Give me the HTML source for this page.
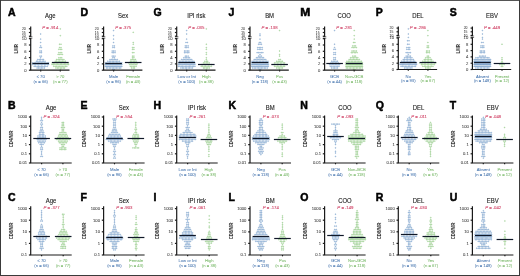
<!DOCTYPE html>
<html><head><meta charset="utf-8"><style>
html,body{margin:0;padding:0;background:#fff;}
body{width:520px;height:276px;overflow:hidden;position:relative;}
svg{position:absolute;left:0;top:0;will-change:transform;}
text{font-family:"Liberation Sans",sans-serif;}
.L{font-size:10.5px;font-weight:bold;fill:#000;stroke:#000;stroke-width:0.5;}
.T{font-size:6.6px;fill:#222;stroke:#222;stroke-width:0.12;text-anchor:middle;}
.P{font-size:4.3px;fill:#d2496b;stroke:#d2496b;stroke-width:0.1;text-anchor:middle;}
.Y{font-size:5.8px;font-weight:bold;fill:#333;stroke:#333;stroke-width:0.08;text-anchor:middle;}
.K{font-size:4.3px;fill:#444;stroke:#444;stroke-width:0.06;text-anchor:end;}
.K2{font-size:3.5px;fill:#444;stroke:#444;stroke-width:0.05;text-anchor:end;}
.X{font-size:4.2px;text-anchor:middle;stroke-width:0.05;}
.A{stroke:#1a1a1a;stroke-width:1.2;}
.A2{stroke:#222;stroke-width:0.6;}
.M{stroke:#101828;stroke-width:1.2;}
circle.b{r:0.47px;fill:#b4d0ec;stroke:#4477b0;stroke-width:0.32;}
circle.g{r:0.47px;fill:#c4e8bb;stroke:#62b052;stroke-width:0.32;}
</style></head><body>
<svg width="520" height="276" viewBox="0 0 520 276">
<rect x="0" y="0" width="520" height="276" fill="#fff"/>
<text transform="translate(8.0,15.900000000000002) scale(1.0,1)" class="L">A</text>
<text transform="translate(50.3,17.6) scale(0.9,1)" class="T">Age</text>
<text x="50.3" y="29.4" class="P"><tspan font-style="italic">P</tspan> = .914</text>
<text transform="translate(18.0,48.7) rotate(-90) scale(0.75,1)" class="Y">LMR</text>
<circle class="b" cx="40.70" cy="69.70"/>
<circle class="b" cx="37.08" cy="68.00"/>
<circle class="b" cx="38.53" cy="68.00"/>
<circle class="b" cx="39.98" cy="68.00"/>
<circle class="b" cx="41.43" cy="68.00"/>
<circle class="b" cx="42.88" cy="68.00"/>
<circle class="b" cx="44.33" cy="68.00"/>
<circle class="b" cx="34.18" cy="66.30"/>
<circle class="b" cx="35.62" cy="66.30"/>
<circle class="b" cx="37.08" cy="66.30"/>
<circle class="b" cx="38.53" cy="66.30"/>
<circle class="b" cx="39.98" cy="66.30"/>
<circle class="b" cx="41.43" cy="66.30"/>
<circle class="b" cx="42.88" cy="66.30"/>
<circle class="b" cx="44.33" cy="66.30"/>
<circle class="b" cx="45.78" cy="66.30"/>
<circle class="b" cx="47.23" cy="66.30"/>
<circle class="b" cx="32.73" cy="64.60"/>
<circle class="b" cx="34.18" cy="64.60"/>
<circle class="b" cx="35.62" cy="64.60"/>
<circle class="b" cx="37.08" cy="64.60"/>
<circle class="b" cx="38.53" cy="64.60"/>
<circle class="b" cx="39.98" cy="64.60"/>
<circle class="b" cx="41.43" cy="64.60"/>
<circle class="b" cx="42.88" cy="64.60"/>
<circle class="b" cx="44.33" cy="64.60"/>
<circle class="b" cx="45.78" cy="64.60"/>
<circle class="b" cx="47.23" cy="64.60"/>
<circle class="b" cx="48.68" cy="64.60"/>
<circle class="b" cx="32.73" cy="62.90"/>
<circle class="b" cx="34.18" cy="62.90"/>
<circle class="b" cx="35.62" cy="62.90"/>
<circle class="b" cx="37.08" cy="62.90"/>
<circle class="b" cx="38.53" cy="62.90"/>
<circle class="b" cx="39.98" cy="62.90"/>
<circle class="b" cx="41.43" cy="62.90"/>
<circle class="b" cx="42.88" cy="62.90"/>
<circle class="b" cx="44.33" cy="62.90"/>
<circle class="b" cx="45.78" cy="62.90"/>
<circle class="b" cx="47.23" cy="62.90"/>
<circle class="b" cx="48.68" cy="62.90"/>
<circle class="b" cx="40.70" cy="57.80"/>
<circle class="b" cx="37.80" cy="59.50"/>
<circle class="b" cx="39.25" cy="59.50"/>
<circle class="b" cx="40.70" cy="59.50"/>
<circle class="b" cx="42.15" cy="59.50"/>
<circle class="b" cx="43.60" cy="59.50"/>
<circle class="b" cx="36.35" cy="61.20"/>
<circle class="b" cx="37.80" cy="61.20"/>
<circle class="b" cx="39.25" cy="61.20"/>
<circle class="b" cx="40.70" cy="61.20"/>
<circle class="b" cx="42.15" cy="61.20"/>
<circle class="b" cx="43.60" cy="61.20"/>
<circle class="b" cx="45.05" cy="61.20"/>
<circle class="b" cx="39.98" cy="56.10"/>
<circle class="b" cx="41.43" cy="56.10"/>
<circle class="b" cx="39.98" cy="52.70"/>
<circle class="b" cx="41.43" cy="52.70"/>
<circle class="b" cx="39.98" cy="51.00"/>
<circle class="b" cx="41.43" cy="51.00"/>
<circle class="b" cx="39.98" cy="47.60"/>
<circle class="b" cx="41.43" cy="47.60"/>
<circle class="b" cx="40.70" cy="45.90"/>
<circle class="b" cx="40.70" cy="42.50"/>
<circle class="b" cx="40.70" cy="39.10"/>
<circle class="b" cx="40.70" cy="34.00"/>
<line x1="32.4" x2="49.0" y1="63.50" y2="63.50" class="M"/>
<line x1="40.7" x2="40.7" y1="70.2" y2="71.5" class="A"/>
<text x="40.7" y="78.3" class="X" fill="#4a78b0" stroke="#4a78b0">≤ 70</text>
<text x="40.7" y="83.1" class="X" fill="#4a78b0" stroke="#4a78b0">(n = 66)</text>
<circle class="g" cx="60.30" cy="69.70"/>
<circle class="g" cx="55.95" cy="68.00"/>
<circle class="g" cx="57.40" cy="68.00"/>
<circle class="g" cx="58.85" cy="68.00"/>
<circle class="g" cx="60.30" cy="68.00"/>
<circle class="g" cx="61.75" cy="68.00"/>
<circle class="g" cx="63.20" cy="68.00"/>
<circle class="g" cx="64.65" cy="68.00"/>
<circle class="g" cx="53.77" cy="66.30"/>
<circle class="g" cx="55.22" cy="66.30"/>
<circle class="g" cx="56.67" cy="66.30"/>
<circle class="g" cx="58.12" cy="66.30"/>
<circle class="g" cx="59.57" cy="66.30"/>
<circle class="g" cx="61.02" cy="66.30"/>
<circle class="g" cx="62.47" cy="66.30"/>
<circle class="g" cx="63.92" cy="66.30"/>
<circle class="g" cx="65.38" cy="66.30"/>
<circle class="g" cx="66.83" cy="66.30"/>
<circle class="g" cx="52.05" cy="64.60"/>
<circle class="g" cx="53.42" cy="64.60"/>
<circle class="g" cx="54.80" cy="64.60"/>
<circle class="g" cx="56.17" cy="64.60"/>
<circle class="g" cx="57.55" cy="64.60"/>
<circle class="g" cx="58.92" cy="64.60"/>
<circle class="g" cx="60.30" cy="64.60"/>
<circle class="g" cx="61.67" cy="64.60"/>
<circle class="g" cx="63.05" cy="64.60"/>
<circle class="g" cx="64.42" cy="64.60"/>
<circle class="g" cx="65.80" cy="64.60"/>
<circle class="g" cx="67.17" cy="64.60"/>
<circle class="g" cx="68.55" cy="64.60"/>
<circle class="g" cx="52.05" cy="62.90"/>
<circle class="g" cx="53.42" cy="62.90"/>
<circle class="g" cx="54.80" cy="62.90"/>
<circle class="g" cx="56.17" cy="62.90"/>
<circle class="g" cx="57.55" cy="62.90"/>
<circle class="g" cx="58.92" cy="62.90"/>
<circle class="g" cx="60.30" cy="62.90"/>
<circle class="g" cx="61.67" cy="62.90"/>
<circle class="g" cx="63.05" cy="62.90"/>
<circle class="g" cx="64.42" cy="62.90"/>
<circle class="g" cx="65.80" cy="62.90"/>
<circle class="g" cx="67.17" cy="62.90"/>
<circle class="g" cx="68.55" cy="62.90"/>
<circle class="g" cx="58.85" cy="57.80"/>
<circle class="g" cx="60.30" cy="57.80"/>
<circle class="g" cx="61.75" cy="57.80"/>
<circle class="g" cx="56.67" cy="59.50"/>
<circle class="g" cx="58.12" cy="59.50"/>
<circle class="g" cx="59.57" cy="59.50"/>
<circle class="g" cx="61.02" cy="59.50"/>
<circle class="g" cx="62.47" cy="59.50"/>
<circle class="g" cx="63.92" cy="59.50"/>
<circle class="g" cx="55.22" cy="61.20"/>
<circle class="g" cx="56.67" cy="61.20"/>
<circle class="g" cx="58.12" cy="61.20"/>
<circle class="g" cx="59.57" cy="61.20"/>
<circle class="g" cx="61.02" cy="61.20"/>
<circle class="g" cx="62.47" cy="61.20"/>
<circle class="g" cx="63.92" cy="61.20"/>
<circle class="g" cx="65.38" cy="61.20"/>
<circle class="g" cx="58.12" cy="54.40"/>
<circle class="g" cx="59.57" cy="54.40"/>
<circle class="g" cx="61.02" cy="54.40"/>
<circle class="g" cx="62.47" cy="54.40"/>
<circle class="g" cx="58.85" cy="52.70"/>
<circle class="g" cx="60.30" cy="52.70"/>
<circle class="g" cx="61.75" cy="52.70"/>
<circle class="g" cx="58.85" cy="49.30"/>
<circle class="g" cx="60.30" cy="49.30"/>
<circle class="g" cx="61.75" cy="49.30"/>
<circle class="g" cx="59.57" cy="47.60"/>
<circle class="g" cx="61.02" cy="47.60"/>
<circle class="g" cx="59.57" cy="44.20"/>
<circle class="g" cx="61.02" cy="44.20"/>
<circle class="g" cx="60.30" cy="35.70"/>
<circle class="g" cx="60.30" cy="28.90"/>
<line x1="52.0" x2="68.6" y1="62.50" y2="62.50" class="M"/>
<line x1="60.3" x2="60.3" y1="70.2" y2="71.5" class="A"/>
<text x="60.3" y="78.3" class="X" fill="#7cba6c" stroke="#7cba6c">> 70</text>
<text x="60.3" y="83.1" class="X" fill="#7cba6c" stroke="#7cba6c">(n = 77)</text>
<line x1="30.7" x2="30.7" y1="26.5" y2="70.2" class="A"/>
<line x1="30.4" x2="69.5" y1="70.2" y2="70.2" class="A"/>
<rect x="29.099999999999998" y="36.900000000000006" width="3.4" height="1.1" fill="#fff"/>
<line x1="29.0" x2="32.4" y1="36.7" y2="36.7" class="A2"/>
<line x1="29.0" x2="32.4" y1="38.2" y2="38.2" class="A2"/>
<line x1="28.9" x2="30.7" y1="70.20" y2="70.20" class="A"/>
<text transform="translate(26.50,71.65) scale(0.97,1)" class="K">0</text>
<line x1="28.9" x2="30.7" y1="63.90" y2="63.90" class="A"/>
<text transform="translate(26.50,65.35) scale(0.97,1)" class="K">2</text>
<line x1="28.9" x2="30.7" y1="57.60" y2="57.60" class="A"/>
<text transform="translate(26.50,59.05) scale(0.97,1)" class="K">4</text>
<line x1="28.9" x2="30.7" y1="51.30" y2="51.30" class="A"/>
<text transform="translate(26.50,52.75) scale(0.97,1)" class="K">6</text>
<line x1="28.9" x2="30.7" y1="45.00" y2="45.00" class="A"/>
<text transform="translate(26.50,46.45) scale(0.97,1)" class="K">8</text>
<line x1="28.9" x2="30.7" y1="38.70" y2="38.70" class="A"/>
<text transform="translate(26.50,40.15) scale(0.97,1)" class="K">10</text>
<line x1="28.9" x2="30.7" y1="36.20" y2="36.20" class="A"/>
<text transform="translate(25.70,37.40) scale(0.97,1)" class="K2">10</text>
<line x1="28.9" x2="30.7" y1="32.50" y2="32.50" class="A"/>
<text transform="translate(25.70,33.70) scale(0.97,1)" class="K2">15</text>
<line x1="28.9" x2="30.7" y1="28.80" y2="28.80" class="A"/>
<text transform="translate(25.70,30.00) scale(0.97,1)" class="K2">20</text>
<text transform="translate(80.6,15.900000000000002) scale(1.0,1)" class="L">D</text>
<text transform="translate(123.2,17.6) scale(0.9,1)" class="T">Sex</text>
<text x="123.2" y="29.4" class="P"><tspan font-style="italic">P</tspan> = .375</text>
<text transform="translate(90.9,48.7) rotate(-90) scale(0.75,1)" class="Y">LMR</text>
<circle class="b" cx="112.88" cy="69.70"/>
<circle class="b" cx="114.32" cy="69.70"/>
<circle class="b" cx="106.35" cy="68.00"/>
<circle class="b" cx="107.80" cy="68.00"/>
<circle class="b" cx="109.25" cy="68.00"/>
<circle class="b" cx="110.70" cy="68.00"/>
<circle class="b" cx="112.15" cy="68.00"/>
<circle class="b" cx="113.60" cy="68.00"/>
<circle class="b" cx="115.05" cy="68.00"/>
<circle class="b" cx="116.50" cy="68.00"/>
<circle class="b" cx="117.95" cy="68.00"/>
<circle class="b" cx="119.40" cy="68.00"/>
<circle class="b" cx="120.85" cy="68.00"/>
<circle class="b" cx="105.35" cy="66.30"/>
<circle class="b" cx="106.38" cy="66.30"/>
<circle class="b" cx="107.41" cy="66.30"/>
<circle class="b" cx="108.44" cy="66.30"/>
<circle class="b" cx="109.47" cy="66.30"/>
<circle class="b" cx="110.51" cy="66.30"/>
<circle class="b" cx="111.54" cy="66.30"/>
<circle class="b" cx="112.57" cy="66.30"/>
<circle class="b" cx="113.60" cy="66.30"/>
<circle class="b" cx="114.63" cy="66.30"/>
<circle class="b" cx="115.66" cy="66.30"/>
<circle class="b" cx="116.69" cy="66.30"/>
<circle class="b" cx="117.72" cy="66.30"/>
<circle class="b" cx="118.76" cy="66.30"/>
<circle class="b" cx="119.79" cy="66.30"/>
<circle class="b" cx="120.82" cy="66.30"/>
<circle class="b" cx="121.85" cy="66.30"/>
<circle class="b" cx="105.35" cy="64.60"/>
<circle class="b" cx="106.27" cy="64.60"/>
<circle class="b" cx="107.18" cy="64.60"/>
<circle class="b" cx="108.10" cy="64.60"/>
<circle class="b" cx="109.02" cy="64.60"/>
<circle class="b" cx="109.93" cy="64.60"/>
<circle class="b" cx="110.85" cy="64.60"/>
<circle class="b" cx="111.77" cy="64.60"/>
<circle class="b" cx="112.68" cy="64.60"/>
<circle class="b" cx="113.60" cy="64.60"/>
<circle class="b" cx="114.52" cy="64.60"/>
<circle class="b" cx="115.43" cy="64.60"/>
<circle class="b" cx="116.35" cy="64.60"/>
<circle class="b" cx="117.27" cy="64.60"/>
<circle class="b" cx="118.18" cy="64.60"/>
<circle class="b" cx="119.10" cy="64.60"/>
<circle class="b" cx="120.02" cy="64.60"/>
<circle class="b" cx="120.93" cy="64.60"/>
<circle class="b" cx="121.85" cy="64.60"/>
<circle class="b" cx="112.88" cy="57.80"/>
<circle class="b" cx="114.32" cy="57.80"/>
<circle class="b" cx="109.97" cy="59.50"/>
<circle class="b" cx="111.42" cy="59.50"/>
<circle class="b" cx="112.88" cy="59.50"/>
<circle class="b" cx="114.32" cy="59.50"/>
<circle class="b" cx="115.77" cy="59.50"/>
<circle class="b" cx="117.22" cy="59.50"/>
<circle class="b" cx="107.80" cy="61.20"/>
<circle class="b" cx="109.25" cy="61.20"/>
<circle class="b" cx="110.70" cy="61.20"/>
<circle class="b" cx="112.15" cy="61.20"/>
<circle class="b" cx="113.60" cy="61.20"/>
<circle class="b" cx="115.05" cy="61.20"/>
<circle class="b" cx="116.50" cy="61.20"/>
<circle class="b" cx="117.95" cy="61.20"/>
<circle class="b" cx="119.40" cy="61.20"/>
<circle class="b" cx="105.35" cy="62.90"/>
<circle class="b" cx="106.72" cy="62.90"/>
<circle class="b" cx="108.10" cy="62.90"/>
<circle class="b" cx="109.47" cy="62.90"/>
<circle class="b" cx="110.85" cy="62.90"/>
<circle class="b" cx="112.22" cy="62.90"/>
<circle class="b" cx="113.60" cy="62.90"/>
<circle class="b" cx="114.97" cy="62.90"/>
<circle class="b" cx="116.35" cy="62.90"/>
<circle class="b" cx="117.72" cy="62.90"/>
<circle class="b" cx="119.10" cy="62.90"/>
<circle class="b" cx="120.47" cy="62.90"/>
<circle class="b" cx="121.85" cy="62.90"/>
<circle class="b" cx="112.15" cy="56.10"/>
<circle class="b" cx="113.60" cy="56.10"/>
<circle class="b" cx="115.05" cy="56.10"/>
<circle class="b" cx="112.15" cy="52.70"/>
<circle class="b" cx="113.60" cy="52.70"/>
<circle class="b" cx="115.05" cy="52.70"/>
<circle class="b" cx="112.15" cy="51.00"/>
<circle class="b" cx="113.60" cy="51.00"/>
<circle class="b" cx="115.05" cy="51.00"/>
<circle class="b" cx="112.88" cy="47.60"/>
<circle class="b" cx="114.32" cy="47.60"/>
<circle class="b" cx="112.88" cy="45.90"/>
<circle class="b" cx="114.32" cy="45.90"/>
<circle class="b" cx="113.60" cy="42.50"/>
<circle class="b" cx="113.60" cy="39.10"/>
<circle class="b" cx="113.60" cy="35.70"/>
<circle class="b" cx="113.60" cy="30.60"/>
<line x1="105.3" x2="121.9" y1="63.50" y2="63.50" class="M"/>
<line x1="113.6" x2="113.6" y1="70.2" y2="71.5" class="A"/>
<text x="113.6" y="78.3" class="X" fill="#4a78b0" stroke="#4a78b0">Male</text>
<text x="113.6" y="83.1" class="X" fill="#4a78b0" stroke="#4a78b0">(n = 96)</text>
<circle class="g" cx="131.75" cy="68.00"/>
<circle class="g" cx="133.20" cy="68.00"/>
<circle class="g" cx="134.65" cy="68.00"/>
<circle class="g" cx="130.30" cy="66.30"/>
<circle class="g" cx="131.75" cy="66.30"/>
<circle class="g" cx="133.20" cy="66.30"/>
<circle class="g" cx="134.65" cy="66.30"/>
<circle class="g" cx="136.10" cy="66.30"/>
<circle class="g" cx="129.57" cy="64.60"/>
<circle class="g" cx="131.02" cy="64.60"/>
<circle class="g" cx="132.47" cy="64.60"/>
<circle class="g" cx="133.92" cy="64.60"/>
<circle class="g" cx="135.38" cy="64.60"/>
<circle class="g" cx="136.82" cy="64.60"/>
<circle class="g" cx="128.85" cy="62.90"/>
<circle class="g" cx="130.30" cy="62.90"/>
<circle class="g" cx="131.75" cy="62.90"/>
<circle class="g" cx="133.20" cy="62.90"/>
<circle class="g" cx="134.65" cy="62.90"/>
<circle class="g" cx="136.10" cy="62.90"/>
<circle class="g" cx="137.55" cy="62.90"/>
<circle class="g" cx="132.47" cy="56.10"/>
<circle class="g" cx="133.92" cy="56.10"/>
<circle class="g" cx="132.47" cy="57.80"/>
<circle class="g" cx="133.92" cy="57.80"/>
<circle class="g" cx="131.02" cy="59.50"/>
<circle class="g" cx="132.47" cy="59.50"/>
<circle class="g" cx="133.92" cy="59.50"/>
<circle class="g" cx="135.38" cy="59.50"/>
<circle class="g" cx="130.30" cy="61.20"/>
<circle class="g" cx="131.75" cy="61.20"/>
<circle class="g" cx="133.20" cy="61.20"/>
<circle class="g" cx="134.65" cy="61.20"/>
<circle class="g" cx="136.10" cy="61.20"/>
<circle class="g" cx="132.47" cy="52.70"/>
<circle class="g" cx="133.92" cy="52.70"/>
<circle class="g" cx="132.47" cy="49.30"/>
<circle class="g" cx="133.92" cy="49.30"/>
<circle class="g" cx="132.47" cy="47.60"/>
<circle class="g" cx="133.92" cy="47.60"/>
<circle class="g" cx="133.20" cy="44.20"/>
<circle class="g" cx="133.20" cy="42.50"/>
<circle class="g" cx="133.20" cy="32.30"/>
<line x1="124.9" x2="141.5" y1="62.50" y2="62.50" class="M"/>
<line x1="133.2" x2="133.2" y1="70.2" y2="71.5" class="A"/>
<text x="133.2" y="78.3" class="X" fill="#7cba6c" stroke="#7cba6c">Female</text>
<text x="133.2" y="83.1" class="X" fill="#7cba6c" stroke="#7cba6c">(n = 43)</text>
<line x1="103.6" x2="103.6" y1="26.5" y2="70.2" class="A"/>
<line x1="103.3" x2="142.4" y1="70.2" y2="70.2" class="A"/>
<rect x="102.0" y="36.900000000000006" width="3.4" height="1.1" fill="#fff"/>
<line x1="101.89999999999999" x2="105.3" y1="36.7" y2="36.7" class="A2"/>
<line x1="101.89999999999999" x2="105.3" y1="38.2" y2="38.2" class="A2"/>
<line x1="101.8" x2="103.6" y1="70.20" y2="70.20" class="A"/>
<text transform="translate(99.40,71.65) scale(0.97,1)" class="K">0</text>
<line x1="101.8" x2="103.6" y1="63.90" y2="63.90" class="A"/>
<text transform="translate(99.40,65.35) scale(0.97,1)" class="K">2</text>
<line x1="101.8" x2="103.6" y1="57.60" y2="57.60" class="A"/>
<text transform="translate(99.40,59.05) scale(0.97,1)" class="K">4</text>
<line x1="101.8" x2="103.6" y1="51.30" y2="51.30" class="A"/>
<text transform="translate(99.40,52.75) scale(0.97,1)" class="K">6</text>
<line x1="101.8" x2="103.6" y1="45.00" y2="45.00" class="A"/>
<text transform="translate(99.40,46.45) scale(0.97,1)" class="K">8</text>
<line x1="101.8" x2="103.6" y1="38.70" y2="38.70" class="A"/>
<text transform="translate(99.40,40.15) scale(0.97,1)" class="K">10</text>
<line x1="101.8" x2="103.6" y1="36.20" y2="36.20" class="A"/>
<text transform="translate(98.60,37.40) scale(0.97,1)" class="K2">10</text>
<line x1="101.8" x2="103.6" y1="32.50" y2="32.50" class="A"/>
<text transform="translate(98.60,33.70) scale(0.97,1)" class="K2">15</text>
<line x1="101.8" x2="103.6" y1="28.80" y2="28.80" class="A"/>
<text transform="translate(98.60,30.00) scale(0.97,1)" class="K2">20</text>
<text transform="translate(153.6,15.900000000000002) scale(1.0,1)" class="L">G</text>
<text transform="translate(196.3,17.6) scale(0.9,1)" class="T">IPI risk</text>
<text x="196.3" y="29.4" class="P"><tspan font-style="italic">P</tspan> = .035</text>
<text transform="translate(164.0,48.7) rotate(-90) scale(0.75,1)" class="Y">LMR</text>
<circle class="b" cx="186.70" cy="69.70"/>
<circle class="b" cx="180.90" cy="68.00"/>
<circle class="b" cx="182.35" cy="68.00"/>
<circle class="b" cx="183.80" cy="68.00"/>
<circle class="b" cx="185.25" cy="68.00"/>
<circle class="b" cx="186.70" cy="68.00"/>
<circle class="b" cx="188.15" cy="68.00"/>
<circle class="b" cx="189.60" cy="68.00"/>
<circle class="b" cx="191.05" cy="68.00"/>
<circle class="b" cx="192.50" cy="68.00"/>
<circle class="b" cx="178.45" cy="66.30"/>
<circle class="b" cx="179.82" cy="66.30"/>
<circle class="b" cx="181.20" cy="66.30"/>
<circle class="b" cx="182.57" cy="66.30"/>
<circle class="b" cx="183.95" cy="66.30"/>
<circle class="b" cx="185.32" cy="66.30"/>
<circle class="b" cx="186.70" cy="66.30"/>
<circle class="b" cx="188.07" cy="66.30"/>
<circle class="b" cx="189.45" cy="66.30"/>
<circle class="b" cx="190.82" cy="66.30"/>
<circle class="b" cx="192.20" cy="66.30"/>
<circle class="b" cx="193.57" cy="66.30"/>
<circle class="b" cx="194.95" cy="66.30"/>
<circle class="b" cx="178.45" cy="64.60"/>
<circle class="b" cx="179.55" cy="64.60"/>
<circle class="b" cx="180.65" cy="64.60"/>
<circle class="b" cx="181.75" cy="64.60"/>
<circle class="b" cx="182.85" cy="64.60"/>
<circle class="b" cx="183.95" cy="64.60"/>
<circle class="b" cx="185.05" cy="64.60"/>
<circle class="b" cx="186.15" cy="64.60"/>
<circle class="b" cx="187.25" cy="64.60"/>
<circle class="b" cx="188.35" cy="64.60"/>
<circle class="b" cx="189.45" cy="64.60"/>
<circle class="b" cx="190.55" cy="64.60"/>
<circle class="b" cx="191.65" cy="64.60"/>
<circle class="b" cx="192.75" cy="64.60"/>
<circle class="b" cx="193.85" cy="64.60"/>
<circle class="b" cx="194.95" cy="64.60"/>
<circle class="b" cx="178.45" cy="62.90"/>
<circle class="b" cx="179.63" cy="62.90"/>
<circle class="b" cx="180.81" cy="62.90"/>
<circle class="b" cx="181.99" cy="62.90"/>
<circle class="b" cx="183.16" cy="62.90"/>
<circle class="b" cx="184.34" cy="62.90"/>
<circle class="b" cx="185.52" cy="62.90"/>
<circle class="b" cx="186.70" cy="62.90"/>
<circle class="b" cx="187.88" cy="62.90"/>
<circle class="b" cx="189.06" cy="62.90"/>
<circle class="b" cx="190.24" cy="62.90"/>
<circle class="b" cx="191.41" cy="62.90"/>
<circle class="b" cx="192.59" cy="62.90"/>
<circle class="b" cx="193.77" cy="62.90"/>
<circle class="b" cx="194.95" cy="62.90"/>
<circle class="b" cx="185.25" cy="56.10"/>
<circle class="b" cx="186.70" cy="56.10"/>
<circle class="b" cx="188.15" cy="56.10"/>
<circle class="b" cx="183.80" cy="57.80"/>
<circle class="b" cx="185.25" cy="57.80"/>
<circle class="b" cx="186.70" cy="57.80"/>
<circle class="b" cx="188.15" cy="57.80"/>
<circle class="b" cx="189.60" cy="57.80"/>
<circle class="b" cx="181.62" cy="59.50"/>
<circle class="b" cx="183.07" cy="59.50"/>
<circle class="b" cx="184.52" cy="59.50"/>
<circle class="b" cx="185.97" cy="59.50"/>
<circle class="b" cx="187.42" cy="59.50"/>
<circle class="b" cx="188.88" cy="59.50"/>
<circle class="b" cx="190.32" cy="59.50"/>
<circle class="b" cx="191.77" cy="59.50"/>
<circle class="b" cx="179.45" cy="61.20"/>
<circle class="b" cx="180.90" cy="61.20"/>
<circle class="b" cx="182.35" cy="61.20"/>
<circle class="b" cx="183.80" cy="61.20"/>
<circle class="b" cx="185.25" cy="61.20"/>
<circle class="b" cx="186.70" cy="61.20"/>
<circle class="b" cx="188.15" cy="61.20"/>
<circle class="b" cx="189.60" cy="61.20"/>
<circle class="b" cx="191.05" cy="61.20"/>
<circle class="b" cx="192.50" cy="61.20"/>
<circle class="b" cx="193.95" cy="61.20"/>
<circle class="b" cx="184.52" cy="52.70"/>
<circle class="b" cx="185.97" cy="52.70"/>
<circle class="b" cx="187.42" cy="52.70"/>
<circle class="b" cx="188.88" cy="52.70"/>
<circle class="b" cx="184.52" cy="51.00"/>
<circle class="b" cx="185.97" cy="51.00"/>
<circle class="b" cx="187.42" cy="51.00"/>
<circle class="b" cx="188.88" cy="51.00"/>
<circle class="b" cx="185.25" cy="47.60"/>
<circle class="b" cx="186.70" cy="47.60"/>
<circle class="b" cx="188.15" cy="47.60"/>
<circle class="b" cx="185.25" cy="45.90"/>
<circle class="b" cx="186.70" cy="45.90"/>
<circle class="b" cx="188.15" cy="45.90"/>
<circle class="b" cx="185.97" cy="42.50"/>
<circle class="b" cx="187.42" cy="42.50"/>
<circle class="b" cx="186.70" cy="39.10"/>
<circle class="b" cx="186.70" cy="34.00"/>
<circle class="b" cx="186.70" cy="30.60"/>
<line x1="178.4" x2="195.0" y1="62.50" y2="62.50" class="M"/>
<line x1="186.7" x2="186.7" y1="70.2" y2="71.5" class="A"/>
<text x="186.7" y="78.3" class="X" fill="#4a78b0" stroke="#4a78b0">Low or Int</text>
<text x="186.7" y="83.1" class="X" fill="#4a78b0" stroke="#4a78b0">(n = 100)</text>
<circle class="g" cx="206.30" cy="69.70"/>
<circle class="g" cx="203.40" cy="68.00"/>
<circle class="g" cx="204.85" cy="68.00"/>
<circle class="g" cx="206.30" cy="68.00"/>
<circle class="g" cx="207.75" cy="68.00"/>
<circle class="g" cx="209.20" cy="68.00"/>
<circle class="g" cx="201.22" cy="66.30"/>
<circle class="g" cx="202.67" cy="66.30"/>
<circle class="g" cx="204.12" cy="66.30"/>
<circle class="g" cx="205.57" cy="66.30"/>
<circle class="g" cx="207.02" cy="66.30"/>
<circle class="g" cx="208.47" cy="66.30"/>
<circle class="g" cx="209.92" cy="66.30"/>
<circle class="g" cx="211.37" cy="66.30"/>
<circle class="g" cx="201.22" cy="64.60"/>
<circle class="g" cx="202.67" cy="64.60"/>
<circle class="g" cx="204.12" cy="64.60"/>
<circle class="g" cx="205.57" cy="64.60"/>
<circle class="g" cx="207.02" cy="64.60"/>
<circle class="g" cx="208.47" cy="64.60"/>
<circle class="g" cx="209.92" cy="64.60"/>
<circle class="g" cx="211.37" cy="64.60"/>
<circle class="g" cx="206.30" cy="59.50"/>
<circle class="g" cx="204.85" cy="61.20"/>
<circle class="g" cx="206.30" cy="61.20"/>
<circle class="g" cx="207.75" cy="61.20"/>
<circle class="g" cx="203.40" cy="62.90"/>
<circle class="g" cx="204.85" cy="62.90"/>
<circle class="g" cx="206.30" cy="62.90"/>
<circle class="g" cx="207.75" cy="62.90"/>
<circle class="g" cx="209.20" cy="62.90"/>
<circle class="g" cx="206.30" cy="57.80"/>
<circle class="g" cx="206.30" cy="54.40"/>
<circle class="g" cx="206.30" cy="52.70"/>
<circle class="g" cx="206.30" cy="49.30"/>
<circle class="g" cx="206.30" cy="47.60"/>
<circle class="g" cx="206.30" cy="44.20"/>
<circle class="g" cx="206.30" cy="28.90"/>
<line x1="198.0" x2="214.6" y1="64.50" y2="64.50" class="M"/>
<line x1="206.3" x2="206.3" y1="70.2" y2="71.5" class="A"/>
<text x="206.3" y="78.3" class="X" fill="#7cba6c" stroke="#7cba6c">High</text>
<text x="206.3" y="83.1" class="X" fill="#7cba6c" stroke="#7cba6c">(n = 38)</text>
<line x1="176.7" x2="176.7" y1="26.5" y2="70.2" class="A"/>
<line x1="176.39999999999998" x2="215.5" y1="70.2" y2="70.2" class="A"/>
<rect x="175.1" y="36.900000000000006" width="3.4" height="1.1" fill="#fff"/>
<line x1="175.0" x2="178.39999999999998" y1="36.7" y2="36.7" class="A2"/>
<line x1="175.0" x2="178.39999999999998" y1="38.2" y2="38.2" class="A2"/>
<line x1="174.89999999999998" x2="176.7" y1="70.20" y2="70.20" class="A"/>
<text transform="translate(172.50,71.65) scale(0.97,1)" class="K">0</text>
<line x1="174.89999999999998" x2="176.7" y1="63.90" y2="63.90" class="A"/>
<text transform="translate(172.50,65.35) scale(0.97,1)" class="K">2</text>
<line x1="174.89999999999998" x2="176.7" y1="57.60" y2="57.60" class="A"/>
<text transform="translate(172.50,59.05) scale(0.97,1)" class="K">4</text>
<line x1="174.89999999999998" x2="176.7" y1="51.30" y2="51.30" class="A"/>
<text transform="translate(172.50,52.75) scale(0.97,1)" class="K">6</text>
<line x1="174.89999999999998" x2="176.7" y1="45.00" y2="45.00" class="A"/>
<text transform="translate(172.50,46.45) scale(0.97,1)" class="K">8</text>
<line x1="174.89999999999998" x2="176.7" y1="38.70" y2="38.70" class="A"/>
<text transform="translate(172.50,40.15) scale(0.97,1)" class="K">10</text>
<line x1="174.89999999999998" x2="176.7" y1="36.20" y2="36.20" class="A"/>
<text transform="translate(171.70,37.40) scale(0.97,1)" class="K2">10</text>
<line x1="174.89999999999998" x2="176.7" y1="32.50" y2="32.50" class="A"/>
<text transform="translate(171.70,33.70) scale(0.97,1)" class="K2">15</text>
<line x1="174.89999999999998" x2="176.7" y1="28.80" y2="28.80" class="A"/>
<text transform="translate(171.70,30.00) scale(0.97,1)" class="K2">20</text>
<text transform="translate(228.4,15.900000000000002) scale(1.0,1)" class="L">J</text>
<text transform="translate(269.6,17.6) scale(0.9,1)" class="T">BM</text>
<text x="269.6" y="29.4" class="P"><tspan font-style="italic">P</tspan> = .138</text>
<text transform="translate(237.3,48.7) rotate(-90) scale(0.75,1)" class="Y">LMR</text>
<circle class="b" cx="259.27" cy="69.70"/>
<circle class="b" cx="260.73" cy="69.70"/>
<circle class="b" cx="252.75" cy="68.00"/>
<circle class="b" cx="254.20" cy="68.00"/>
<circle class="b" cx="255.65" cy="68.00"/>
<circle class="b" cx="257.10" cy="68.00"/>
<circle class="b" cx="258.55" cy="68.00"/>
<circle class="b" cx="260.00" cy="68.00"/>
<circle class="b" cx="261.45" cy="68.00"/>
<circle class="b" cx="262.90" cy="68.00"/>
<circle class="b" cx="264.35" cy="68.00"/>
<circle class="b" cx="265.80" cy="68.00"/>
<circle class="b" cx="267.25" cy="68.00"/>
<circle class="b" cx="251.75" cy="66.30"/>
<circle class="b" cx="252.85" cy="66.30"/>
<circle class="b" cx="253.95" cy="66.30"/>
<circle class="b" cx="255.05" cy="66.30"/>
<circle class="b" cx="256.15" cy="66.30"/>
<circle class="b" cx="257.25" cy="66.30"/>
<circle class="b" cx="258.35" cy="66.30"/>
<circle class="b" cx="259.45" cy="66.30"/>
<circle class="b" cx="260.55" cy="66.30"/>
<circle class="b" cx="261.65" cy="66.30"/>
<circle class="b" cx="262.75" cy="66.30"/>
<circle class="b" cx="263.85" cy="66.30"/>
<circle class="b" cx="264.95" cy="66.30"/>
<circle class="b" cx="266.05" cy="66.30"/>
<circle class="b" cx="267.15" cy="66.30"/>
<circle class="b" cx="268.25" cy="66.30"/>
<circle class="b" cx="251.75" cy="64.60"/>
<circle class="b" cx="252.62" cy="64.60"/>
<circle class="b" cx="253.49" cy="64.60"/>
<circle class="b" cx="254.36" cy="64.60"/>
<circle class="b" cx="255.22" cy="64.60"/>
<circle class="b" cx="256.09" cy="64.60"/>
<circle class="b" cx="256.96" cy="64.60"/>
<circle class="b" cx="257.83" cy="64.60"/>
<circle class="b" cx="258.70" cy="64.60"/>
<circle class="b" cx="259.57" cy="64.60"/>
<circle class="b" cx="260.43" cy="64.60"/>
<circle class="b" cx="261.30" cy="64.60"/>
<circle class="b" cx="262.17" cy="64.60"/>
<circle class="b" cx="263.04" cy="64.60"/>
<circle class="b" cx="263.91" cy="64.60"/>
<circle class="b" cx="264.78" cy="64.60"/>
<circle class="b" cx="265.64" cy="64.60"/>
<circle class="b" cx="266.51" cy="64.60"/>
<circle class="b" cx="267.38" cy="64.60"/>
<circle class="b" cx="268.25" cy="64.60"/>
<circle class="b" cx="251.75" cy="62.90"/>
<circle class="b" cx="252.78" cy="62.90"/>
<circle class="b" cx="253.81" cy="62.90"/>
<circle class="b" cx="254.84" cy="62.90"/>
<circle class="b" cx="255.88" cy="62.90"/>
<circle class="b" cx="256.91" cy="62.90"/>
<circle class="b" cx="257.94" cy="62.90"/>
<circle class="b" cx="258.97" cy="62.90"/>
<circle class="b" cx="260.00" cy="62.90"/>
<circle class="b" cx="261.03" cy="62.90"/>
<circle class="b" cx="262.06" cy="62.90"/>
<circle class="b" cx="263.09" cy="62.90"/>
<circle class="b" cx="264.12" cy="62.90"/>
<circle class="b" cx="265.16" cy="62.90"/>
<circle class="b" cx="266.19" cy="62.90"/>
<circle class="b" cx="267.22" cy="62.90"/>
<circle class="b" cx="268.25" cy="62.90"/>
<circle class="b" cx="260.00" cy="54.40"/>
<circle class="b" cx="258.55" cy="56.10"/>
<circle class="b" cx="260.00" cy="56.10"/>
<circle class="b" cx="261.45" cy="56.10"/>
<circle class="b" cx="256.38" cy="57.80"/>
<circle class="b" cx="257.82" cy="57.80"/>
<circle class="b" cx="259.27" cy="57.80"/>
<circle class="b" cx="260.73" cy="57.80"/>
<circle class="b" cx="262.18" cy="57.80"/>
<circle class="b" cx="263.62" cy="57.80"/>
<circle class="b" cx="254.20" cy="59.50"/>
<circle class="b" cx="255.65" cy="59.50"/>
<circle class="b" cx="257.10" cy="59.50"/>
<circle class="b" cx="258.55" cy="59.50"/>
<circle class="b" cx="260.00" cy="59.50"/>
<circle class="b" cx="261.45" cy="59.50"/>
<circle class="b" cx="262.90" cy="59.50"/>
<circle class="b" cx="264.35" cy="59.50"/>
<circle class="b" cx="265.80" cy="59.50"/>
<circle class="b" cx="252.03" cy="61.20"/>
<circle class="b" cx="253.47" cy="61.20"/>
<circle class="b" cx="254.93" cy="61.20"/>
<circle class="b" cx="256.38" cy="61.20"/>
<circle class="b" cx="257.82" cy="61.20"/>
<circle class="b" cx="259.27" cy="61.20"/>
<circle class="b" cx="260.73" cy="61.20"/>
<circle class="b" cx="262.18" cy="61.20"/>
<circle class="b" cx="263.62" cy="61.20"/>
<circle class="b" cx="265.07" cy="61.20"/>
<circle class="b" cx="266.52" cy="61.20"/>
<circle class="b" cx="267.98" cy="61.20"/>
<circle class="b" cx="257.10" cy="52.70"/>
<circle class="b" cx="258.55" cy="52.70"/>
<circle class="b" cx="260.00" cy="52.70"/>
<circle class="b" cx="261.45" cy="52.70"/>
<circle class="b" cx="262.90" cy="52.70"/>
<circle class="b" cx="257.82" cy="49.30"/>
<circle class="b" cx="259.27" cy="49.30"/>
<circle class="b" cx="260.73" cy="49.30"/>
<circle class="b" cx="262.18" cy="49.30"/>
<circle class="b" cx="257.82" cy="47.60"/>
<circle class="b" cx="259.27" cy="47.60"/>
<circle class="b" cx="260.73" cy="47.60"/>
<circle class="b" cx="262.18" cy="47.60"/>
<circle class="b" cx="258.55" cy="44.20"/>
<circle class="b" cx="260.00" cy="44.20"/>
<circle class="b" cx="261.45" cy="44.20"/>
<circle class="b" cx="259.27" cy="42.50"/>
<circle class="b" cx="260.73" cy="42.50"/>
<circle class="b" cx="260.00" cy="39.10"/>
<circle class="b" cx="260.00" cy="35.70"/>
<circle class="b" cx="260.00" cy="34.00"/>
<line x1="251.7" x2="268.3" y1="62.50" y2="62.50" class="M"/>
<line x1="260.0" x2="260.0" y1="70.2" y2="71.5" class="A"/>
<text x="260.0" y="78.3" class="X" fill="#4a78b0" stroke="#4a78b0">Neg</text>
<text x="260.0" y="83.1" class="X" fill="#4a78b0" stroke="#4a78b0">(n = 118)</text>
<circle class="g" cx="279.60" cy="69.70"/>
<circle class="g" cx="276.70" cy="68.00"/>
<circle class="g" cx="278.15" cy="68.00"/>
<circle class="g" cx="279.60" cy="68.00"/>
<circle class="g" cx="281.05" cy="68.00"/>
<circle class="g" cx="282.50" cy="68.00"/>
<circle class="g" cx="274.53" cy="66.30"/>
<circle class="g" cx="275.98" cy="66.30"/>
<circle class="g" cx="277.43" cy="66.30"/>
<circle class="g" cx="278.88" cy="66.30"/>
<circle class="g" cx="280.33" cy="66.30"/>
<circle class="g" cx="281.78" cy="66.30"/>
<circle class="g" cx="283.23" cy="66.30"/>
<circle class="g" cx="284.68" cy="66.30"/>
<circle class="g" cx="273.08" cy="64.60"/>
<circle class="g" cx="274.53" cy="64.60"/>
<circle class="g" cx="275.98" cy="64.60"/>
<circle class="g" cx="277.43" cy="64.60"/>
<circle class="g" cx="278.88" cy="64.60"/>
<circle class="g" cx="280.33" cy="64.60"/>
<circle class="g" cx="281.78" cy="64.60"/>
<circle class="g" cx="283.23" cy="64.60"/>
<circle class="g" cx="284.68" cy="64.60"/>
<circle class="g" cx="286.12" cy="64.60"/>
<circle class="g" cx="278.88" cy="59.50"/>
<circle class="g" cx="280.33" cy="59.50"/>
<circle class="g" cx="276.70" cy="61.20"/>
<circle class="g" cx="278.15" cy="61.20"/>
<circle class="g" cx="279.60" cy="61.20"/>
<circle class="g" cx="281.05" cy="61.20"/>
<circle class="g" cx="282.50" cy="61.20"/>
<circle class="g" cx="274.53" cy="62.90"/>
<circle class="g" cx="275.98" cy="62.90"/>
<circle class="g" cx="277.43" cy="62.90"/>
<circle class="g" cx="278.88" cy="62.90"/>
<circle class="g" cx="280.33" cy="62.90"/>
<circle class="g" cx="281.78" cy="62.90"/>
<circle class="g" cx="283.23" cy="62.90"/>
<circle class="g" cx="284.68" cy="62.90"/>
<circle class="g" cx="279.60" cy="56.10"/>
<circle class="g" cx="279.60" cy="54.40"/>
<circle class="g" cx="279.60" cy="51.00"/>
<circle class="g" cx="279.60" cy="30.60"/>
<line x1="271.3" x2="287.9" y1="64.50" y2="64.50" class="M"/>
<line x1="279.6" x2="279.6" y1="70.2" y2="71.5" class="A"/>
<text x="279.6" y="78.3" class="X" fill="#7cba6c" stroke="#7cba6c">Pos</text>
<text x="279.6" y="83.1" class="X" fill="#7cba6c" stroke="#7cba6c">(n = 43)</text>
<line x1="250.0" x2="250.0" y1="26.5" y2="70.2" class="A"/>
<line x1="249.7" x2="288.8" y1="70.2" y2="70.2" class="A"/>
<rect x="248.4" y="36.900000000000006" width="3.4" height="1.1" fill="#fff"/>
<line x1="248.3" x2="251.7" y1="36.7" y2="36.7" class="A2"/>
<line x1="248.3" x2="251.7" y1="38.2" y2="38.2" class="A2"/>
<line x1="248.2" x2="250.0" y1="70.20" y2="70.20" class="A"/>
<text transform="translate(245.80,71.65) scale(0.97,1)" class="K">0</text>
<line x1="248.2" x2="250.0" y1="63.90" y2="63.90" class="A"/>
<text transform="translate(245.80,65.35) scale(0.97,1)" class="K">2</text>
<line x1="248.2" x2="250.0" y1="57.60" y2="57.60" class="A"/>
<text transform="translate(245.80,59.05) scale(0.97,1)" class="K">4</text>
<line x1="248.2" x2="250.0" y1="51.30" y2="51.30" class="A"/>
<text transform="translate(245.80,52.75) scale(0.97,1)" class="K">6</text>
<line x1="248.2" x2="250.0" y1="45.00" y2="45.00" class="A"/>
<text transform="translate(245.80,46.45) scale(0.97,1)" class="K">8</text>
<line x1="248.2" x2="250.0" y1="38.70" y2="38.70" class="A"/>
<text transform="translate(245.80,40.15) scale(0.97,1)" class="K">10</text>
<line x1="248.2" x2="250.0" y1="36.20" y2="36.20" class="A"/>
<text transform="translate(245.00,37.40) scale(0.97,1)" class="K2">10</text>
<line x1="248.2" x2="250.0" y1="32.50" y2="32.50" class="A"/>
<text transform="translate(245.00,33.70) scale(0.97,1)" class="K2">15</text>
<line x1="248.2" x2="250.0" y1="28.80" y2="28.80" class="A"/>
<text transform="translate(245.00,30.00) scale(0.97,1)" class="K2">20</text>
<text transform="translate(300.3,15.900000000000002) scale(1.15,1)" class="L">M</text>
<text transform="translate(344.2,17.6) scale(0.9,1)" class="T">COO</text>
<text x="344.2" y="29.4" class="P"><tspan font-style="italic">P</tspan> = .281</text>
<text transform="translate(311.9,48.7) rotate(-90) scale(0.75,1)" class="Y">LMR</text>
<circle class="b" cx="331.70" cy="68.00"/>
<circle class="b" cx="333.15" cy="68.00"/>
<circle class="b" cx="334.60" cy="68.00"/>
<circle class="b" cx="336.05" cy="68.00"/>
<circle class="b" cx="337.50" cy="68.00"/>
<circle class="b" cx="330.25" cy="66.30"/>
<circle class="b" cx="331.70" cy="66.30"/>
<circle class="b" cx="333.15" cy="66.30"/>
<circle class="b" cx="334.60" cy="66.30"/>
<circle class="b" cx="336.05" cy="66.30"/>
<circle class="b" cx="337.50" cy="66.30"/>
<circle class="b" cx="338.95" cy="66.30"/>
<circle class="b" cx="329.53" cy="64.60"/>
<circle class="b" cx="330.98" cy="64.60"/>
<circle class="b" cx="332.43" cy="64.60"/>
<circle class="b" cx="333.88" cy="64.60"/>
<circle class="b" cx="335.33" cy="64.60"/>
<circle class="b" cx="336.78" cy="64.60"/>
<circle class="b" cx="338.23" cy="64.60"/>
<circle class="b" cx="339.68" cy="64.60"/>
<circle class="b" cx="330.98" cy="62.90"/>
<circle class="b" cx="332.43" cy="62.90"/>
<circle class="b" cx="333.88" cy="62.90"/>
<circle class="b" cx="335.33" cy="62.90"/>
<circle class="b" cx="336.78" cy="62.90"/>
<circle class="b" cx="338.23" cy="62.90"/>
<circle class="b" cx="333.88" cy="57.80"/>
<circle class="b" cx="335.33" cy="57.80"/>
<circle class="b" cx="333.88" cy="59.50"/>
<circle class="b" cx="335.33" cy="59.50"/>
<circle class="b" cx="331.70" cy="61.20"/>
<circle class="b" cx="333.15" cy="61.20"/>
<circle class="b" cx="334.60" cy="61.20"/>
<circle class="b" cx="336.05" cy="61.20"/>
<circle class="b" cx="337.50" cy="61.20"/>
<circle class="b" cx="333.88" cy="54.40"/>
<circle class="b" cx="335.33" cy="54.40"/>
<circle class="b" cx="333.88" cy="52.70"/>
<circle class="b" cx="335.33" cy="52.70"/>
<circle class="b" cx="333.88" cy="49.30"/>
<circle class="b" cx="335.33" cy="49.30"/>
<circle class="b" cx="334.60" cy="47.60"/>
<circle class="b" cx="334.60" cy="44.20"/>
<circle class="b" cx="334.60" cy="30.60"/>
<line x1="326.3" x2="342.9" y1="63.50" y2="63.50" class="M"/>
<line x1="334.6" x2="334.6" y1="70.2" y2="71.5" class="A"/>
<text x="334.6" y="78.3" class="X" fill="#4a78b0" stroke="#4a78b0">GCB</text>
<text x="334.6" y="83.1" class="X" fill="#4a78b0" stroke="#4a78b0">(n = 44)</text>
<circle class="g" cx="353.48" cy="69.70"/>
<circle class="g" cx="354.93" cy="69.70"/>
<circle class="g" cx="346.23" cy="68.00"/>
<circle class="g" cx="347.68" cy="68.00"/>
<circle class="g" cx="349.13" cy="68.00"/>
<circle class="g" cx="350.58" cy="68.00"/>
<circle class="g" cx="352.03" cy="68.00"/>
<circle class="g" cx="353.48" cy="68.00"/>
<circle class="g" cx="354.93" cy="68.00"/>
<circle class="g" cx="356.38" cy="68.00"/>
<circle class="g" cx="357.83" cy="68.00"/>
<circle class="g" cx="359.28" cy="68.00"/>
<circle class="g" cx="360.73" cy="68.00"/>
<circle class="g" cx="362.18" cy="68.00"/>
<circle class="g" cx="345.95" cy="66.30"/>
<circle class="g" cx="346.98" cy="66.30"/>
<circle class="g" cx="348.01" cy="66.30"/>
<circle class="g" cx="349.04" cy="66.30"/>
<circle class="g" cx="350.08" cy="66.30"/>
<circle class="g" cx="351.11" cy="66.30"/>
<circle class="g" cx="352.14" cy="66.30"/>
<circle class="g" cx="353.17" cy="66.30"/>
<circle class="g" cx="354.20" cy="66.30"/>
<circle class="g" cx="355.23" cy="66.30"/>
<circle class="g" cx="356.26" cy="66.30"/>
<circle class="g" cx="357.29" cy="66.30"/>
<circle class="g" cx="358.33" cy="66.30"/>
<circle class="g" cx="359.36" cy="66.30"/>
<circle class="g" cx="360.39" cy="66.30"/>
<circle class="g" cx="361.42" cy="66.30"/>
<circle class="g" cx="362.45" cy="66.30"/>
<circle class="g" cx="345.95" cy="64.60"/>
<circle class="g" cx="346.74" cy="64.60"/>
<circle class="g" cx="347.52" cy="64.60"/>
<circle class="g" cx="348.31" cy="64.60"/>
<circle class="g" cx="349.09" cy="64.60"/>
<circle class="g" cx="349.88" cy="64.60"/>
<circle class="g" cx="350.66" cy="64.60"/>
<circle class="g" cx="351.45" cy="64.60"/>
<circle class="g" cx="352.24" cy="64.60"/>
<circle class="g" cx="353.02" cy="64.60"/>
<circle class="g" cx="353.81" cy="64.60"/>
<circle class="g" cx="354.59" cy="64.60"/>
<circle class="g" cx="355.38" cy="64.60"/>
<circle class="g" cx="356.16" cy="64.60"/>
<circle class="g" cx="356.95" cy="64.60"/>
<circle class="g" cx="357.74" cy="64.60"/>
<circle class="g" cx="358.52" cy="64.60"/>
<circle class="g" cx="359.31" cy="64.60"/>
<circle class="g" cx="360.09" cy="64.60"/>
<circle class="g" cx="360.88" cy="64.60"/>
<circle class="g" cx="361.66" cy="64.60"/>
<circle class="g" cx="362.45" cy="64.60"/>
<circle class="g" cx="345.95" cy="62.90"/>
<circle class="g" cx="347.05" cy="62.90"/>
<circle class="g" cx="348.15" cy="62.90"/>
<circle class="g" cx="349.25" cy="62.90"/>
<circle class="g" cx="350.35" cy="62.90"/>
<circle class="g" cx="351.45" cy="62.90"/>
<circle class="g" cx="352.55" cy="62.90"/>
<circle class="g" cx="353.65" cy="62.90"/>
<circle class="g" cx="354.75" cy="62.90"/>
<circle class="g" cx="355.85" cy="62.90"/>
<circle class="g" cx="356.95" cy="62.90"/>
<circle class="g" cx="358.05" cy="62.90"/>
<circle class="g" cx="359.15" cy="62.90"/>
<circle class="g" cx="360.25" cy="62.90"/>
<circle class="g" cx="361.35" cy="62.90"/>
<circle class="g" cx="362.45" cy="62.90"/>
<circle class="g" cx="352.75" cy="56.10"/>
<circle class="g" cx="354.20" cy="56.10"/>
<circle class="g" cx="355.65" cy="56.10"/>
<circle class="g" cx="350.58" cy="57.80"/>
<circle class="g" cx="352.03" cy="57.80"/>
<circle class="g" cx="353.48" cy="57.80"/>
<circle class="g" cx="354.93" cy="57.80"/>
<circle class="g" cx="356.38" cy="57.80"/>
<circle class="g" cx="357.83" cy="57.80"/>
<circle class="g" cx="349.13" cy="59.50"/>
<circle class="g" cx="350.58" cy="59.50"/>
<circle class="g" cx="352.03" cy="59.50"/>
<circle class="g" cx="353.48" cy="59.50"/>
<circle class="g" cx="354.93" cy="59.50"/>
<circle class="g" cx="356.38" cy="59.50"/>
<circle class="g" cx="357.83" cy="59.50"/>
<circle class="g" cx="359.28" cy="59.50"/>
<circle class="g" cx="346.95" cy="61.20"/>
<circle class="g" cx="348.40" cy="61.20"/>
<circle class="g" cx="349.85" cy="61.20"/>
<circle class="g" cx="351.30" cy="61.20"/>
<circle class="g" cx="352.75" cy="61.20"/>
<circle class="g" cx="354.20" cy="61.20"/>
<circle class="g" cx="355.65" cy="61.20"/>
<circle class="g" cx="357.10" cy="61.20"/>
<circle class="g" cx="358.55" cy="61.20"/>
<circle class="g" cx="360.00" cy="61.20"/>
<circle class="g" cx="361.45" cy="61.20"/>
<circle class="g" cx="351.30" cy="52.70"/>
<circle class="g" cx="352.75" cy="52.70"/>
<circle class="g" cx="354.20" cy="52.70"/>
<circle class="g" cx="355.65" cy="52.70"/>
<circle class="g" cx="357.10" cy="52.70"/>
<circle class="g" cx="352.03" cy="51.00"/>
<circle class="g" cx="353.48" cy="51.00"/>
<circle class="g" cx="354.93" cy="51.00"/>
<circle class="g" cx="356.38" cy="51.00"/>
<circle class="g" cx="352.03" cy="47.60"/>
<circle class="g" cx="353.48" cy="47.60"/>
<circle class="g" cx="354.93" cy="47.60"/>
<circle class="g" cx="356.38" cy="47.60"/>
<circle class="g" cx="352.75" cy="45.90"/>
<circle class="g" cx="354.20" cy="45.90"/>
<circle class="g" cx="355.65" cy="45.90"/>
<circle class="g" cx="353.48" cy="42.50"/>
<circle class="g" cx="354.93" cy="42.50"/>
<circle class="g" cx="354.20" cy="39.10"/>
<circle class="g" cx="354.20" cy="35.70"/>
<circle class="g" cx="354.20" cy="30.60"/>
<line x1="345.9" x2="362.5" y1="63.50" y2="63.50" class="M"/>
<line x1="354.2" x2="354.2" y1="70.2" y2="71.5" class="A"/>
<text x="354.2" y="78.3" class="X" fill="#7cba6c" stroke="#7cba6c">Non-GCB</text>
<text x="354.2" y="83.1" class="X" fill="#7cba6c" stroke="#7cba6c">(n = 118)</text>
<line x1="324.6" x2="324.6" y1="26.5" y2="70.2" class="A"/>
<line x1="324.3" x2="363.4" y1="70.2" y2="70.2" class="A"/>
<rect x="323.0" y="36.900000000000006" width="3.4" height="1.1" fill="#fff"/>
<line x1="322.90000000000003" x2="326.3" y1="36.7" y2="36.7" class="A2"/>
<line x1="322.90000000000003" x2="326.3" y1="38.2" y2="38.2" class="A2"/>
<line x1="322.8" x2="324.6" y1="70.20" y2="70.20" class="A"/>
<text transform="translate(320.40,71.65) scale(0.97,1)" class="K">0</text>
<line x1="322.8" x2="324.6" y1="63.90" y2="63.90" class="A"/>
<text transform="translate(320.40,65.35) scale(0.97,1)" class="K">2</text>
<line x1="322.8" x2="324.6" y1="57.60" y2="57.60" class="A"/>
<text transform="translate(320.40,59.05) scale(0.97,1)" class="K">4</text>
<line x1="322.8" x2="324.6" y1="51.30" y2="51.30" class="A"/>
<text transform="translate(320.40,52.75) scale(0.97,1)" class="K">6</text>
<line x1="322.8" x2="324.6" y1="45.00" y2="45.00" class="A"/>
<text transform="translate(320.40,46.45) scale(0.97,1)" class="K">8</text>
<line x1="322.8" x2="324.6" y1="38.70" y2="38.70" class="A"/>
<text transform="translate(320.40,40.15) scale(0.97,1)" class="K">10</text>
<line x1="322.8" x2="324.6" y1="36.20" y2="36.20" class="A"/>
<text transform="translate(319.60,37.40) scale(0.97,1)" class="K2">10</text>
<line x1="322.8" x2="324.6" y1="32.50" y2="32.50" class="A"/>
<text transform="translate(319.60,33.70) scale(0.97,1)" class="K2">15</text>
<line x1="322.8" x2="324.6" y1="28.80" y2="28.80" class="A"/>
<text transform="translate(319.60,30.00) scale(0.97,1)" class="K2">20</text>
<text transform="translate(375.8,15.900000000000002) scale(1.0,1)" class="L">P</text>
<text transform="translate(417.9,17.6) scale(0.9,1)" class="T">DEL</text>
<text x="417.9" y="29.4" class="P"><tspan font-style="italic">P</tspan> = .286</text>
<text transform="translate(385.6,48.7) rotate(-90) scale(0.75,1)" class="Y">LMR</text>
<circle class="b" cx="404.68" cy="68.00"/>
<circle class="b" cx="406.12" cy="68.00"/>
<circle class="b" cx="407.57" cy="68.00"/>
<circle class="b" cx="409.03" cy="68.00"/>
<circle class="b" cx="410.48" cy="68.00"/>
<circle class="b" cx="411.93" cy="68.00"/>
<circle class="b" cx="401.05" cy="66.30"/>
<circle class="b" cx="402.50" cy="66.30"/>
<circle class="b" cx="403.95" cy="66.30"/>
<circle class="b" cx="405.40" cy="66.30"/>
<circle class="b" cx="406.85" cy="66.30"/>
<circle class="b" cx="408.30" cy="66.30"/>
<circle class="b" cx="409.75" cy="66.30"/>
<circle class="b" cx="411.20" cy="66.30"/>
<circle class="b" cx="412.65" cy="66.30"/>
<circle class="b" cx="414.10" cy="66.30"/>
<circle class="b" cx="415.55" cy="66.30"/>
<circle class="b" cx="400.05" cy="64.60"/>
<circle class="b" cx="401.23" cy="64.60"/>
<circle class="b" cx="402.41" cy="64.60"/>
<circle class="b" cx="403.59" cy="64.60"/>
<circle class="b" cx="404.76" cy="64.60"/>
<circle class="b" cx="405.94" cy="64.60"/>
<circle class="b" cx="407.12" cy="64.60"/>
<circle class="b" cx="408.30" cy="64.60"/>
<circle class="b" cx="409.48" cy="64.60"/>
<circle class="b" cx="410.66" cy="64.60"/>
<circle class="b" cx="411.84" cy="64.60"/>
<circle class="b" cx="413.01" cy="64.60"/>
<circle class="b" cx="414.19" cy="64.60"/>
<circle class="b" cx="415.37" cy="64.60"/>
<circle class="b" cx="416.55" cy="64.60"/>
<circle class="b" cx="400.05" cy="62.90"/>
<circle class="b" cx="401.23" cy="62.90"/>
<circle class="b" cx="402.41" cy="62.90"/>
<circle class="b" cx="403.59" cy="62.90"/>
<circle class="b" cx="404.76" cy="62.90"/>
<circle class="b" cx="405.94" cy="62.90"/>
<circle class="b" cx="407.12" cy="62.90"/>
<circle class="b" cx="408.30" cy="62.90"/>
<circle class="b" cx="409.48" cy="62.90"/>
<circle class="b" cx="410.66" cy="62.90"/>
<circle class="b" cx="411.84" cy="62.90"/>
<circle class="b" cx="413.01" cy="62.90"/>
<circle class="b" cx="414.19" cy="62.90"/>
<circle class="b" cx="415.37" cy="62.90"/>
<circle class="b" cx="416.55" cy="62.90"/>
<circle class="b" cx="408.30" cy="54.40"/>
<circle class="b" cx="406.12" cy="56.10"/>
<circle class="b" cx="407.57" cy="56.10"/>
<circle class="b" cx="409.03" cy="56.10"/>
<circle class="b" cx="410.48" cy="56.10"/>
<circle class="b" cx="404.68" cy="57.80"/>
<circle class="b" cx="406.12" cy="57.80"/>
<circle class="b" cx="407.57" cy="57.80"/>
<circle class="b" cx="409.03" cy="57.80"/>
<circle class="b" cx="410.48" cy="57.80"/>
<circle class="b" cx="411.93" cy="57.80"/>
<circle class="b" cx="403.23" cy="59.50"/>
<circle class="b" cx="404.68" cy="59.50"/>
<circle class="b" cx="406.12" cy="59.50"/>
<circle class="b" cx="407.57" cy="59.50"/>
<circle class="b" cx="409.03" cy="59.50"/>
<circle class="b" cx="410.48" cy="59.50"/>
<circle class="b" cx="411.93" cy="59.50"/>
<circle class="b" cx="413.38" cy="59.50"/>
<circle class="b" cx="401.78" cy="61.20"/>
<circle class="b" cx="403.23" cy="61.20"/>
<circle class="b" cx="404.68" cy="61.20"/>
<circle class="b" cx="406.12" cy="61.20"/>
<circle class="b" cx="407.57" cy="61.20"/>
<circle class="b" cx="409.03" cy="61.20"/>
<circle class="b" cx="410.48" cy="61.20"/>
<circle class="b" cx="411.93" cy="61.20"/>
<circle class="b" cx="413.38" cy="61.20"/>
<circle class="b" cx="414.82" cy="61.20"/>
<circle class="b" cx="406.12" cy="52.70"/>
<circle class="b" cx="407.57" cy="52.70"/>
<circle class="b" cx="409.03" cy="52.70"/>
<circle class="b" cx="410.48" cy="52.70"/>
<circle class="b" cx="406.85" cy="49.30"/>
<circle class="b" cx="408.30" cy="49.30"/>
<circle class="b" cx="409.75" cy="49.30"/>
<circle class="b" cx="406.85" cy="47.60"/>
<circle class="b" cx="408.30" cy="47.60"/>
<circle class="b" cx="409.75" cy="47.60"/>
<circle class="b" cx="407.57" cy="44.20"/>
<circle class="b" cx="409.03" cy="44.20"/>
<circle class="b" cx="407.57" cy="40.80"/>
<circle class="b" cx="409.03" cy="40.80"/>
<circle class="b" cx="408.30" cy="37.40"/>
<circle class="b" cx="408.30" cy="34.00"/>
<circle class="b" cx="408.30" cy="28.90"/>
<line x1="400.0" x2="416.6" y1="62.50" y2="62.50" class="M"/>
<line x1="408.3" x2="408.3" y1="69.5" y2="70.8" class="A"/>
<text x="408.3" y="77.6" class="X" fill="#4a78b0" stroke="#4a78b0">No</text>
<text x="408.3" y="82.4" class="X" fill="#4a78b0" stroke="#4a78b0">(n = 93)</text>
<circle class="g" cx="425.73" cy="68.00"/>
<circle class="g" cx="427.18" cy="68.00"/>
<circle class="g" cx="428.63" cy="68.00"/>
<circle class="g" cx="430.08" cy="68.00"/>
<circle class="g" cx="422.83" cy="66.30"/>
<circle class="g" cx="424.28" cy="66.30"/>
<circle class="g" cx="425.73" cy="66.30"/>
<circle class="g" cx="427.18" cy="66.30"/>
<circle class="g" cx="428.63" cy="66.30"/>
<circle class="g" cx="430.08" cy="66.30"/>
<circle class="g" cx="431.53" cy="66.30"/>
<circle class="g" cx="432.98" cy="66.30"/>
<circle class="g" cx="421.38" cy="64.60"/>
<circle class="g" cx="422.83" cy="64.60"/>
<circle class="g" cx="424.28" cy="64.60"/>
<circle class="g" cx="425.73" cy="64.60"/>
<circle class="g" cx="427.18" cy="64.60"/>
<circle class="g" cx="428.63" cy="64.60"/>
<circle class="g" cx="430.08" cy="64.60"/>
<circle class="g" cx="431.53" cy="64.60"/>
<circle class="g" cx="432.98" cy="64.60"/>
<circle class="g" cx="434.43" cy="64.60"/>
<circle class="g" cx="419.93" cy="62.90"/>
<circle class="g" cx="421.38" cy="62.90"/>
<circle class="g" cx="422.83" cy="62.90"/>
<circle class="g" cx="424.28" cy="62.90"/>
<circle class="g" cx="425.73" cy="62.90"/>
<circle class="g" cx="427.18" cy="62.90"/>
<circle class="g" cx="428.63" cy="62.90"/>
<circle class="g" cx="430.08" cy="62.90"/>
<circle class="g" cx="431.53" cy="62.90"/>
<circle class="g" cx="432.98" cy="62.90"/>
<circle class="g" cx="434.43" cy="62.90"/>
<circle class="g" cx="435.88" cy="62.90"/>
<circle class="g" cx="427.18" cy="56.10"/>
<circle class="g" cx="428.63" cy="56.10"/>
<circle class="g" cx="425.73" cy="57.80"/>
<circle class="g" cx="427.18" cy="57.80"/>
<circle class="g" cx="428.63" cy="57.80"/>
<circle class="g" cx="430.08" cy="57.80"/>
<circle class="g" cx="424.28" cy="59.50"/>
<circle class="g" cx="425.73" cy="59.50"/>
<circle class="g" cx="427.18" cy="59.50"/>
<circle class="g" cx="428.63" cy="59.50"/>
<circle class="g" cx="430.08" cy="59.50"/>
<circle class="g" cx="431.53" cy="59.50"/>
<circle class="g" cx="422.83" cy="61.20"/>
<circle class="g" cx="424.28" cy="61.20"/>
<circle class="g" cx="425.73" cy="61.20"/>
<circle class="g" cx="427.18" cy="61.20"/>
<circle class="g" cx="428.63" cy="61.20"/>
<circle class="g" cx="430.08" cy="61.20"/>
<circle class="g" cx="431.53" cy="61.20"/>
<circle class="g" cx="432.98" cy="61.20"/>
<circle class="g" cx="426.45" cy="52.70"/>
<circle class="g" cx="427.90" cy="52.70"/>
<circle class="g" cx="429.35" cy="52.70"/>
<circle class="g" cx="426.45" cy="51.00"/>
<circle class="g" cx="427.90" cy="51.00"/>
<circle class="g" cx="429.35" cy="51.00"/>
<circle class="g" cx="427.18" cy="47.60"/>
<circle class="g" cx="428.63" cy="47.60"/>
<circle class="g" cx="427.18" cy="45.90"/>
<circle class="g" cx="428.63" cy="45.90"/>
<circle class="g" cx="427.90" cy="42.50"/>
<circle class="g" cx="427.90" cy="35.70"/>
<circle class="g" cx="427.90" cy="30.60"/>
<line x1="419.6" x2="436.2" y1="62.50" y2="62.50" class="M"/>
<line x1="427.9" x2="427.9" y1="69.5" y2="70.8" class="A"/>
<text x="427.9" y="77.6" class="X" fill="#7cba6c" stroke="#7cba6c">Yes</text>
<text x="427.9" y="82.4" class="X" fill="#7cba6c" stroke="#7cba6c">(n = 67)</text>
<line x1="398.3" x2="398.3" y1="26.5" y2="69.5" class="A"/>
<line x1="398.0" x2="437.1" y1="69.5" y2="69.5" class="A"/>
<rect x="396.7" y="36.2" width="3.4" height="1.1" fill="#fff"/>
<line x1="396.6" x2="400.0" y1="36.0" y2="36.0" class="A2"/>
<line x1="396.6" x2="400.0" y1="37.5" y2="37.5" class="A2"/>
<line x1="396.5" x2="398.3" y1="69.50" y2="69.50" class="A"/>
<text transform="translate(394.10,70.95) scale(0.97,1)" class="K">0</text>
<line x1="396.5" x2="398.3" y1="63.20" y2="63.20" class="A"/>
<text transform="translate(394.10,64.65) scale(0.97,1)" class="K">2</text>
<line x1="396.5" x2="398.3" y1="56.90" y2="56.90" class="A"/>
<text transform="translate(394.10,58.35) scale(0.97,1)" class="K">4</text>
<line x1="396.5" x2="398.3" y1="50.60" y2="50.60" class="A"/>
<text transform="translate(394.10,52.05) scale(0.97,1)" class="K">6</text>
<line x1="396.5" x2="398.3" y1="44.30" y2="44.30" class="A"/>
<text transform="translate(394.10,45.75) scale(0.97,1)" class="K">8</text>
<line x1="396.5" x2="398.3" y1="38.00" y2="38.00" class="A"/>
<text transform="translate(394.10,39.45) scale(0.97,1)" class="K">10</text>
<line x1="396.5" x2="398.3" y1="35.50" y2="35.50" class="A"/>
<text transform="translate(393.30,36.70) scale(0.97,1)" class="K2">10</text>
<line x1="396.5" x2="398.3" y1="31.80" y2="31.80" class="A"/>
<text transform="translate(393.30,33.00) scale(0.97,1)" class="K2">15</text>
<line x1="396.5" x2="398.3" y1="28.10" y2="28.10" class="A"/>
<text transform="translate(393.30,29.30) scale(0.97,1)" class="K2">20</text>
<text transform="translate(449.7,15.900000000000002) scale(1.0,1)" class="L">S</text>
<text transform="translate(492.0,17.6) scale(0.9,1)" class="T">EBV</text>
<text x="492.0" y="29.4" class="P"><tspan font-style="italic">P</tspan> = .449</text>
<text transform="translate(459.7,48.7) rotate(-90) scale(0.75,1)" class="Y">LMR</text>
<circle class="b" cx="475.88" cy="68.00"/>
<circle class="b" cx="477.32" cy="68.00"/>
<circle class="b" cx="478.77" cy="68.00"/>
<circle class="b" cx="480.22" cy="68.00"/>
<circle class="b" cx="481.67" cy="68.00"/>
<circle class="b" cx="483.12" cy="68.00"/>
<circle class="b" cx="484.57" cy="68.00"/>
<circle class="b" cx="486.02" cy="68.00"/>
<circle class="b" cx="487.47" cy="68.00"/>
<circle class="b" cx="488.92" cy="68.00"/>
<circle class="b" cx="474.15" cy="66.30"/>
<circle class="b" cx="475.12" cy="66.30"/>
<circle class="b" cx="476.09" cy="66.30"/>
<circle class="b" cx="477.06" cy="66.30"/>
<circle class="b" cx="478.03" cy="66.30"/>
<circle class="b" cx="479.00" cy="66.30"/>
<circle class="b" cx="479.97" cy="66.30"/>
<circle class="b" cx="480.94" cy="66.30"/>
<circle class="b" cx="481.91" cy="66.30"/>
<circle class="b" cx="482.89" cy="66.30"/>
<circle class="b" cx="483.86" cy="66.30"/>
<circle class="b" cx="484.83" cy="66.30"/>
<circle class="b" cx="485.80" cy="66.30"/>
<circle class="b" cx="486.77" cy="66.30"/>
<circle class="b" cx="487.74" cy="66.30"/>
<circle class="b" cx="488.71" cy="66.30"/>
<circle class="b" cx="489.68" cy="66.30"/>
<circle class="b" cx="490.65" cy="66.30"/>
<circle class="b" cx="474.15" cy="64.60"/>
<circle class="b" cx="474.90" cy="64.60"/>
<circle class="b" cx="475.65" cy="64.60"/>
<circle class="b" cx="476.40" cy="64.60"/>
<circle class="b" cx="477.15" cy="64.60"/>
<circle class="b" cx="477.90" cy="64.60"/>
<circle class="b" cx="478.65" cy="64.60"/>
<circle class="b" cx="479.40" cy="64.60"/>
<circle class="b" cx="480.15" cy="64.60"/>
<circle class="b" cx="480.90" cy="64.60"/>
<circle class="b" cx="481.65" cy="64.60"/>
<circle class="b" cx="482.40" cy="64.60"/>
<circle class="b" cx="483.15" cy="64.60"/>
<circle class="b" cx="483.90" cy="64.60"/>
<circle class="b" cx="484.65" cy="64.60"/>
<circle class="b" cx="485.40" cy="64.60"/>
<circle class="b" cx="486.15" cy="64.60"/>
<circle class="b" cx="486.90" cy="64.60"/>
<circle class="b" cx="487.65" cy="64.60"/>
<circle class="b" cx="488.40" cy="64.60"/>
<circle class="b" cx="489.15" cy="64.60"/>
<circle class="b" cx="489.90" cy="64.60"/>
<circle class="b" cx="490.65" cy="64.60"/>
<circle class="b" cx="474.15" cy="62.90"/>
<circle class="b" cx="474.81" cy="62.90"/>
<circle class="b" cx="475.47" cy="62.90"/>
<circle class="b" cx="476.13" cy="62.90"/>
<circle class="b" cx="476.79" cy="62.90"/>
<circle class="b" cx="477.45" cy="62.90"/>
<circle class="b" cx="478.11" cy="62.90"/>
<circle class="b" cx="478.77" cy="62.90"/>
<circle class="b" cx="479.43" cy="62.90"/>
<circle class="b" cx="480.09" cy="62.90"/>
<circle class="b" cx="480.75" cy="62.90"/>
<circle class="b" cx="481.41" cy="62.90"/>
<circle class="b" cx="482.07" cy="62.90"/>
<circle class="b" cx="482.73" cy="62.90"/>
<circle class="b" cx="483.39" cy="62.90"/>
<circle class="b" cx="484.05" cy="62.90"/>
<circle class="b" cx="484.71" cy="62.90"/>
<circle class="b" cx="485.37" cy="62.90"/>
<circle class="b" cx="486.03" cy="62.90"/>
<circle class="b" cx="486.69" cy="62.90"/>
<circle class="b" cx="487.35" cy="62.90"/>
<circle class="b" cx="488.01" cy="62.90"/>
<circle class="b" cx="488.67" cy="62.90"/>
<circle class="b" cx="489.33" cy="62.90"/>
<circle class="b" cx="489.99" cy="62.90"/>
<circle class="b" cx="490.65" cy="62.90"/>
<circle class="b" cx="479.50" cy="56.10"/>
<circle class="b" cx="480.95" cy="56.10"/>
<circle class="b" cx="482.40" cy="56.10"/>
<circle class="b" cx="483.85" cy="56.10"/>
<circle class="b" cx="485.30" cy="56.10"/>
<circle class="b" cx="475.88" cy="57.80"/>
<circle class="b" cx="477.32" cy="57.80"/>
<circle class="b" cx="478.77" cy="57.80"/>
<circle class="b" cx="480.22" cy="57.80"/>
<circle class="b" cx="481.67" cy="57.80"/>
<circle class="b" cx="483.12" cy="57.80"/>
<circle class="b" cx="484.57" cy="57.80"/>
<circle class="b" cx="486.02" cy="57.80"/>
<circle class="b" cx="487.47" cy="57.80"/>
<circle class="b" cx="488.92" cy="57.80"/>
<circle class="b" cx="474.15" cy="59.50"/>
<circle class="b" cx="475.33" cy="59.50"/>
<circle class="b" cx="476.51" cy="59.50"/>
<circle class="b" cx="477.69" cy="59.50"/>
<circle class="b" cx="478.86" cy="59.50"/>
<circle class="b" cx="480.04" cy="59.50"/>
<circle class="b" cx="481.22" cy="59.50"/>
<circle class="b" cx="482.40" cy="59.50"/>
<circle class="b" cx="483.58" cy="59.50"/>
<circle class="b" cx="484.76" cy="59.50"/>
<circle class="b" cx="485.94" cy="59.50"/>
<circle class="b" cx="487.11" cy="59.50"/>
<circle class="b" cx="488.29" cy="59.50"/>
<circle class="b" cx="489.47" cy="59.50"/>
<circle class="b" cx="490.65" cy="59.50"/>
<circle class="b" cx="474.15" cy="61.20"/>
<circle class="b" cx="474.97" cy="61.20"/>
<circle class="b" cx="475.80" cy="61.20"/>
<circle class="b" cx="476.62" cy="61.20"/>
<circle class="b" cx="477.45" cy="61.20"/>
<circle class="b" cx="478.27" cy="61.20"/>
<circle class="b" cx="479.10" cy="61.20"/>
<circle class="b" cx="479.92" cy="61.20"/>
<circle class="b" cx="480.75" cy="61.20"/>
<circle class="b" cx="481.57" cy="61.20"/>
<circle class="b" cx="482.40" cy="61.20"/>
<circle class="b" cx="483.22" cy="61.20"/>
<circle class="b" cx="484.05" cy="61.20"/>
<circle class="b" cx="484.88" cy="61.20"/>
<circle class="b" cx="485.70" cy="61.20"/>
<circle class="b" cx="486.52" cy="61.20"/>
<circle class="b" cx="487.35" cy="61.20"/>
<circle class="b" cx="488.17" cy="61.20"/>
<circle class="b" cx="489.00" cy="61.20"/>
<circle class="b" cx="489.82" cy="61.20"/>
<circle class="b" cx="490.65" cy="61.20"/>
<circle class="b" cx="480.22" cy="52.70"/>
<circle class="b" cx="481.67" cy="52.70"/>
<circle class="b" cx="483.12" cy="52.70"/>
<circle class="b" cx="484.57" cy="52.70"/>
<circle class="b" cx="480.22" cy="51.00"/>
<circle class="b" cx="481.67" cy="51.00"/>
<circle class="b" cx="483.12" cy="51.00"/>
<circle class="b" cx="484.57" cy="51.00"/>
<circle class="b" cx="480.95" cy="47.60"/>
<circle class="b" cx="482.40" cy="47.60"/>
<circle class="b" cx="483.85" cy="47.60"/>
<circle class="b" cx="480.95" cy="45.90"/>
<circle class="b" cx="482.40" cy="45.90"/>
<circle class="b" cx="483.85" cy="45.90"/>
<circle class="b" cx="481.67" cy="42.50"/>
<circle class="b" cx="483.12" cy="42.50"/>
<circle class="b" cx="482.40" cy="39.10"/>
<circle class="b" cx="482.40" cy="37.40"/>
<circle class="b" cx="482.40" cy="34.00"/>
<circle class="b" cx="482.40" cy="30.60"/>
<line x1="474.1" x2="490.7" y1="62.50" y2="62.50" class="M"/>
<line x1="482.4" x2="482.4" y1="69.5" y2="70.8" class="A"/>
<text x="482.4" y="77.6" class="X" fill="#4a78b0" stroke="#4a78b0">Absent</text>
<text x="482.4" y="82.4" class="X" fill="#4a78b0" stroke="#4a78b0">(n = 148)</text>
<circle class="g" cx="501.27" cy="66.30"/>
<circle class="g" cx="502.73" cy="66.30"/>
<circle class="g" cx="499.82" cy="64.60"/>
<circle class="g" cx="501.27" cy="64.60"/>
<circle class="g" cx="502.73" cy="64.60"/>
<circle class="g" cx="504.18" cy="64.60"/>
<circle class="g" cx="502.00" cy="59.50"/>
<circle class="g" cx="502.00" cy="61.20"/>
<circle class="g" cx="501.27" cy="62.90"/>
<circle class="g" cx="502.73" cy="62.90"/>
<circle class="g" cx="502.00" cy="57.80"/>
<circle class="g" cx="502.00" cy="44.20"/>
<line x1="493.7" x2="510.3" y1="63.50" y2="63.50" class="M"/>
<line x1="502.0" x2="502.0" y1="69.5" y2="70.8" class="A"/>
<text x="502.0" y="77.6" class="X" fill="#7cba6c" stroke="#7cba6c">Present</text>
<text x="502.0" y="82.4" class="X" fill="#7cba6c" stroke="#7cba6c">(n = 12)</text>
<line x1="472.4" x2="472.4" y1="26.5" y2="69.5" class="A"/>
<line x1="472.09999999999997" x2="511.2" y1="69.5" y2="69.5" class="A"/>
<rect x="470.79999999999995" y="36.2" width="3.4" height="1.1" fill="#fff"/>
<line x1="470.7" x2="474.09999999999997" y1="36.0" y2="36.0" class="A2"/>
<line x1="470.7" x2="474.09999999999997" y1="37.5" y2="37.5" class="A2"/>
<line x1="470.59999999999997" x2="472.4" y1="69.50" y2="69.50" class="A"/>
<text transform="translate(468.20,70.95) scale(0.97,1)" class="K">0</text>
<line x1="470.59999999999997" x2="472.4" y1="63.20" y2="63.20" class="A"/>
<text transform="translate(468.20,64.65) scale(0.97,1)" class="K">2</text>
<line x1="470.59999999999997" x2="472.4" y1="56.90" y2="56.90" class="A"/>
<text transform="translate(468.20,58.35) scale(0.97,1)" class="K">4</text>
<line x1="470.59999999999997" x2="472.4" y1="50.60" y2="50.60" class="A"/>
<text transform="translate(468.20,52.05) scale(0.97,1)" class="K">6</text>
<line x1="470.59999999999997" x2="472.4" y1="44.30" y2="44.30" class="A"/>
<text transform="translate(468.20,45.75) scale(0.97,1)" class="K">8</text>
<line x1="470.59999999999997" x2="472.4" y1="38.00" y2="38.00" class="A"/>
<text transform="translate(468.20,39.45) scale(0.97,1)" class="K">10</text>
<line x1="470.59999999999997" x2="472.4" y1="35.50" y2="35.50" class="A"/>
<text transform="translate(467.40,36.70) scale(0.97,1)" class="K2">10</text>
<line x1="470.59999999999997" x2="472.4" y1="31.80" y2="31.80" class="A"/>
<text transform="translate(467.40,33.00) scale(0.97,1)" class="K2">15</text>
<line x1="470.59999999999997" x2="472.4" y1="28.10" y2="28.10" class="A"/>
<text transform="translate(467.40,29.30) scale(0.97,1)" class="K2">20</text>
<text transform="translate(8.0,108.6) scale(1.0,1)" class="L">B</text>
<text transform="translate(51.0,110.2) scale(0.9,1)" class="T">Age</text>
<text x="51.5" y="118.0" class="P"><tspan font-style="italic">P</tspan> = .324</text>
<text transform="translate(13.4,139.0) rotate(-90) scale(0.75,1)" class="Y">CD4/MR</text>
<circle class="b" cx="40.88" cy="149.60"/>
<circle class="b" cx="42.33" cy="149.60"/>
<circle class="b" cx="40.88" cy="147.90"/>
<circle class="b" cx="42.33" cy="147.90"/>
<circle class="b" cx="41.60" cy="146.20"/>
<circle class="b" cx="40.15" cy="144.50"/>
<circle class="b" cx="41.60" cy="144.50"/>
<circle class="b" cx="43.05" cy="144.50"/>
<circle class="b" cx="38.70" cy="142.80"/>
<circle class="b" cx="40.15" cy="142.80"/>
<circle class="b" cx="41.60" cy="142.80"/>
<circle class="b" cx="43.05" cy="142.80"/>
<circle class="b" cx="44.50" cy="142.80"/>
<circle class="b" cx="37.98" cy="141.10"/>
<circle class="b" cx="39.43" cy="141.10"/>
<circle class="b" cx="40.88" cy="141.10"/>
<circle class="b" cx="42.33" cy="141.10"/>
<circle class="b" cx="43.77" cy="141.10"/>
<circle class="b" cx="45.23" cy="141.10"/>
<circle class="b" cx="37.25" cy="139.40"/>
<circle class="b" cx="38.70" cy="139.40"/>
<circle class="b" cx="40.15" cy="139.40"/>
<circle class="b" cx="41.60" cy="139.40"/>
<circle class="b" cx="43.05" cy="139.40"/>
<circle class="b" cx="44.50" cy="139.40"/>
<circle class="b" cx="45.95" cy="139.40"/>
<circle class="b" cx="37.98" cy="137.70"/>
<circle class="b" cx="39.43" cy="137.70"/>
<circle class="b" cx="40.88" cy="137.70"/>
<circle class="b" cx="42.33" cy="137.70"/>
<circle class="b" cx="43.77" cy="137.70"/>
<circle class="b" cx="45.23" cy="137.70"/>
<circle class="b" cx="37.98" cy="136.00"/>
<circle class="b" cx="39.43" cy="136.00"/>
<circle class="b" cx="40.88" cy="136.00"/>
<circle class="b" cx="42.33" cy="136.00"/>
<circle class="b" cx="43.77" cy="136.00"/>
<circle class="b" cx="45.23" cy="136.00"/>
<circle class="b" cx="39.43" cy="134.30"/>
<circle class="b" cx="40.88" cy="134.30"/>
<circle class="b" cx="42.33" cy="134.30"/>
<circle class="b" cx="43.77" cy="134.30"/>
<circle class="b" cx="39.43" cy="132.60"/>
<circle class="b" cx="40.88" cy="132.60"/>
<circle class="b" cx="42.33" cy="132.60"/>
<circle class="b" cx="43.77" cy="132.60"/>
<circle class="b" cx="40.15" cy="130.90"/>
<circle class="b" cx="41.60" cy="130.90"/>
<circle class="b" cx="43.05" cy="130.90"/>
<circle class="b" cx="40.88" cy="129.20"/>
<circle class="b" cx="42.33" cy="129.20"/>
<circle class="b" cx="40.88" cy="127.50"/>
<circle class="b" cx="42.33" cy="127.50"/>
<circle class="b" cx="40.88" cy="124.10"/>
<circle class="b" cx="42.33" cy="124.10"/>
<circle class="b" cx="41.60" cy="125.80"/>
<circle class="b" cx="41.60" cy="122.40"/>
<circle class="b" cx="40.88" cy="120.70"/>
<circle class="b" cx="42.33" cy="120.70"/>
<circle class="b" cx="41.60" cy="119.00"/>
<circle class="b" cx="41.60" cy="117.30"/>
<circle class="b" cx="41.60" cy="151.30"/>
<circle class="b" cx="41.60" cy="153.00"/>
<circle class="b" cx="41.60" cy="154.70"/>
<circle class="b" cx="40.88" cy="156.40"/>
<circle class="b" cx="42.33" cy="156.40"/>
<line x1="33.3" x2="49.9" y1="138.50" y2="138.50" class="M"/>
<line x1="41.6" x2="41.6" y1="163.0" y2="164.3" class="A"/>
<text x="41.6" y="171.0" class="X" fill="#4a78b0" stroke="#4a78b0">≤ 70</text>
<text x="41.6" y="176.0" class="X" fill="#4a78b0" stroke="#4a78b0">(n = 66)</text>
<circle class="g" cx="60.00" cy="147.90"/>
<circle class="g" cx="61.45" cy="147.90"/>
<circle class="g" cx="62.90" cy="147.90"/>
<circle class="g" cx="64.35" cy="147.90"/>
<circle class="g" cx="65.80" cy="147.90"/>
<circle class="g" cx="62.18" cy="146.20"/>
<circle class="g" cx="63.63" cy="146.20"/>
<circle class="g" cx="61.45" cy="144.50"/>
<circle class="g" cx="62.90" cy="144.50"/>
<circle class="g" cx="64.35" cy="144.50"/>
<circle class="g" cx="59.28" cy="142.80"/>
<circle class="g" cx="60.73" cy="142.80"/>
<circle class="g" cx="62.18" cy="142.80"/>
<circle class="g" cx="63.63" cy="142.80"/>
<circle class="g" cx="65.08" cy="142.80"/>
<circle class="g" cx="66.53" cy="142.80"/>
<circle class="g" cx="58.55" cy="141.10"/>
<circle class="g" cx="60.00" cy="141.10"/>
<circle class="g" cx="61.45" cy="141.10"/>
<circle class="g" cx="62.90" cy="141.10"/>
<circle class="g" cx="64.35" cy="141.10"/>
<circle class="g" cx="65.80" cy="141.10"/>
<circle class="g" cx="67.25" cy="141.10"/>
<circle class="g" cx="56.38" cy="139.40"/>
<circle class="g" cx="57.83" cy="139.40"/>
<circle class="g" cx="59.28" cy="139.40"/>
<circle class="g" cx="60.73" cy="139.40"/>
<circle class="g" cx="62.18" cy="139.40"/>
<circle class="g" cx="63.63" cy="139.40"/>
<circle class="g" cx="65.08" cy="139.40"/>
<circle class="g" cx="66.53" cy="139.40"/>
<circle class="g" cx="67.98" cy="139.40"/>
<circle class="g" cx="69.43" cy="139.40"/>
<circle class="g" cx="57.83" cy="137.70"/>
<circle class="g" cx="59.28" cy="137.70"/>
<circle class="g" cx="60.73" cy="137.70"/>
<circle class="g" cx="62.18" cy="137.70"/>
<circle class="g" cx="63.63" cy="137.70"/>
<circle class="g" cx="65.08" cy="137.70"/>
<circle class="g" cx="66.53" cy="137.70"/>
<circle class="g" cx="67.98" cy="137.70"/>
<circle class="g" cx="58.55" cy="136.00"/>
<circle class="g" cx="60.00" cy="136.00"/>
<circle class="g" cx="61.45" cy="136.00"/>
<circle class="g" cx="62.90" cy="136.00"/>
<circle class="g" cx="64.35" cy="136.00"/>
<circle class="g" cx="65.80" cy="136.00"/>
<circle class="g" cx="67.25" cy="136.00"/>
<circle class="g" cx="59.28" cy="134.30"/>
<circle class="g" cx="60.73" cy="134.30"/>
<circle class="g" cx="62.18" cy="134.30"/>
<circle class="g" cx="63.63" cy="134.30"/>
<circle class="g" cx="65.08" cy="134.30"/>
<circle class="g" cx="66.53" cy="134.30"/>
<circle class="g" cx="60.00" cy="132.60"/>
<circle class="g" cx="61.45" cy="132.60"/>
<circle class="g" cx="62.90" cy="132.60"/>
<circle class="g" cx="64.35" cy="132.60"/>
<circle class="g" cx="65.80" cy="132.60"/>
<circle class="g" cx="62.18" cy="130.90"/>
<circle class="g" cx="63.63" cy="130.90"/>
<circle class="g" cx="62.18" cy="129.20"/>
<circle class="g" cx="63.63" cy="129.20"/>
<circle class="g" cx="61.45" cy="127.50"/>
<circle class="g" cx="62.90" cy="127.50"/>
<circle class="g" cx="64.35" cy="127.50"/>
<circle class="g" cx="62.18" cy="125.80"/>
<circle class="g" cx="63.63" cy="125.80"/>
<circle class="g" cx="62.18" cy="124.10"/>
<circle class="g" cx="63.63" cy="124.10"/>
<circle class="g" cx="62.18" cy="122.40"/>
<circle class="g" cx="63.63" cy="122.40"/>
<circle class="g" cx="60.00" cy="149.60"/>
<circle class="g" cx="61.45" cy="149.60"/>
<circle class="g" cx="62.90" cy="149.60"/>
<circle class="g" cx="64.35" cy="149.60"/>
<circle class="g" cx="65.80" cy="149.60"/>
<line x1="54.6" x2="71.2" y1="138.50" y2="138.50" class="M"/>
<line x1="62.9" x2="62.9" y1="163.0" y2="164.3" class="A"/>
<text x="62.9" y="171.0" class="X" fill="#7cba6c" stroke="#7cba6c">> 70</text>
<text x="62.9" y="176.0" class="X" fill="#7cba6c" stroke="#7cba6c">(n = 77)</text>
<line x1="30.7" x2="30.7" y1="115.5" y2="163.0" class="A"/>
<line x1="30.4" x2="71.7" y1="163.0" y2="163.0" class="A"/>
<line x1="28.9" x2="30.7" y1="163.00" y2="163.00" class="A"/>
<text transform="translate(27.10,164.45) scale(0.97,1)" class="K">0.01</text>
<line x1="28.9" x2="30.7" y1="153.80" y2="153.80" class="A"/>
<text transform="translate(27.10,155.25) scale(0.97,1)" class="K">0.1</text>
<line x1="28.9" x2="30.7" y1="144.60" y2="144.60" class="A"/>
<text transform="translate(27.10,146.05) scale(0.97,1)" class="K">1</text>
<line x1="28.9" x2="30.7" y1="135.40" y2="135.40" class="A"/>
<text transform="translate(27.10,136.85) scale(0.97,1)" class="K">10</text>
<line x1="28.9" x2="30.7" y1="126.20" y2="126.20" class="A"/>
<text transform="translate(27.10,127.65) scale(0.97,1)" class="K">100</text>
<line x1="28.9" x2="30.7" y1="117.00" y2="117.00" class="A"/>
<text transform="translate(27.10,118.45) scale(0.97,1)" class="K">1000</text>
<text transform="translate(80.6,108.6) scale(1.0,1)" class="L">E</text>
<text transform="translate(123.9,110.2) scale(0.9,1)" class="T">Sex</text>
<text x="124.4" y="118.0" class="P"><tspan font-style="italic">P</tspan> = .554</text>
<text transform="translate(86.3,139.0) rotate(-90) scale(0.75,1)" class="Y">CD4/MR</text>
<circle class="b" cx="113.78" cy="146.20"/>
<circle class="b" cx="115.22" cy="146.20"/>
<circle class="b" cx="113.05" cy="144.50"/>
<circle class="b" cx="114.50" cy="144.50"/>
<circle class="b" cx="115.95" cy="144.50"/>
<circle class="b" cx="110.88" cy="142.80"/>
<circle class="b" cx="112.33" cy="142.80"/>
<circle class="b" cx="113.78" cy="142.80"/>
<circle class="b" cx="115.22" cy="142.80"/>
<circle class="b" cx="116.67" cy="142.80"/>
<circle class="b" cx="118.12" cy="142.80"/>
<circle class="b" cx="108.70" cy="141.10"/>
<circle class="b" cx="110.15" cy="141.10"/>
<circle class="b" cx="111.60" cy="141.10"/>
<circle class="b" cx="113.05" cy="141.10"/>
<circle class="b" cx="114.50" cy="141.10"/>
<circle class="b" cx="115.95" cy="141.10"/>
<circle class="b" cx="117.40" cy="141.10"/>
<circle class="b" cx="118.85" cy="141.10"/>
<circle class="b" cx="120.30" cy="141.10"/>
<circle class="b" cx="106.25" cy="139.40"/>
<circle class="b" cx="107.62" cy="139.40"/>
<circle class="b" cx="109.00" cy="139.40"/>
<circle class="b" cx="110.38" cy="139.40"/>
<circle class="b" cx="111.75" cy="139.40"/>
<circle class="b" cx="113.12" cy="139.40"/>
<circle class="b" cx="114.50" cy="139.40"/>
<circle class="b" cx="115.88" cy="139.40"/>
<circle class="b" cx="117.25" cy="139.40"/>
<circle class="b" cx="118.62" cy="139.40"/>
<circle class="b" cx="120.00" cy="139.40"/>
<circle class="b" cx="121.38" cy="139.40"/>
<circle class="b" cx="122.75" cy="139.40"/>
<circle class="b" cx="107.25" cy="137.70"/>
<circle class="b" cx="108.70" cy="137.70"/>
<circle class="b" cx="110.15" cy="137.70"/>
<circle class="b" cx="111.60" cy="137.70"/>
<circle class="b" cx="113.05" cy="137.70"/>
<circle class="b" cx="114.50" cy="137.70"/>
<circle class="b" cx="115.95" cy="137.70"/>
<circle class="b" cx="117.40" cy="137.70"/>
<circle class="b" cx="118.85" cy="137.70"/>
<circle class="b" cx="120.30" cy="137.70"/>
<circle class="b" cx="121.75" cy="137.70"/>
<circle class="b" cx="108.70" cy="136.00"/>
<circle class="b" cx="110.15" cy="136.00"/>
<circle class="b" cx="111.60" cy="136.00"/>
<circle class="b" cx="113.05" cy="136.00"/>
<circle class="b" cx="114.50" cy="136.00"/>
<circle class="b" cx="115.95" cy="136.00"/>
<circle class="b" cx="117.40" cy="136.00"/>
<circle class="b" cx="118.85" cy="136.00"/>
<circle class="b" cx="120.30" cy="136.00"/>
<circle class="b" cx="109.42" cy="134.30"/>
<circle class="b" cx="110.88" cy="134.30"/>
<circle class="b" cx="112.33" cy="134.30"/>
<circle class="b" cx="113.78" cy="134.30"/>
<circle class="b" cx="115.22" cy="134.30"/>
<circle class="b" cx="116.67" cy="134.30"/>
<circle class="b" cx="118.12" cy="134.30"/>
<circle class="b" cx="119.58" cy="134.30"/>
<circle class="b" cx="111.60" cy="132.60"/>
<circle class="b" cx="113.05" cy="132.60"/>
<circle class="b" cx="114.50" cy="132.60"/>
<circle class="b" cx="115.95" cy="132.60"/>
<circle class="b" cx="117.40" cy="132.60"/>
<circle class="b" cx="112.33" cy="130.90"/>
<circle class="b" cx="113.78" cy="130.90"/>
<circle class="b" cx="115.22" cy="130.90"/>
<circle class="b" cx="116.67" cy="130.90"/>
<circle class="b" cx="113.05" cy="129.20"/>
<circle class="b" cx="114.50" cy="129.20"/>
<circle class="b" cx="115.95" cy="129.20"/>
<circle class="b" cx="113.78" cy="127.50"/>
<circle class="b" cx="115.22" cy="127.50"/>
<circle class="b" cx="113.78" cy="125.80"/>
<circle class="b" cx="115.22" cy="125.80"/>
<circle class="b" cx="113.78" cy="124.10"/>
<circle class="b" cx="115.22" cy="124.10"/>
<circle class="b" cx="113.78" cy="122.40"/>
<circle class="b" cx="115.22" cy="122.40"/>
<circle class="b" cx="113.78" cy="120.70"/>
<circle class="b" cx="115.22" cy="120.70"/>
<circle class="b" cx="113.05" cy="119.00"/>
<circle class="b" cx="114.50" cy="119.00"/>
<circle class="b" cx="115.95" cy="119.00"/>
<circle class="b" cx="114.50" cy="147.90"/>
<circle class="b" cx="114.50" cy="149.60"/>
<circle class="b" cx="113.78" cy="151.30"/>
<circle class="b" cx="115.22" cy="151.30"/>
<circle class="b" cx="114.50" cy="153.00"/>
<circle class="b" cx="113.78" cy="154.70"/>
<circle class="b" cx="115.22" cy="154.70"/>
<circle class="b" cx="114.50" cy="156.40"/>
<circle class="b" cx="113.78" cy="158.10"/>
<circle class="b" cx="115.22" cy="158.10"/>
<line x1="106.2" x2="122.8" y1="138.50" y2="138.50" class="M"/>
<line x1="114.5" x2="114.5" y1="163.0" y2="164.3" class="A"/>
<text x="114.5" y="171.0" class="X" fill="#4a78b0" stroke="#4a78b0">Male</text>
<text x="114.5" y="176.0" class="X" fill="#4a78b0" stroke="#4a78b0">(n = 96)</text>
<circle class="g" cx="132.90" cy="147.90"/>
<circle class="g" cx="134.35" cy="147.90"/>
<circle class="g" cx="135.80" cy="147.90"/>
<circle class="g" cx="137.25" cy="147.90"/>
<circle class="g" cx="138.70" cy="147.90"/>
<circle class="g" cx="135.08" cy="144.50"/>
<circle class="g" cx="136.53" cy="144.50"/>
<circle class="g" cx="134.35" cy="142.80"/>
<circle class="g" cx="135.80" cy="142.80"/>
<circle class="g" cx="137.25" cy="142.80"/>
<circle class="g" cx="133.62" cy="141.10"/>
<circle class="g" cx="135.08" cy="141.10"/>
<circle class="g" cx="136.53" cy="141.10"/>
<circle class="g" cx="137.98" cy="141.10"/>
<circle class="g" cx="132.90" cy="139.40"/>
<circle class="g" cx="134.35" cy="139.40"/>
<circle class="g" cx="135.80" cy="139.40"/>
<circle class="g" cx="137.25" cy="139.40"/>
<circle class="g" cx="138.70" cy="139.40"/>
<circle class="g" cx="132.90" cy="137.70"/>
<circle class="g" cx="134.35" cy="137.70"/>
<circle class="g" cx="135.80" cy="137.70"/>
<circle class="g" cx="137.25" cy="137.70"/>
<circle class="g" cx="138.70" cy="137.70"/>
<circle class="g" cx="132.90" cy="136.00"/>
<circle class="g" cx="134.35" cy="136.00"/>
<circle class="g" cx="135.80" cy="136.00"/>
<circle class="g" cx="137.25" cy="136.00"/>
<circle class="g" cx="138.70" cy="136.00"/>
<circle class="g" cx="133.62" cy="134.30"/>
<circle class="g" cx="135.08" cy="134.30"/>
<circle class="g" cx="136.53" cy="134.30"/>
<circle class="g" cx="137.98" cy="134.30"/>
<circle class="g" cx="135.08" cy="132.60"/>
<circle class="g" cx="136.53" cy="132.60"/>
<circle class="g" cx="135.80" cy="130.90"/>
<circle class="g" cx="135.08" cy="129.20"/>
<circle class="g" cx="136.53" cy="129.20"/>
<circle class="g" cx="135.80" cy="127.50"/>
<circle class="g" cx="135.80" cy="125.80"/>
<circle class="g" cx="135.80" cy="124.10"/>
<circle class="g" cx="135.80" cy="122.40"/>
<circle class="g" cx="135.80" cy="146.20"/>
<line x1="127.5" x2="144.1" y1="138.50" y2="138.50" class="M"/>
<line x1="135.8" x2="135.8" y1="163.0" y2="164.3" class="A"/>
<text x="135.8" y="171.0" class="X" fill="#7cba6c" stroke="#7cba6c">Female</text>
<text x="135.8" y="176.0" class="X" fill="#7cba6c" stroke="#7cba6c">(n = 43)</text>
<line x1="103.6" x2="103.6" y1="115.5" y2="163.0" class="A"/>
<line x1="103.3" x2="144.6" y1="163.0" y2="163.0" class="A"/>
<line x1="101.8" x2="103.6" y1="163.00" y2="163.00" class="A"/>
<text transform="translate(100.00,164.45) scale(0.97,1)" class="K">0.01</text>
<line x1="101.8" x2="103.6" y1="153.80" y2="153.80" class="A"/>
<text transform="translate(100.00,155.25) scale(0.97,1)" class="K">0.1</text>
<line x1="101.8" x2="103.6" y1="144.60" y2="144.60" class="A"/>
<text transform="translate(100.00,146.05) scale(0.97,1)" class="K">1</text>
<line x1="101.8" x2="103.6" y1="135.40" y2="135.40" class="A"/>
<text transform="translate(100.00,136.85) scale(0.97,1)" class="K">10</text>
<line x1="101.8" x2="103.6" y1="126.20" y2="126.20" class="A"/>
<text transform="translate(100.00,127.65) scale(0.97,1)" class="K">100</text>
<line x1="101.8" x2="103.6" y1="117.00" y2="117.00" class="A"/>
<text transform="translate(100.00,118.45) scale(0.97,1)" class="K">1000</text>
<text transform="translate(153.6,108.6) scale(1.0,1)" class="L">H</text>
<text transform="translate(197.0,110.2) scale(0.9,1)" class="T">IPI risk</text>
<text x="197.5" y="118.0" class="P"><tspan font-style="italic">P</tspan> = .261</text>
<text transform="translate(159.4,139.0) rotate(-90) scale(0.75,1)" class="Y">CD4/MR</text>
<circle class="b" cx="186.88" cy="146.20"/>
<circle class="b" cx="188.32" cy="146.20"/>
<circle class="b" cx="186.88" cy="144.50"/>
<circle class="b" cx="188.32" cy="144.50"/>
<circle class="b" cx="185.42" cy="142.80"/>
<circle class="b" cx="186.88" cy="142.80"/>
<circle class="b" cx="188.32" cy="142.80"/>
<circle class="b" cx="189.78" cy="142.80"/>
<circle class="b" cx="182.53" cy="141.10"/>
<circle class="b" cx="183.97" cy="141.10"/>
<circle class="b" cx="185.42" cy="141.10"/>
<circle class="b" cx="186.88" cy="141.10"/>
<circle class="b" cx="188.32" cy="141.10"/>
<circle class="b" cx="189.78" cy="141.10"/>
<circle class="b" cx="191.22" cy="141.10"/>
<circle class="b" cx="192.67" cy="141.10"/>
<circle class="b" cx="179.62" cy="139.40"/>
<circle class="b" cx="181.07" cy="139.40"/>
<circle class="b" cx="182.53" cy="139.40"/>
<circle class="b" cx="183.97" cy="139.40"/>
<circle class="b" cx="185.42" cy="139.40"/>
<circle class="b" cx="186.88" cy="139.40"/>
<circle class="b" cx="188.32" cy="139.40"/>
<circle class="b" cx="189.78" cy="139.40"/>
<circle class="b" cx="191.22" cy="139.40"/>
<circle class="b" cx="192.67" cy="139.40"/>
<circle class="b" cx="194.12" cy="139.40"/>
<circle class="b" cx="195.57" cy="139.40"/>
<circle class="b" cx="179.35" cy="137.70"/>
<circle class="b" cx="180.62" cy="137.70"/>
<circle class="b" cx="181.89" cy="137.70"/>
<circle class="b" cx="183.16" cy="137.70"/>
<circle class="b" cx="184.43" cy="137.70"/>
<circle class="b" cx="185.70" cy="137.70"/>
<circle class="b" cx="186.97" cy="137.70"/>
<circle class="b" cx="188.23" cy="137.70"/>
<circle class="b" cx="189.50" cy="137.70"/>
<circle class="b" cx="190.77" cy="137.70"/>
<circle class="b" cx="192.04" cy="137.70"/>
<circle class="b" cx="193.31" cy="137.70"/>
<circle class="b" cx="194.58" cy="137.70"/>
<circle class="b" cx="195.85" cy="137.70"/>
<circle class="b" cx="179.35" cy="136.00"/>
<circle class="b" cx="180.72" cy="136.00"/>
<circle class="b" cx="182.10" cy="136.00"/>
<circle class="b" cx="183.47" cy="136.00"/>
<circle class="b" cx="184.85" cy="136.00"/>
<circle class="b" cx="186.22" cy="136.00"/>
<circle class="b" cx="187.60" cy="136.00"/>
<circle class="b" cx="188.97" cy="136.00"/>
<circle class="b" cx="190.35" cy="136.00"/>
<circle class="b" cx="191.72" cy="136.00"/>
<circle class="b" cx="193.10" cy="136.00"/>
<circle class="b" cx="194.47" cy="136.00"/>
<circle class="b" cx="195.85" cy="136.00"/>
<circle class="b" cx="180.35" cy="134.30"/>
<circle class="b" cx="181.80" cy="134.30"/>
<circle class="b" cx="183.25" cy="134.30"/>
<circle class="b" cx="184.70" cy="134.30"/>
<circle class="b" cx="186.15" cy="134.30"/>
<circle class="b" cx="187.60" cy="134.30"/>
<circle class="b" cx="189.05" cy="134.30"/>
<circle class="b" cx="190.50" cy="134.30"/>
<circle class="b" cx="191.95" cy="134.30"/>
<circle class="b" cx="193.40" cy="134.30"/>
<circle class="b" cx="194.85" cy="134.30"/>
<circle class="b" cx="183.25" cy="132.60"/>
<circle class="b" cx="184.70" cy="132.60"/>
<circle class="b" cx="186.15" cy="132.60"/>
<circle class="b" cx="187.60" cy="132.60"/>
<circle class="b" cx="189.05" cy="132.60"/>
<circle class="b" cx="190.50" cy="132.60"/>
<circle class="b" cx="191.95" cy="132.60"/>
<circle class="b" cx="185.42" cy="130.90"/>
<circle class="b" cx="186.88" cy="130.90"/>
<circle class="b" cx="188.32" cy="130.90"/>
<circle class="b" cx="189.78" cy="130.90"/>
<circle class="b" cx="186.88" cy="129.20"/>
<circle class="b" cx="188.32" cy="129.20"/>
<circle class="b" cx="186.15" cy="127.50"/>
<circle class="b" cx="187.60" cy="127.50"/>
<circle class="b" cx="189.05" cy="127.50"/>
<circle class="b" cx="187.60" cy="125.80"/>
<circle class="b" cx="186.88" cy="124.10"/>
<circle class="b" cx="188.32" cy="124.10"/>
<circle class="b" cx="186.88" cy="122.40"/>
<circle class="b" cx="188.32" cy="122.40"/>
<circle class="b" cx="186.88" cy="120.70"/>
<circle class="b" cx="188.32" cy="120.70"/>
<circle class="b" cx="186.88" cy="119.00"/>
<circle class="b" cx="188.32" cy="119.00"/>
<circle class="b" cx="187.60" cy="147.90"/>
<circle class="b" cx="187.60" cy="149.60"/>
<circle class="b" cx="186.88" cy="151.30"/>
<circle class="b" cx="188.32" cy="151.30"/>
<circle class="b" cx="187.60" cy="153.00"/>
<circle class="b" cx="186.88" cy="154.70"/>
<circle class="b" cx="188.32" cy="154.70"/>
<circle class="b" cx="187.60" cy="156.40"/>
<circle class="b" cx="187.60" cy="158.10"/>
<line x1="179.3" x2="195.9" y1="137.50" y2="137.50" class="M"/>
<line x1="187.6" x2="187.6" y1="163.0" y2="164.3" class="A"/>
<text x="187.6" y="171.0" class="X" fill="#4a78b0" stroke="#4a78b0">Low or Int</text>
<text x="187.6" y="176.0" class="X" fill="#4a78b0" stroke="#4a78b0">(n = 100)</text>
<circle class="g" cx="208.90" cy="147.90"/>
<circle class="g" cx="208.90" cy="146.20"/>
<circle class="g" cx="207.45" cy="144.50"/>
<circle class="g" cx="208.90" cy="144.50"/>
<circle class="g" cx="210.35" cy="144.50"/>
<circle class="g" cx="206.72" cy="142.80"/>
<circle class="g" cx="208.17" cy="142.80"/>
<circle class="g" cx="209.62" cy="142.80"/>
<circle class="g" cx="211.07" cy="142.80"/>
<circle class="g" cx="206.00" cy="141.10"/>
<circle class="g" cx="207.45" cy="141.10"/>
<circle class="g" cx="208.90" cy="141.10"/>
<circle class="g" cx="210.35" cy="141.10"/>
<circle class="g" cx="211.80" cy="141.10"/>
<circle class="g" cx="206.00" cy="139.40"/>
<circle class="g" cx="207.45" cy="139.40"/>
<circle class="g" cx="208.90" cy="139.40"/>
<circle class="g" cx="210.35" cy="139.40"/>
<circle class="g" cx="211.80" cy="139.40"/>
<circle class="g" cx="206.72" cy="137.70"/>
<circle class="g" cx="208.17" cy="137.70"/>
<circle class="g" cx="209.62" cy="137.70"/>
<circle class="g" cx="211.07" cy="137.70"/>
<circle class="g" cx="207.45" cy="136.00"/>
<circle class="g" cx="208.90" cy="136.00"/>
<circle class="g" cx="210.35" cy="136.00"/>
<circle class="g" cx="208.17" cy="134.30"/>
<circle class="g" cx="209.62" cy="134.30"/>
<circle class="g" cx="208.90" cy="132.60"/>
<circle class="g" cx="208.90" cy="130.90"/>
<circle class="g" cx="208.90" cy="129.20"/>
<circle class="g" cx="208.90" cy="127.50"/>
<circle class="g" cx="208.90" cy="125.80"/>
<circle class="g" cx="208.90" cy="124.10"/>
<circle class="g" cx="208.90" cy="149.60"/>
<circle class="g" cx="208.90" cy="151.30"/>
<circle class="g" cx="208.90" cy="154.70"/>
<circle class="g" cx="208.90" cy="156.40"/>
<line x1="200.6" x2="217.2" y1="139.50" y2="139.50" class="M"/>
<line x1="208.9" x2="208.9" y1="163.0" y2="164.3" class="A"/>
<text x="208.9" y="171.0" class="X" fill="#7cba6c" stroke="#7cba6c">High</text>
<text x="208.9" y="176.0" class="X" fill="#7cba6c" stroke="#7cba6c">(n = 38)</text>
<line x1="176.7" x2="176.7" y1="115.5" y2="163.0" class="A"/>
<line x1="176.39999999999998" x2="217.7" y1="163.0" y2="163.0" class="A"/>
<line x1="174.89999999999998" x2="176.7" y1="163.00" y2="163.00" class="A"/>
<text transform="translate(173.10,164.45) scale(0.97,1)" class="K">0.01</text>
<line x1="174.89999999999998" x2="176.7" y1="153.80" y2="153.80" class="A"/>
<text transform="translate(173.10,155.25) scale(0.97,1)" class="K">0.1</text>
<line x1="174.89999999999998" x2="176.7" y1="144.60" y2="144.60" class="A"/>
<text transform="translate(173.10,146.05) scale(0.97,1)" class="K">1</text>
<line x1="174.89999999999998" x2="176.7" y1="135.40" y2="135.40" class="A"/>
<text transform="translate(173.10,136.85) scale(0.97,1)" class="K">10</text>
<line x1="174.89999999999998" x2="176.7" y1="126.20" y2="126.20" class="A"/>
<text transform="translate(173.10,127.65) scale(0.97,1)" class="K">100</text>
<line x1="174.89999999999998" x2="176.7" y1="117.00" y2="117.00" class="A"/>
<text transform="translate(173.10,118.45) scale(0.97,1)" class="K">1000</text>
<text transform="translate(228.4,108.6) scale(1.0,1)" class="L">K</text>
<text transform="translate(270.3,110.2) scale(0.9,1)" class="T">BM</text>
<text x="270.8" y="118.0" class="P"><tspan font-style="italic">P</tspan> = .073</text>
<text transform="translate(232.7,139.0) rotate(-90) scale(0.75,1)" class="Y">CD4/MR</text>
<circle class="b" cx="259.45" cy="149.60"/>
<circle class="b" cx="260.90" cy="149.60"/>
<circle class="b" cx="262.35" cy="149.60"/>
<circle class="b" cx="258.72" cy="147.90"/>
<circle class="b" cx="260.17" cy="147.90"/>
<circle class="b" cx="261.62" cy="147.90"/>
<circle class="b" cx="263.07" cy="147.90"/>
<circle class="b" cx="260.17" cy="146.20"/>
<circle class="b" cx="261.62" cy="146.20"/>
<circle class="b" cx="258.00" cy="144.50"/>
<circle class="b" cx="259.45" cy="144.50"/>
<circle class="b" cx="260.90" cy="144.50"/>
<circle class="b" cx="262.35" cy="144.50"/>
<circle class="b" cx="263.80" cy="144.50"/>
<circle class="b" cx="255.82" cy="142.80"/>
<circle class="b" cx="257.27" cy="142.80"/>
<circle class="b" cx="258.72" cy="142.80"/>
<circle class="b" cx="260.17" cy="142.80"/>
<circle class="b" cx="261.62" cy="142.80"/>
<circle class="b" cx="263.07" cy="142.80"/>
<circle class="b" cx="264.52" cy="142.80"/>
<circle class="b" cx="265.97" cy="142.80"/>
<circle class="b" cx="253.65" cy="141.10"/>
<circle class="b" cx="255.10" cy="141.10"/>
<circle class="b" cx="256.55" cy="141.10"/>
<circle class="b" cx="258.00" cy="141.10"/>
<circle class="b" cx="259.45" cy="141.10"/>
<circle class="b" cx="260.90" cy="141.10"/>
<circle class="b" cx="262.35" cy="141.10"/>
<circle class="b" cx="263.80" cy="141.10"/>
<circle class="b" cx="265.25" cy="141.10"/>
<circle class="b" cx="266.70" cy="141.10"/>
<circle class="b" cx="268.15" cy="141.10"/>
<circle class="b" cx="252.65" cy="139.40"/>
<circle class="b" cx="254.02" cy="139.40"/>
<circle class="b" cx="255.40" cy="139.40"/>
<circle class="b" cx="256.77" cy="139.40"/>
<circle class="b" cx="258.15" cy="139.40"/>
<circle class="b" cx="259.52" cy="139.40"/>
<circle class="b" cx="260.90" cy="139.40"/>
<circle class="b" cx="262.27" cy="139.40"/>
<circle class="b" cx="263.65" cy="139.40"/>
<circle class="b" cx="265.02" cy="139.40"/>
<circle class="b" cx="266.40" cy="139.40"/>
<circle class="b" cx="267.77" cy="139.40"/>
<circle class="b" cx="269.15" cy="139.40"/>
<circle class="b" cx="252.65" cy="137.70"/>
<circle class="b" cx="254.02" cy="137.70"/>
<circle class="b" cx="255.40" cy="137.70"/>
<circle class="b" cx="256.77" cy="137.70"/>
<circle class="b" cx="258.15" cy="137.70"/>
<circle class="b" cx="259.52" cy="137.70"/>
<circle class="b" cx="260.90" cy="137.70"/>
<circle class="b" cx="262.27" cy="137.70"/>
<circle class="b" cx="263.65" cy="137.70"/>
<circle class="b" cx="265.02" cy="137.70"/>
<circle class="b" cx="266.40" cy="137.70"/>
<circle class="b" cx="267.77" cy="137.70"/>
<circle class="b" cx="269.15" cy="137.70"/>
<circle class="b" cx="253.65" cy="136.00"/>
<circle class="b" cx="255.10" cy="136.00"/>
<circle class="b" cx="256.55" cy="136.00"/>
<circle class="b" cx="258.00" cy="136.00"/>
<circle class="b" cx="259.45" cy="136.00"/>
<circle class="b" cx="260.90" cy="136.00"/>
<circle class="b" cx="262.35" cy="136.00"/>
<circle class="b" cx="263.80" cy="136.00"/>
<circle class="b" cx="265.25" cy="136.00"/>
<circle class="b" cx="266.70" cy="136.00"/>
<circle class="b" cx="268.15" cy="136.00"/>
<circle class="b" cx="255.10" cy="134.30"/>
<circle class="b" cx="256.55" cy="134.30"/>
<circle class="b" cx="258.00" cy="134.30"/>
<circle class="b" cx="259.45" cy="134.30"/>
<circle class="b" cx="260.90" cy="134.30"/>
<circle class="b" cx="262.35" cy="134.30"/>
<circle class="b" cx="263.80" cy="134.30"/>
<circle class="b" cx="265.25" cy="134.30"/>
<circle class="b" cx="266.70" cy="134.30"/>
<circle class="b" cx="256.55" cy="132.60"/>
<circle class="b" cx="258.00" cy="132.60"/>
<circle class="b" cx="259.45" cy="132.60"/>
<circle class="b" cx="260.90" cy="132.60"/>
<circle class="b" cx="262.35" cy="132.60"/>
<circle class="b" cx="263.80" cy="132.60"/>
<circle class="b" cx="265.25" cy="132.60"/>
<circle class="b" cx="258.00" cy="130.90"/>
<circle class="b" cx="259.45" cy="130.90"/>
<circle class="b" cx="260.90" cy="130.90"/>
<circle class="b" cx="262.35" cy="130.90"/>
<circle class="b" cx="263.80" cy="130.90"/>
<circle class="b" cx="259.45" cy="129.20"/>
<circle class="b" cx="260.90" cy="129.20"/>
<circle class="b" cx="262.35" cy="129.20"/>
<circle class="b" cx="259.45" cy="127.50"/>
<circle class="b" cx="260.90" cy="127.50"/>
<circle class="b" cx="262.35" cy="127.50"/>
<circle class="b" cx="259.45" cy="124.10"/>
<circle class="b" cx="260.90" cy="124.10"/>
<circle class="b" cx="262.35" cy="124.10"/>
<circle class="b" cx="260.17" cy="125.80"/>
<circle class="b" cx="261.62" cy="125.80"/>
<circle class="b" cx="259.45" cy="122.40"/>
<circle class="b" cx="260.90" cy="122.40"/>
<circle class="b" cx="262.35" cy="122.40"/>
<circle class="b" cx="259.45" cy="120.70"/>
<circle class="b" cx="260.90" cy="120.70"/>
<circle class="b" cx="262.35" cy="120.70"/>
<circle class="b" cx="260.17" cy="119.00"/>
<circle class="b" cx="261.62" cy="119.00"/>
<circle class="b" cx="258.72" cy="151.30"/>
<circle class="b" cx="260.17" cy="151.30"/>
<circle class="b" cx="261.62" cy="151.30"/>
<circle class="b" cx="263.07" cy="151.30"/>
<circle class="b" cx="259.45" cy="153.00"/>
<circle class="b" cx="260.90" cy="153.00"/>
<circle class="b" cx="262.35" cy="153.00"/>
<circle class="b" cx="260.90" cy="154.70"/>
<line x1="252.6" x2="269.2" y1="138.50" y2="138.50" class="M"/>
<line x1="260.9" x2="260.9" y1="163.0" y2="164.3" class="A"/>
<text x="260.9" y="171.0" class="X" fill="#4a78b0" stroke="#4a78b0">Neg</text>
<text x="260.9" y="176.0" class="X" fill="#4a78b0" stroke="#4a78b0">(n = 118)</text>
<circle class="g" cx="282.20" cy="146.20"/>
<circle class="g" cx="282.20" cy="144.50"/>
<circle class="g" cx="280.02" cy="142.80"/>
<circle class="g" cx="281.47" cy="142.80"/>
<circle class="g" cx="282.93" cy="142.80"/>
<circle class="g" cx="284.38" cy="142.80"/>
<circle class="g" cx="277.85" cy="141.10"/>
<circle class="g" cx="279.30" cy="141.10"/>
<circle class="g" cx="280.75" cy="141.10"/>
<circle class="g" cx="282.20" cy="141.10"/>
<circle class="g" cx="283.65" cy="141.10"/>
<circle class="g" cx="285.10" cy="141.10"/>
<circle class="g" cx="286.55" cy="141.10"/>
<circle class="g" cx="277.12" cy="139.40"/>
<circle class="g" cx="278.57" cy="139.40"/>
<circle class="g" cx="280.02" cy="139.40"/>
<circle class="g" cx="281.47" cy="139.40"/>
<circle class="g" cx="282.93" cy="139.40"/>
<circle class="g" cx="284.38" cy="139.40"/>
<circle class="g" cx="285.82" cy="139.40"/>
<circle class="g" cx="287.27" cy="139.40"/>
<circle class="g" cx="278.57" cy="137.70"/>
<circle class="g" cx="280.02" cy="137.70"/>
<circle class="g" cx="281.47" cy="137.70"/>
<circle class="g" cx="282.93" cy="137.70"/>
<circle class="g" cx="284.38" cy="137.70"/>
<circle class="g" cx="285.82" cy="137.70"/>
<circle class="g" cx="280.02" cy="136.00"/>
<circle class="g" cx="281.47" cy="136.00"/>
<circle class="g" cx="282.93" cy="136.00"/>
<circle class="g" cx="284.38" cy="136.00"/>
<circle class="g" cx="282.20" cy="134.30"/>
<circle class="g" cx="281.47" cy="132.60"/>
<circle class="g" cx="282.93" cy="132.60"/>
<circle class="g" cx="282.20" cy="129.20"/>
<circle class="g" cx="282.20" cy="127.50"/>
<circle class="g" cx="282.20" cy="125.80"/>
<circle class="g" cx="282.20" cy="124.10"/>
<circle class="g" cx="282.20" cy="147.90"/>
<circle class="g" cx="282.20" cy="149.60"/>
<circle class="g" cx="282.20" cy="153.00"/>
<circle class="g" cx="282.20" cy="154.70"/>
<circle class="g" cx="282.20" cy="156.40"/>
<line x1="273.9" x2="290.5" y1="139.50" y2="139.50" class="M"/>
<line x1="282.2" x2="282.2" y1="163.0" y2="164.3" class="A"/>
<text x="282.2" y="171.0" class="X" fill="#7cba6c" stroke="#7cba6c">Pos</text>
<text x="282.2" y="176.0" class="X" fill="#7cba6c" stroke="#7cba6c">(n = 43)</text>
<line x1="250.0" x2="250.0" y1="115.5" y2="163.0" class="A"/>
<line x1="249.7" x2="291.0" y1="163.0" y2="163.0" class="A"/>
<line x1="248.2" x2="250.0" y1="163.00" y2="163.00" class="A"/>
<text transform="translate(246.40,164.45) scale(0.97,1)" class="K">0.01</text>
<line x1="248.2" x2="250.0" y1="153.80" y2="153.80" class="A"/>
<text transform="translate(246.40,155.25) scale(0.97,1)" class="K">0.1</text>
<line x1="248.2" x2="250.0" y1="144.60" y2="144.60" class="A"/>
<text transform="translate(246.40,146.05) scale(0.97,1)" class="K">1</text>
<line x1="248.2" x2="250.0" y1="135.40" y2="135.40" class="A"/>
<text transform="translate(246.40,136.85) scale(0.97,1)" class="K">10</text>
<line x1="248.2" x2="250.0" y1="126.20" y2="126.20" class="A"/>
<text transform="translate(246.40,127.65) scale(0.97,1)" class="K">100</text>
<line x1="248.2" x2="250.0" y1="117.00" y2="117.00" class="A"/>
<text transform="translate(246.40,118.45) scale(0.97,1)" class="K">1000</text>
<text transform="translate(300.3,108.6) scale(1.0,1)" class="L">N</text>
<text transform="translate(344.9,110.2) scale(0.9,1)" class="T">COO</text>
<text x="345.4" y="118.0" class="P"><tspan font-style="italic">P</tspan> = .093</text>
<text transform="translate(307.3,139.0) rotate(-90) scale(0.75,1)" class="Y">CD4/MR</text>
<circle class="b" cx="335.50" cy="142.80"/>
<circle class="b" cx="334.77" cy="141.10"/>
<circle class="b" cx="336.23" cy="141.10"/>
<circle class="b" cx="332.60" cy="139.40"/>
<circle class="b" cx="334.05" cy="139.40"/>
<circle class="b" cx="335.50" cy="139.40"/>
<circle class="b" cx="336.95" cy="139.40"/>
<circle class="b" cx="338.40" cy="139.40"/>
<circle class="b" cx="330.43" cy="137.70"/>
<circle class="b" cx="331.88" cy="137.70"/>
<circle class="b" cx="333.32" cy="137.70"/>
<circle class="b" cx="334.77" cy="137.70"/>
<circle class="b" cx="336.23" cy="137.70"/>
<circle class="b" cx="337.68" cy="137.70"/>
<circle class="b" cx="339.12" cy="137.70"/>
<circle class="b" cx="340.57" cy="137.70"/>
<circle class="b" cx="333.32" cy="136.00"/>
<circle class="b" cx="334.77" cy="136.00"/>
<circle class="b" cx="336.23" cy="136.00"/>
<circle class="b" cx="337.68" cy="136.00"/>
<circle class="b" cx="333.32" cy="134.30"/>
<circle class="b" cx="334.77" cy="134.30"/>
<circle class="b" cx="336.23" cy="134.30"/>
<circle class="b" cx="337.68" cy="134.30"/>
<circle class="b" cx="334.05" cy="132.60"/>
<circle class="b" cx="335.50" cy="132.60"/>
<circle class="b" cx="336.95" cy="132.60"/>
<circle class="b" cx="334.05" cy="130.90"/>
<circle class="b" cx="335.50" cy="130.90"/>
<circle class="b" cx="336.95" cy="130.90"/>
<circle class="b" cx="335.50" cy="129.20"/>
<circle class="b" cx="335.50" cy="127.50"/>
<circle class="b" cx="335.50" cy="125.80"/>
<circle class="b" cx="331.88" cy="124.10"/>
<circle class="b" cx="333.32" cy="124.10"/>
<circle class="b" cx="334.77" cy="124.10"/>
<circle class="b" cx="336.23" cy="124.10"/>
<circle class="b" cx="337.68" cy="124.10"/>
<circle class="b" cx="339.12" cy="124.10"/>
<circle class="b" cx="335.50" cy="144.50"/>
<circle class="b" cx="335.50" cy="147.90"/>
<circle class="b" cx="335.50" cy="151.30"/>
<circle class="b" cx="335.50" cy="153.00"/>
<circle class="b" cx="335.50" cy="156.40"/>
<line x1="327.2" x2="343.8" y1="136.50" y2="136.50" class="M"/>
<line x1="335.5" x2="335.5" y1="163.0" y2="164.3" class="A"/>
<text x="335.5" y="171.0" class="X" fill="#4a78b0" stroke="#4a78b0">GCB</text>
<text x="335.5" y="176.0" class="X" fill="#4a78b0" stroke="#4a78b0">(n = 44)</text>
<circle class="g" cx="355.35" cy="149.60"/>
<circle class="g" cx="356.80" cy="149.60"/>
<circle class="g" cx="358.25" cy="149.60"/>
<circle class="g" cx="355.35" cy="147.90"/>
<circle class="g" cx="356.80" cy="147.90"/>
<circle class="g" cx="358.25" cy="147.90"/>
<circle class="g" cx="355.35" cy="146.20"/>
<circle class="g" cx="356.80" cy="146.20"/>
<circle class="g" cx="358.25" cy="146.20"/>
<circle class="g" cx="353.18" cy="144.50"/>
<circle class="g" cx="354.62" cy="144.50"/>
<circle class="g" cx="356.07" cy="144.50"/>
<circle class="g" cx="357.53" cy="144.50"/>
<circle class="g" cx="358.98" cy="144.50"/>
<circle class="g" cx="360.43" cy="144.50"/>
<circle class="g" cx="351.73" cy="142.80"/>
<circle class="g" cx="353.18" cy="142.80"/>
<circle class="g" cx="354.62" cy="142.80"/>
<circle class="g" cx="356.07" cy="142.80"/>
<circle class="g" cx="357.53" cy="142.80"/>
<circle class="g" cx="358.98" cy="142.80"/>
<circle class="g" cx="360.43" cy="142.80"/>
<circle class="g" cx="361.88" cy="142.80"/>
<circle class="g" cx="348.82" cy="141.10"/>
<circle class="g" cx="350.28" cy="141.10"/>
<circle class="g" cx="351.73" cy="141.10"/>
<circle class="g" cx="353.18" cy="141.10"/>
<circle class="g" cx="354.62" cy="141.10"/>
<circle class="g" cx="356.07" cy="141.10"/>
<circle class="g" cx="357.53" cy="141.10"/>
<circle class="g" cx="358.98" cy="141.10"/>
<circle class="g" cx="360.43" cy="141.10"/>
<circle class="g" cx="361.88" cy="141.10"/>
<circle class="g" cx="363.32" cy="141.10"/>
<circle class="g" cx="364.78" cy="141.10"/>
<circle class="g" cx="348.55" cy="139.40"/>
<circle class="g" cx="349.82" cy="139.40"/>
<circle class="g" cx="351.09" cy="139.40"/>
<circle class="g" cx="352.36" cy="139.40"/>
<circle class="g" cx="353.63" cy="139.40"/>
<circle class="g" cx="354.90" cy="139.40"/>
<circle class="g" cx="356.17" cy="139.40"/>
<circle class="g" cx="357.43" cy="139.40"/>
<circle class="g" cx="358.70" cy="139.40"/>
<circle class="g" cx="359.97" cy="139.40"/>
<circle class="g" cx="361.24" cy="139.40"/>
<circle class="g" cx="362.51" cy="139.40"/>
<circle class="g" cx="363.78" cy="139.40"/>
<circle class="g" cx="365.05" cy="139.40"/>
<circle class="g" cx="348.55" cy="137.70"/>
<circle class="g" cx="349.82" cy="137.70"/>
<circle class="g" cx="351.09" cy="137.70"/>
<circle class="g" cx="352.36" cy="137.70"/>
<circle class="g" cx="353.63" cy="137.70"/>
<circle class="g" cx="354.90" cy="137.70"/>
<circle class="g" cx="356.17" cy="137.70"/>
<circle class="g" cx="357.43" cy="137.70"/>
<circle class="g" cx="358.70" cy="137.70"/>
<circle class="g" cx="359.97" cy="137.70"/>
<circle class="g" cx="361.24" cy="137.70"/>
<circle class="g" cx="362.51" cy="137.70"/>
<circle class="g" cx="363.78" cy="137.70"/>
<circle class="g" cx="365.05" cy="137.70"/>
<circle class="g" cx="348.55" cy="136.00"/>
<circle class="g" cx="349.93" cy="136.00"/>
<circle class="g" cx="351.30" cy="136.00"/>
<circle class="g" cx="352.68" cy="136.00"/>
<circle class="g" cx="354.05" cy="136.00"/>
<circle class="g" cx="355.43" cy="136.00"/>
<circle class="g" cx="356.80" cy="136.00"/>
<circle class="g" cx="358.18" cy="136.00"/>
<circle class="g" cx="359.55" cy="136.00"/>
<circle class="g" cx="360.93" cy="136.00"/>
<circle class="g" cx="362.30" cy="136.00"/>
<circle class="g" cx="363.68" cy="136.00"/>
<circle class="g" cx="365.05" cy="136.00"/>
<circle class="g" cx="351.00" cy="134.30"/>
<circle class="g" cx="352.45" cy="134.30"/>
<circle class="g" cx="353.90" cy="134.30"/>
<circle class="g" cx="355.35" cy="134.30"/>
<circle class="g" cx="356.80" cy="134.30"/>
<circle class="g" cx="358.25" cy="134.30"/>
<circle class="g" cx="359.70" cy="134.30"/>
<circle class="g" cx="361.15" cy="134.30"/>
<circle class="g" cx="362.60" cy="134.30"/>
<circle class="g" cx="353.90" cy="132.60"/>
<circle class="g" cx="355.35" cy="132.60"/>
<circle class="g" cx="356.80" cy="132.60"/>
<circle class="g" cx="358.25" cy="132.60"/>
<circle class="g" cx="359.70" cy="132.60"/>
<circle class="g" cx="355.35" cy="130.90"/>
<circle class="g" cx="356.80" cy="130.90"/>
<circle class="g" cx="358.25" cy="130.90"/>
<circle class="g" cx="356.07" cy="129.20"/>
<circle class="g" cx="357.53" cy="129.20"/>
<circle class="g" cx="355.35" cy="127.50"/>
<circle class="g" cx="356.80" cy="127.50"/>
<circle class="g" cx="358.25" cy="127.50"/>
<circle class="g" cx="356.07" cy="125.80"/>
<circle class="g" cx="357.53" cy="125.80"/>
<circle class="g" cx="356.07" cy="124.10"/>
<circle class="g" cx="357.53" cy="124.10"/>
<circle class="g" cx="356.07" cy="122.40"/>
<circle class="g" cx="357.53" cy="122.40"/>
<circle class="g" cx="356.07" cy="120.70"/>
<circle class="g" cx="357.53" cy="120.70"/>
<circle class="g" cx="356.07" cy="119.00"/>
<circle class="g" cx="357.53" cy="119.00"/>
<circle class="g" cx="356.07" cy="151.30"/>
<circle class="g" cx="357.53" cy="151.30"/>
<circle class="g" cx="356.07" cy="153.00"/>
<circle class="g" cx="357.53" cy="153.00"/>
<circle class="g" cx="356.07" cy="154.70"/>
<circle class="g" cx="357.53" cy="154.70"/>
<circle class="g" cx="355.35" cy="156.40"/>
<circle class="g" cx="356.80" cy="156.40"/>
<circle class="g" cx="358.25" cy="156.40"/>
<circle class="g" cx="356.80" cy="158.10"/>
<line x1="348.5" x2="365.1" y1="138.50" y2="138.50" class="M"/>
<line x1="356.8" x2="356.8" y1="163.0" y2="164.3" class="A"/>
<text x="356.8" y="171.0" class="X" fill="#7cba6c" stroke="#7cba6c">Non-GCB</text>
<text x="356.8" y="176.0" class="X" fill="#7cba6c" stroke="#7cba6c">(n = 118)</text>
<line x1="324.6" x2="324.6" y1="115.5" y2="163.0" class="A"/>
<line x1="324.3" x2="365.6" y1="163.0" y2="163.0" class="A"/>
<line x1="322.8" x2="324.6" y1="163.00" y2="163.00" class="A"/>
<text transform="translate(321.00,164.45) scale(0.97,1)" class="K">0.01</text>
<line x1="322.8" x2="324.6" y1="153.80" y2="153.80" class="A"/>
<text transform="translate(321.00,155.25) scale(0.97,1)" class="K">0.1</text>
<line x1="322.8" x2="324.6" y1="144.60" y2="144.60" class="A"/>
<text transform="translate(321.00,146.05) scale(0.97,1)" class="K">1</text>
<line x1="322.8" x2="324.6" y1="135.40" y2="135.40" class="A"/>
<text transform="translate(321.00,136.85) scale(0.97,1)" class="K">10</text>
<line x1="322.8" x2="324.6" y1="126.20" y2="126.20" class="A"/>
<text transform="translate(321.00,127.65) scale(0.97,1)" class="K">100</text>
<line x1="322.8" x2="324.6" y1="117.00" y2="117.00" class="A"/>
<text transform="translate(321.00,118.45) scale(0.97,1)" class="K">1000</text>
<text transform="translate(375.8,108.6) scale(1.0,1)" class="L">Q</text>
<text transform="translate(418.6,110.2) scale(0.9,1)" class="T">DEL</text>
<text x="419.1" y="118.0" class="P"><tspan font-style="italic">P</tspan> = .011</text>
<text transform="translate(381.0,139.0) rotate(-90) scale(0.75,1)" class="Y">CD4/MR</text>
<circle class="b" cx="408.47" cy="146.20"/>
<circle class="b" cx="409.93" cy="146.20"/>
<circle class="b" cx="408.47" cy="144.50"/>
<circle class="b" cx="409.93" cy="144.50"/>
<circle class="b" cx="406.30" cy="142.80"/>
<circle class="b" cx="407.75" cy="142.80"/>
<circle class="b" cx="409.20" cy="142.80"/>
<circle class="b" cx="410.65" cy="142.80"/>
<circle class="b" cx="412.10" cy="142.80"/>
<circle class="b" cx="404.85" cy="141.10"/>
<circle class="b" cx="406.30" cy="141.10"/>
<circle class="b" cx="407.75" cy="141.10"/>
<circle class="b" cx="409.20" cy="141.10"/>
<circle class="b" cx="410.65" cy="141.10"/>
<circle class="b" cx="412.10" cy="141.10"/>
<circle class="b" cx="413.55" cy="141.10"/>
<circle class="b" cx="402.68" cy="139.40"/>
<circle class="b" cx="404.12" cy="139.40"/>
<circle class="b" cx="405.57" cy="139.40"/>
<circle class="b" cx="407.02" cy="139.40"/>
<circle class="b" cx="408.47" cy="139.40"/>
<circle class="b" cx="409.93" cy="139.40"/>
<circle class="b" cx="411.38" cy="139.40"/>
<circle class="b" cx="412.82" cy="139.40"/>
<circle class="b" cx="414.27" cy="139.40"/>
<circle class="b" cx="415.72" cy="139.40"/>
<circle class="b" cx="401.22" cy="137.70"/>
<circle class="b" cx="402.68" cy="137.70"/>
<circle class="b" cx="404.12" cy="137.70"/>
<circle class="b" cx="405.57" cy="137.70"/>
<circle class="b" cx="407.02" cy="137.70"/>
<circle class="b" cx="408.47" cy="137.70"/>
<circle class="b" cx="409.93" cy="137.70"/>
<circle class="b" cx="411.38" cy="137.70"/>
<circle class="b" cx="412.82" cy="137.70"/>
<circle class="b" cx="414.27" cy="137.70"/>
<circle class="b" cx="415.72" cy="137.70"/>
<circle class="b" cx="417.18" cy="137.70"/>
<circle class="b" cx="404.12" cy="136.00"/>
<circle class="b" cx="405.57" cy="136.00"/>
<circle class="b" cx="407.02" cy="136.00"/>
<circle class="b" cx="408.47" cy="136.00"/>
<circle class="b" cx="409.93" cy="136.00"/>
<circle class="b" cx="411.38" cy="136.00"/>
<circle class="b" cx="412.82" cy="136.00"/>
<circle class="b" cx="414.27" cy="136.00"/>
<circle class="b" cx="404.85" cy="134.30"/>
<circle class="b" cx="406.30" cy="134.30"/>
<circle class="b" cx="407.75" cy="134.30"/>
<circle class="b" cx="409.20" cy="134.30"/>
<circle class="b" cx="410.65" cy="134.30"/>
<circle class="b" cx="412.10" cy="134.30"/>
<circle class="b" cx="413.55" cy="134.30"/>
<circle class="b" cx="405.57" cy="132.60"/>
<circle class="b" cx="407.02" cy="132.60"/>
<circle class="b" cx="408.47" cy="132.60"/>
<circle class="b" cx="409.93" cy="132.60"/>
<circle class="b" cx="411.38" cy="132.60"/>
<circle class="b" cx="412.82" cy="132.60"/>
<circle class="b" cx="406.30" cy="130.90"/>
<circle class="b" cx="407.75" cy="130.90"/>
<circle class="b" cx="409.20" cy="130.90"/>
<circle class="b" cx="410.65" cy="130.90"/>
<circle class="b" cx="412.10" cy="130.90"/>
<circle class="b" cx="407.75" cy="129.20"/>
<circle class="b" cx="409.20" cy="129.20"/>
<circle class="b" cx="410.65" cy="129.20"/>
<circle class="b" cx="407.75" cy="127.50"/>
<circle class="b" cx="409.20" cy="127.50"/>
<circle class="b" cx="410.65" cy="127.50"/>
<circle class="b" cx="408.47" cy="125.80"/>
<circle class="b" cx="409.93" cy="125.80"/>
<circle class="b" cx="408.47" cy="124.10"/>
<circle class="b" cx="409.93" cy="124.10"/>
<circle class="b" cx="407.02" cy="120.70"/>
<circle class="b" cx="408.47" cy="120.70"/>
<circle class="b" cx="409.93" cy="120.70"/>
<circle class="b" cx="411.38" cy="120.70"/>
<circle class="b" cx="408.47" cy="122.40"/>
<circle class="b" cx="409.93" cy="122.40"/>
<circle class="b" cx="407.75" cy="119.00"/>
<circle class="b" cx="409.20" cy="119.00"/>
<circle class="b" cx="410.65" cy="119.00"/>
<circle class="b" cx="409.20" cy="117.30"/>
<circle class="b" cx="408.47" cy="147.90"/>
<circle class="b" cx="409.93" cy="147.90"/>
<circle class="b" cx="408.47" cy="149.60"/>
<circle class="b" cx="409.93" cy="149.60"/>
<circle class="b" cx="409.20" cy="151.30"/>
<circle class="b" cx="408.47" cy="153.00"/>
<circle class="b" cx="409.93" cy="153.00"/>
<circle class="b" cx="408.47" cy="154.70"/>
<circle class="b" cx="409.93" cy="154.70"/>
<line x1="400.9" x2="417.5" y1="137.50" y2="137.50" class="M"/>
<line x1="409.2" x2="409.2" y1="163.0" y2="164.3" class="A"/>
<text x="409.2" y="171.0" class="X" fill="#4a78b0" stroke="#4a78b0">No</text>
<text x="409.2" y="176.0" class="X" fill="#4a78b0" stroke="#4a78b0">(n = 93)</text>
<circle class="g" cx="429.77" cy="146.20"/>
<circle class="g" cx="431.23" cy="146.20"/>
<circle class="g" cx="429.77" cy="144.50"/>
<circle class="g" cx="431.23" cy="144.50"/>
<circle class="g" cx="428.32" cy="142.80"/>
<circle class="g" cx="429.77" cy="142.80"/>
<circle class="g" cx="431.23" cy="142.80"/>
<circle class="g" cx="432.68" cy="142.80"/>
<circle class="g" cx="426.15" cy="141.10"/>
<circle class="g" cx="427.60" cy="141.10"/>
<circle class="g" cx="429.05" cy="141.10"/>
<circle class="g" cx="430.50" cy="141.10"/>
<circle class="g" cx="431.95" cy="141.10"/>
<circle class="g" cx="433.40" cy="141.10"/>
<circle class="g" cx="434.85" cy="141.10"/>
<circle class="g" cx="424.70" cy="139.40"/>
<circle class="g" cx="426.15" cy="139.40"/>
<circle class="g" cx="427.60" cy="139.40"/>
<circle class="g" cx="429.05" cy="139.40"/>
<circle class="g" cx="430.50" cy="139.40"/>
<circle class="g" cx="431.95" cy="139.40"/>
<circle class="g" cx="433.40" cy="139.40"/>
<circle class="g" cx="434.85" cy="139.40"/>
<circle class="g" cx="436.30" cy="139.40"/>
<circle class="g" cx="424.70" cy="137.70"/>
<circle class="g" cx="426.15" cy="137.70"/>
<circle class="g" cx="427.60" cy="137.70"/>
<circle class="g" cx="429.05" cy="137.70"/>
<circle class="g" cx="430.50" cy="137.70"/>
<circle class="g" cx="431.95" cy="137.70"/>
<circle class="g" cx="433.40" cy="137.70"/>
<circle class="g" cx="434.85" cy="137.70"/>
<circle class="g" cx="436.30" cy="137.70"/>
<circle class="g" cx="426.15" cy="136.00"/>
<circle class="g" cx="427.60" cy="136.00"/>
<circle class="g" cx="429.05" cy="136.00"/>
<circle class="g" cx="430.50" cy="136.00"/>
<circle class="g" cx="431.95" cy="136.00"/>
<circle class="g" cx="433.40" cy="136.00"/>
<circle class="g" cx="434.85" cy="136.00"/>
<circle class="g" cx="426.88" cy="134.30"/>
<circle class="g" cx="428.32" cy="134.30"/>
<circle class="g" cx="429.77" cy="134.30"/>
<circle class="g" cx="431.23" cy="134.30"/>
<circle class="g" cx="432.68" cy="134.30"/>
<circle class="g" cx="434.12" cy="134.30"/>
<circle class="g" cx="428.32" cy="132.60"/>
<circle class="g" cx="429.77" cy="132.60"/>
<circle class="g" cx="431.23" cy="132.60"/>
<circle class="g" cx="432.68" cy="132.60"/>
<circle class="g" cx="429.77" cy="130.90"/>
<circle class="g" cx="431.23" cy="130.90"/>
<circle class="g" cx="429.77" cy="129.20"/>
<circle class="g" cx="431.23" cy="129.20"/>
<circle class="g" cx="429.77" cy="127.50"/>
<circle class="g" cx="431.23" cy="127.50"/>
<circle class="g" cx="429.77" cy="125.80"/>
<circle class="g" cx="431.23" cy="125.80"/>
<circle class="g" cx="429.77" cy="124.10"/>
<circle class="g" cx="431.23" cy="124.10"/>
<circle class="g" cx="430.50" cy="122.40"/>
<circle class="g" cx="430.50" cy="147.90"/>
<circle class="g" cx="430.50" cy="149.60"/>
<circle class="g" cx="430.50" cy="151.30"/>
<circle class="g" cx="430.50" cy="153.00"/>
<circle class="g" cx="430.50" cy="154.70"/>
<circle class="g" cx="430.50" cy="156.40"/>
<line x1="422.2" x2="438.8" y1="138.50" y2="138.50" class="M"/>
<line x1="430.5" x2="430.5" y1="163.0" y2="164.3" class="A"/>
<text x="430.5" y="171.0" class="X" fill="#7cba6c" stroke="#7cba6c">Yes</text>
<text x="430.5" y="176.0" class="X" fill="#7cba6c" stroke="#7cba6c">(n = 67)</text>
<line x1="398.3" x2="398.3" y1="115.5" y2="163.0" class="A"/>
<line x1="398.0" x2="439.3" y1="163.0" y2="163.0" class="A"/>
<line x1="396.5" x2="398.3" y1="163.00" y2="163.00" class="A"/>
<text transform="translate(394.70,164.45) scale(0.97,1)" class="K">0.01</text>
<line x1="396.5" x2="398.3" y1="153.80" y2="153.80" class="A"/>
<text transform="translate(394.70,155.25) scale(0.97,1)" class="K">0.1</text>
<line x1="396.5" x2="398.3" y1="144.60" y2="144.60" class="A"/>
<text transform="translate(394.70,146.05) scale(0.97,1)" class="K">1</text>
<line x1="396.5" x2="398.3" y1="135.40" y2="135.40" class="A"/>
<text transform="translate(394.70,136.85) scale(0.97,1)" class="K">10</text>
<line x1="396.5" x2="398.3" y1="126.20" y2="126.20" class="A"/>
<text transform="translate(394.70,127.65) scale(0.97,1)" class="K">100</text>
<line x1="396.5" x2="398.3" y1="117.00" y2="117.00" class="A"/>
<text transform="translate(394.70,118.45) scale(0.97,1)" class="K">1000</text>
<text transform="translate(449.7,108.6) scale(1.0,1)" class="L">T</text>
<text transform="translate(492.7,110.2) scale(0.9,1)" class="T">EBV</text>
<text x="493.2" y="118.0" class="P"><tspan font-style="italic">P</tspan> = .048</text>
<text transform="translate(455.1,139.0) rotate(-90) scale(0.75,1)" class="Y">CD4/MR</text>
<circle class="b" cx="481.85" cy="147.90"/>
<circle class="b" cx="483.30" cy="147.90"/>
<circle class="b" cx="484.75" cy="147.90"/>
<circle class="b" cx="481.85" cy="146.20"/>
<circle class="b" cx="483.30" cy="146.20"/>
<circle class="b" cx="484.75" cy="146.20"/>
<circle class="b" cx="482.57" cy="144.50"/>
<circle class="b" cx="484.02" cy="144.50"/>
<circle class="b" cx="479.67" cy="142.80"/>
<circle class="b" cx="481.12" cy="142.80"/>
<circle class="b" cx="482.57" cy="142.80"/>
<circle class="b" cx="484.02" cy="142.80"/>
<circle class="b" cx="485.47" cy="142.80"/>
<circle class="b" cx="486.92" cy="142.80"/>
<circle class="b" cx="476.05" cy="141.10"/>
<circle class="b" cx="477.50" cy="141.10"/>
<circle class="b" cx="478.95" cy="141.10"/>
<circle class="b" cx="480.40" cy="141.10"/>
<circle class="b" cx="481.85" cy="141.10"/>
<circle class="b" cx="483.30" cy="141.10"/>
<circle class="b" cx="484.75" cy="141.10"/>
<circle class="b" cx="486.20" cy="141.10"/>
<circle class="b" cx="487.65" cy="141.10"/>
<circle class="b" cx="489.10" cy="141.10"/>
<circle class="b" cx="490.55" cy="141.10"/>
<circle class="b" cx="475.05" cy="139.40"/>
<circle class="b" cx="476.23" cy="139.40"/>
<circle class="b" cx="477.41" cy="139.40"/>
<circle class="b" cx="478.59" cy="139.40"/>
<circle class="b" cx="479.76" cy="139.40"/>
<circle class="b" cx="480.94" cy="139.40"/>
<circle class="b" cx="482.12" cy="139.40"/>
<circle class="b" cx="483.30" cy="139.40"/>
<circle class="b" cx="484.48" cy="139.40"/>
<circle class="b" cx="485.66" cy="139.40"/>
<circle class="b" cx="486.84" cy="139.40"/>
<circle class="b" cx="488.01" cy="139.40"/>
<circle class="b" cx="489.19" cy="139.40"/>
<circle class="b" cx="490.37" cy="139.40"/>
<circle class="b" cx="491.55" cy="139.40"/>
<circle class="b" cx="475.05" cy="137.70"/>
<circle class="b" cx="476.02" cy="137.70"/>
<circle class="b" cx="476.99" cy="137.70"/>
<circle class="b" cx="477.96" cy="137.70"/>
<circle class="b" cx="478.93" cy="137.70"/>
<circle class="b" cx="479.90" cy="137.70"/>
<circle class="b" cx="480.87" cy="137.70"/>
<circle class="b" cx="481.84" cy="137.70"/>
<circle class="b" cx="482.81" cy="137.70"/>
<circle class="b" cx="483.79" cy="137.70"/>
<circle class="b" cx="484.76" cy="137.70"/>
<circle class="b" cx="485.73" cy="137.70"/>
<circle class="b" cx="486.70" cy="137.70"/>
<circle class="b" cx="487.67" cy="137.70"/>
<circle class="b" cx="488.64" cy="137.70"/>
<circle class="b" cx="489.61" cy="137.70"/>
<circle class="b" cx="490.58" cy="137.70"/>
<circle class="b" cx="491.55" cy="137.70"/>
<circle class="b" cx="475.05" cy="136.00"/>
<circle class="b" cx="476.02" cy="136.00"/>
<circle class="b" cx="476.99" cy="136.00"/>
<circle class="b" cx="477.96" cy="136.00"/>
<circle class="b" cx="478.93" cy="136.00"/>
<circle class="b" cx="479.90" cy="136.00"/>
<circle class="b" cx="480.87" cy="136.00"/>
<circle class="b" cx="481.84" cy="136.00"/>
<circle class="b" cx="482.81" cy="136.00"/>
<circle class="b" cx="483.79" cy="136.00"/>
<circle class="b" cx="484.76" cy="136.00"/>
<circle class="b" cx="485.73" cy="136.00"/>
<circle class="b" cx="486.70" cy="136.00"/>
<circle class="b" cx="487.67" cy="136.00"/>
<circle class="b" cx="488.64" cy="136.00"/>
<circle class="b" cx="489.61" cy="136.00"/>
<circle class="b" cx="490.58" cy="136.00"/>
<circle class="b" cx="491.55" cy="136.00"/>
<circle class="b" cx="475.05" cy="134.30"/>
<circle class="b" cx="476.15" cy="134.30"/>
<circle class="b" cx="477.25" cy="134.30"/>
<circle class="b" cx="478.35" cy="134.30"/>
<circle class="b" cx="479.45" cy="134.30"/>
<circle class="b" cx="480.55" cy="134.30"/>
<circle class="b" cx="481.65" cy="134.30"/>
<circle class="b" cx="482.75" cy="134.30"/>
<circle class="b" cx="483.85" cy="134.30"/>
<circle class="b" cx="484.95" cy="134.30"/>
<circle class="b" cx="486.05" cy="134.30"/>
<circle class="b" cx="487.15" cy="134.30"/>
<circle class="b" cx="488.25" cy="134.30"/>
<circle class="b" cx="489.35" cy="134.30"/>
<circle class="b" cx="490.45" cy="134.30"/>
<circle class="b" cx="491.55" cy="134.30"/>
<circle class="b" cx="475.32" cy="132.60"/>
<circle class="b" cx="476.77" cy="132.60"/>
<circle class="b" cx="478.22" cy="132.60"/>
<circle class="b" cx="479.67" cy="132.60"/>
<circle class="b" cx="481.12" cy="132.60"/>
<circle class="b" cx="482.57" cy="132.60"/>
<circle class="b" cx="484.02" cy="132.60"/>
<circle class="b" cx="485.47" cy="132.60"/>
<circle class="b" cx="486.92" cy="132.60"/>
<circle class="b" cx="488.37" cy="132.60"/>
<circle class="b" cx="489.82" cy="132.60"/>
<circle class="b" cx="491.27" cy="132.60"/>
<circle class="b" cx="478.22" cy="130.90"/>
<circle class="b" cx="479.67" cy="130.90"/>
<circle class="b" cx="481.12" cy="130.90"/>
<circle class="b" cx="482.57" cy="130.90"/>
<circle class="b" cx="484.02" cy="130.90"/>
<circle class="b" cx="485.47" cy="130.90"/>
<circle class="b" cx="486.92" cy="130.90"/>
<circle class="b" cx="488.37" cy="130.90"/>
<circle class="b" cx="480.40" cy="129.20"/>
<circle class="b" cx="481.85" cy="129.20"/>
<circle class="b" cx="483.30" cy="129.20"/>
<circle class="b" cx="484.75" cy="129.20"/>
<circle class="b" cx="486.20" cy="129.20"/>
<circle class="b" cx="481.85" cy="127.50"/>
<circle class="b" cx="483.30" cy="127.50"/>
<circle class="b" cx="484.75" cy="127.50"/>
<circle class="b" cx="481.85" cy="125.80"/>
<circle class="b" cx="483.30" cy="125.80"/>
<circle class="b" cx="484.75" cy="125.80"/>
<circle class="b" cx="481.85" cy="124.10"/>
<circle class="b" cx="483.30" cy="124.10"/>
<circle class="b" cx="484.75" cy="124.10"/>
<circle class="b" cx="481.85" cy="122.40"/>
<circle class="b" cx="483.30" cy="122.40"/>
<circle class="b" cx="484.75" cy="122.40"/>
<circle class="b" cx="481.85" cy="120.70"/>
<circle class="b" cx="483.30" cy="120.70"/>
<circle class="b" cx="484.75" cy="120.70"/>
<circle class="b" cx="481.85" cy="119.00"/>
<circle class="b" cx="483.30" cy="119.00"/>
<circle class="b" cx="484.75" cy="119.00"/>
<circle class="b" cx="483.30" cy="117.30"/>
<circle class="b" cx="482.57" cy="149.60"/>
<circle class="b" cx="484.02" cy="149.60"/>
<circle class="b" cx="482.57" cy="151.30"/>
<circle class="b" cx="484.02" cy="151.30"/>
<circle class="b" cx="482.57" cy="153.00"/>
<circle class="b" cx="484.02" cy="153.00"/>
<circle class="b" cx="482.57" cy="154.70"/>
<circle class="b" cx="484.02" cy="154.70"/>
<circle class="b" cx="481.85" cy="156.40"/>
<circle class="b" cx="483.30" cy="156.40"/>
<circle class="b" cx="484.75" cy="156.40"/>
<circle class="b" cx="483.30" cy="158.10"/>
<line x1="475.0" x2="491.6" y1="136.50" y2="136.50" class="M"/>
<line x1="483.3" x2="483.3" y1="163.0" y2="164.3" class="A"/>
<text x="483.3" y="171.0" class="X" fill="#4a78b0" stroke="#4a78b0">Absent</text>
<text x="483.3" y="176.0" class="X" fill="#4a78b0" stroke="#4a78b0">(n = 148)</text>
<circle class="g" cx="504.60" cy="144.50"/>
<circle class="g" cx="504.60" cy="142.80"/>
<circle class="g" cx="503.87" cy="141.10"/>
<circle class="g" cx="505.32" cy="141.10"/>
<circle class="g" cx="503.87" cy="139.40"/>
<circle class="g" cx="505.32" cy="139.40"/>
<circle class="g" cx="503.87" cy="137.70"/>
<circle class="g" cx="505.32" cy="137.70"/>
<circle class="g" cx="504.60" cy="136.00"/>
<circle class="g" cx="504.60" cy="134.30"/>
<circle class="g" cx="504.60" cy="127.50"/>
<circle class="g" cx="504.60" cy="146.20"/>
<line x1="496.3" x2="512.9" y1="139.50" y2="139.50" class="M"/>
<line x1="504.6" x2="504.6" y1="163.0" y2="164.3" class="A"/>
<text x="504.6" y="171.0" class="X" fill="#7cba6c" stroke="#7cba6c">Present</text>
<text x="504.6" y="176.0" class="X" fill="#7cba6c" stroke="#7cba6c">(n = 12)</text>
<line x1="472.4" x2="472.4" y1="115.5" y2="163.0" class="A"/>
<line x1="472.09999999999997" x2="513.4" y1="163.0" y2="163.0" class="A"/>
<line x1="470.59999999999997" x2="472.4" y1="163.00" y2="163.00" class="A"/>
<text transform="translate(468.80,164.45) scale(0.97,1)" class="K">0.01</text>
<line x1="470.59999999999997" x2="472.4" y1="153.80" y2="153.80" class="A"/>
<text transform="translate(468.80,155.25) scale(0.97,1)" class="K">0.1</text>
<line x1="470.59999999999997" x2="472.4" y1="144.60" y2="144.60" class="A"/>
<text transform="translate(468.80,146.05) scale(0.97,1)" class="K">1</text>
<line x1="470.59999999999997" x2="472.4" y1="135.40" y2="135.40" class="A"/>
<text transform="translate(468.80,136.85) scale(0.97,1)" class="K">10</text>
<line x1="470.59999999999997" x2="472.4" y1="126.20" y2="126.20" class="A"/>
<text transform="translate(468.80,127.65) scale(0.97,1)" class="K">100</text>
<line x1="470.59999999999997" x2="472.4" y1="117.00" y2="117.00" class="A"/>
<text transform="translate(468.80,118.45) scale(0.97,1)" class="K">1000</text>
<text transform="translate(8.0,201.10000000000002) scale(1.0,1)" class="L">C</text>
<text transform="translate(51.0,202.9) scale(0.9,1)" class="T">Age</text>
<text x="51.5" y="208.8" class="P"><tspan font-style="italic">P</tspan> = .377</text>
<text transform="translate(13.4,231.0) rotate(-90) scale(0.75,1)" class="Y">CD8/MR</text>
<circle class="b" cx="40.88" cy="244.80"/>
<circle class="b" cx="42.33" cy="244.80"/>
<circle class="b" cx="40.88" cy="243.10"/>
<circle class="b" cx="42.33" cy="243.10"/>
<circle class="b" cx="39.43" cy="241.40"/>
<circle class="b" cx="40.88" cy="241.40"/>
<circle class="b" cx="42.33" cy="241.40"/>
<circle class="b" cx="43.77" cy="241.40"/>
<circle class="b" cx="37.98" cy="239.70"/>
<circle class="b" cx="39.43" cy="239.70"/>
<circle class="b" cx="40.88" cy="239.70"/>
<circle class="b" cx="42.33" cy="239.70"/>
<circle class="b" cx="43.77" cy="239.70"/>
<circle class="b" cx="45.23" cy="239.70"/>
<circle class="b" cx="36.52" cy="238.00"/>
<circle class="b" cx="37.98" cy="238.00"/>
<circle class="b" cx="39.43" cy="238.00"/>
<circle class="b" cx="40.88" cy="238.00"/>
<circle class="b" cx="42.33" cy="238.00"/>
<circle class="b" cx="43.77" cy="238.00"/>
<circle class="b" cx="45.23" cy="238.00"/>
<circle class="b" cx="46.68" cy="238.00"/>
<circle class="b" cx="36.52" cy="236.30"/>
<circle class="b" cx="37.98" cy="236.30"/>
<circle class="b" cx="39.43" cy="236.30"/>
<circle class="b" cx="40.88" cy="236.30"/>
<circle class="b" cx="42.33" cy="236.30"/>
<circle class="b" cx="43.77" cy="236.30"/>
<circle class="b" cx="45.23" cy="236.30"/>
<circle class="b" cx="46.68" cy="236.30"/>
<circle class="b" cx="38.70" cy="234.60"/>
<circle class="b" cx="40.15" cy="234.60"/>
<circle class="b" cx="41.60" cy="234.60"/>
<circle class="b" cx="43.05" cy="234.60"/>
<circle class="b" cx="44.50" cy="234.60"/>
<circle class="b" cx="38.70" cy="232.90"/>
<circle class="b" cx="40.15" cy="232.90"/>
<circle class="b" cx="41.60" cy="232.90"/>
<circle class="b" cx="43.05" cy="232.90"/>
<circle class="b" cx="44.50" cy="232.90"/>
<circle class="b" cx="39.43" cy="231.20"/>
<circle class="b" cx="40.88" cy="231.20"/>
<circle class="b" cx="42.33" cy="231.20"/>
<circle class="b" cx="43.77" cy="231.20"/>
<circle class="b" cx="40.15" cy="229.50"/>
<circle class="b" cx="41.60" cy="229.50"/>
<circle class="b" cx="43.05" cy="229.50"/>
<circle class="b" cx="40.88" cy="227.80"/>
<circle class="b" cx="42.33" cy="227.80"/>
<circle class="b" cx="40.88" cy="226.10"/>
<circle class="b" cx="42.33" cy="226.10"/>
<circle class="b" cx="41.60" cy="224.40"/>
<circle class="b" cx="40.88" cy="221.00"/>
<circle class="b" cx="42.33" cy="221.00"/>
<circle class="b" cx="41.60" cy="219.30"/>
<circle class="b" cx="41.60" cy="217.60"/>
<circle class="b" cx="41.60" cy="215.90"/>
<circle class="b" cx="41.60" cy="214.20"/>
<circle class="b" cx="41.60" cy="212.50"/>
<circle class="b" cx="41.60" cy="210.80"/>
<circle class="b" cx="40.88" cy="246.50"/>
<circle class="b" cx="42.33" cy="246.50"/>
<circle class="b" cx="40.15" cy="248.20"/>
<circle class="b" cx="41.60" cy="248.20"/>
<circle class="b" cx="43.05" cy="248.20"/>
<circle class="b" cx="41.60" cy="249.90"/>
<line x1="33.3" x2="49.9" y1="236.50" y2="236.50" class="M"/>
<line x1="41.6" x2="41.6" y1="255.0" y2="256.3" class="A"/>
<text x="41.6" y="262.3" class="X" fill="#4a78b0" stroke="#4a78b0">≤ 70</text>
<text x="41.6" y="267.2" class="X" fill="#4a78b0" stroke="#4a78b0">(n = 66)</text>
<circle class="g" cx="61.03" cy="246.50"/>
<circle class="g" cx="62.48" cy="246.50"/>
<circle class="g" cx="63.93" cy="246.50"/>
<circle class="g" cx="65.38" cy="246.50"/>
<circle class="g" cx="61.75" cy="244.80"/>
<circle class="g" cx="63.20" cy="244.80"/>
<circle class="g" cx="64.65" cy="244.80"/>
<circle class="g" cx="62.48" cy="243.10"/>
<circle class="g" cx="63.93" cy="243.10"/>
<circle class="g" cx="60.30" cy="241.40"/>
<circle class="g" cx="61.75" cy="241.40"/>
<circle class="g" cx="63.20" cy="241.40"/>
<circle class="g" cx="64.65" cy="241.40"/>
<circle class="g" cx="66.10" cy="241.40"/>
<circle class="g" cx="58.12" cy="239.70"/>
<circle class="g" cx="59.58" cy="239.70"/>
<circle class="g" cx="61.03" cy="239.70"/>
<circle class="g" cx="62.48" cy="239.70"/>
<circle class="g" cx="63.93" cy="239.70"/>
<circle class="g" cx="65.38" cy="239.70"/>
<circle class="g" cx="66.83" cy="239.70"/>
<circle class="g" cx="68.28" cy="239.70"/>
<circle class="g" cx="56.68" cy="238.00"/>
<circle class="g" cx="58.12" cy="238.00"/>
<circle class="g" cx="59.58" cy="238.00"/>
<circle class="g" cx="61.03" cy="238.00"/>
<circle class="g" cx="62.48" cy="238.00"/>
<circle class="g" cx="63.93" cy="238.00"/>
<circle class="g" cx="65.38" cy="238.00"/>
<circle class="g" cx="66.83" cy="238.00"/>
<circle class="g" cx="68.28" cy="238.00"/>
<circle class="g" cx="69.73" cy="238.00"/>
<circle class="g" cx="57.40" cy="236.30"/>
<circle class="g" cx="58.85" cy="236.30"/>
<circle class="g" cx="60.30" cy="236.30"/>
<circle class="g" cx="61.75" cy="236.30"/>
<circle class="g" cx="63.20" cy="236.30"/>
<circle class="g" cx="64.65" cy="236.30"/>
<circle class="g" cx="66.10" cy="236.30"/>
<circle class="g" cx="67.55" cy="236.30"/>
<circle class="g" cx="69.00" cy="236.30"/>
<circle class="g" cx="58.85" cy="234.60"/>
<circle class="g" cx="60.30" cy="234.60"/>
<circle class="g" cx="61.75" cy="234.60"/>
<circle class="g" cx="63.20" cy="234.60"/>
<circle class="g" cx="64.65" cy="234.60"/>
<circle class="g" cx="66.10" cy="234.60"/>
<circle class="g" cx="67.55" cy="234.60"/>
<circle class="g" cx="59.58" cy="232.90"/>
<circle class="g" cx="61.03" cy="232.90"/>
<circle class="g" cx="62.48" cy="232.90"/>
<circle class="g" cx="63.93" cy="232.90"/>
<circle class="g" cx="65.38" cy="232.90"/>
<circle class="g" cx="66.83" cy="232.90"/>
<circle class="g" cx="60.30" cy="231.20"/>
<circle class="g" cx="61.75" cy="231.20"/>
<circle class="g" cx="63.20" cy="231.20"/>
<circle class="g" cx="64.65" cy="231.20"/>
<circle class="g" cx="66.10" cy="231.20"/>
<circle class="g" cx="61.75" cy="229.50"/>
<circle class="g" cx="63.20" cy="229.50"/>
<circle class="g" cx="64.65" cy="229.50"/>
<circle class="g" cx="63.20" cy="227.80"/>
<circle class="g" cx="63.20" cy="226.10"/>
<circle class="g" cx="62.48" cy="224.40"/>
<circle class="g" cx="63.93" cy="224.40"/>
<circle class="g" cx="63.20" cy="222.70"/>
<circle class="g" cx="63.20" cy="221.00"/>
<circle class="g" cx="63.20" cy="219.30"/>
<circle class="g" cx="63.20" cy="217.60"/>
<circle class="g" cx="63.20" cy="215.90"/>
<circle class="g" cx="62.48" cy="214.20"/>
<circle class="g" cx="63.93" cy="214.20"/>
<circle class="g" cx="61.03" cy="248.20"/>
<circle class="g" cx="62.48" cy="248.20"/>
<circle class="g" cx="63.93" cy="248.20"/>
<circle class="g" cx="65.38" cy="248.20"/>
<line x1="54.9" x2="71.5" y1="236.50" y2="236.50" class="M"/>
<line x1="63.2" x2="63.2" y1="255.0" y2="256.3" class="A"/>
<text x="63.2" y="262.3" class="X" fill="#7cba6c" stroke="#7cba6c">> 70</text>
<text x="63.2" y="267.2" class="X" fill="#7cba6c" stroke="#7cba6c">(n = 77)</text>
<line x1="30.7" x2="30.7" y1="206.3" y2="255.0" class="A"/>
<line x1="30.4" x2="71.7" y1="255.0" y2="255.0" class="A"/>
<line x1="28.9" x2="30.7" y1="255.00" y2="255.00" class="A"/>
<text transform="translate(27.10,256.45) scale(0.97,1)" class="K">0.1</text>
<line x1="28.9" x2="30.7" y1="243.40" y2="243.40" class="A"/>
<text transform="translate(27.10,244.85) scale(0.97,1)" class="K">1</text>
<line x1="28.9" x2="30.7" y1="231.80" y2="231.80" class="A"/>
<text transform="translate(27.10,233.25) scale(0.97,1)" class="K">10</text>
<line x1="28.9" x2="30.7" y1="220.20" y2="220.20" class="A"/>
<text transform="translate(27.10,221.65) scale(0.97,1)" class="K">100</text>
<line x1="28.9" x2="30.7" y1="208.60" y2="208.60" class="A"/>
<text transform="translate(27.10,210.05) scale(0.97,1)" class="K">1000</text>
<text transform="translate(80.6,201.10000000000002) scale(1.0,1)" class="L">F</text>
<text transform="translate(123.9,202.9) scale(0.9,1)" class="T">Sex</text>
<text x="124.4" y="208.8" class="P"><tspan font-style="italic">P</tspan> = .903</text>
<text transform="translate(86.3,231.0) rotate(-90) scale(0.75,1)" class="Y">CD8/MR</text>
<circle class="b" cx="112.33" cy="246.50"/>
<circle class="b" cx="113.78" cy="246.50"/>
<circle class="b" cx="115.22" cy="246.50"/>
<circle class="b" cx="116.67" cy="246.50"/>
<circle class="b" cx="113.05" cy="244.80"/>
<circle class="b" cx="114.50" cy="244.80"/>
<circle class="b" cx="115.95" cy="244.80"/>
<circle class="b" cx="112.33" cy="243.10"/>
<circle class="b" cx="113.78" cy="243.10"/>
<circle class="b" cx="115.22" cy="243.10"/>
<circle class="b" cx="116.67" cy="243.10"/>
<circle class="b" cx="110.15" cy="241.40"/>
<circle class="b" cx="111.60" cy="241.40"/>
<circle class="b" cx="113.05" cy="241.40"/>
<circle class="b" cx="114.50" cy="241.40"/>
<circle class="b" cx="115.95" cy="241.40"/>
<circle class="b" cx="117.40" cy="241.40"/>
<circle class="b" cx="118.85" cy="241.40"/>
<circle class="b" cx="107.25" cy="239.70"/>
<circle class="b" cx="108.70" cy="239.70"/>
<circle class="b" cx="110.15" cy="239.70"/>
<circle class="b" cx="111.60" cy="239.70"/>
<circle class="b" cx="113.05" cy="239.70"/>
<circle class="b" cx="114.50" cy="239.70"/>
<circle class="b" cx="115.95" cy="239.70"/>
<circle class="b" cx="117.40" cy="239.70"/>
<circle class="b" cx="118.85" cy="239.70"/>
<circle class="b" cx="120.30" cy="239.70"/>
<circle class="b" cx="121.75" cy="239.70"/>
<circle class="b" cx="106.25" cy="238.00"/>
<circle class="b" cx="107.62" cy="238.00"/>
<circle class="b" cx="109.00" cy="238.00"/>
<circle class="b" cx="110.38" cy="238.00"/>
<circle class="b" cx="111.75" cy="238.00"/>
<circle class="b" cx="113.12" cy="238.00"/>
<circle class="b" cx="114.50" cy="238.00"/>
<circle class="b" cx="115.88" cy="238.00"/>
<circle class="b" cx="117.25" cy="238.00"/>
<circle class="b" cx="118.62" cy="238.00"/>
<circle class="b" cx="120.00" cy="238.00"/>
<circle class="b" cx="121.38" cy="238.00"/>
<circle class="b" cx="122.75" cy="238.00"/>
<circle class="b" cx="107.25" cy="236.30"/>
<circle class="b" cx="108.70" cy="236.30"/>
<circle class="b" cx="110.15" cy="236.30"/>
<circle class="b" cx="111.60" cy="236.30"/>
<circle class="b" cx="113.05" cy="236.30"/>
<circle class="b" cx="114.50" cy="236.30"/>
<circle class="b" cx="115.95" cy="236.30"/>
<circle class="b" cx="117.40" cy="236.30"/>
<circle class="b" cx="118.85" cy="236.30"/>
<circle class="b" cx="120.30" cy="236.30"/>
<circle class="b" cx="121.75" cy="236.30"/>
<circle class="b" cx="108.70" cy="234.60"/>
<circle class="b" cx="110.15" cy="234.60"/>
<circle class="b" cx="111.60" cy="234.60"/>
<circle class="b" cx="113.05" cy="234.60"/>
<circle class="b" cx="114.50" cy="234.60"/>
<circle class="b" cx="115.95" cy="234.60"/>
<circle class="b" cx="117.40" cy="234.60"/>
<circle class="b" cx="118.85" cy="234.60"/>
<circle class="b" cx="120.30" cy="234.60"/>
<circle class="b" cx="110.15" cy="232.90"/>
<circle class="b" cx="111.60" cy="232.90"/>
<circle class="b" cx="113.05" cy="232.90"/>
<circle class="b" cx="114.50" cy="232.90"/>
<circle class="b" cx="115.95" cy="232.90"/>
<circle class="b" cx="117.40" cy="232.90"/>
<circle class="b" cx="118.85" cy="232.90"/>
<circle class="b" cx="112.33" cy="231.20"/>
<circle class="b" cx="113.78" cy="231.20"/>
<circle class="b" cx="115.22" cy="231.20"/>
<circle class="b" cx="116.67" cy="231.20"/>
<circle class="b" cx="113.05" cy="229.50"/>
<circle class="b" cx="114.50" cy="229.50"/>
<circle class="b" cx="115.95" cy="229.50"/>
<circle class="b" cx="113.78" cy="227.80"/>
<circle class="b" cx="115.22" cy="227.80"/>
<circle class="b" cx="113.78" cy="226.10"/>
<circle class="b" cx="115.22" cy="226.10"/>
<circle class="b" cx="114.50" cy="224.40"/>
<circle class="b" cx="114.50" cy="222.70"/>
<circle class="b" cx="114.50" cy="221.00"/>
<circle class="b" cx="114.50" cy="219.30"/>
<circle class="b" cx="114.50" cy="217.60"/>
<circle class="b" cx="113.78" cy="215.90"/>
<circle class="b" cx="115.22" cy="215.90"/>
<circle class="b" cx="114.50" cy="214.20"/>
<circle class="b" cx="114.50" cy="212.50"/>
<circle class="b" cx="114.50" cy="210.80"/>
<circle class="b" cx="112.33" cy="248.20"/>
<circle class="b" cx="113.78" cy="248.20"/>
<circle class="b" cx="115.22" cy="248.20"/>
<circle class="b" cx="116.67" cy="248.20"/>
<circle class="b" cx="113.78" cy="249.90"/>
<circle class="b" cx="115.22" cy="249.90"/>
<line x1="106.2" x2="122.8" y1="237.50" y2="237.50" class="M"/>
<line x1="114.5" x2="114.5" y1="255.0" y2="256.3" class="A"/>
<text x="114.5" y="262.3" class="X" fill="#4a78b0" stroke="#4a78b0">Male</text>
<text x="114.5" y="267.2" class="X" fill="#4a78b0" stroke="#4a78b0">(n = 96)</text>
<circle class="g" cx="135.38" cy="244.80"/>
<circle class="g" cx="136.82" cy="244.80"/>
<circle class="g" cx="136.10" cy="243.10"/>
<circle class="g" cx="133.92" cy="241.40"/>
<circle class="g" cx="135.38" cy="241.40"/>
<circle class="g" cx="136.82" cy="241.40"/>
<circle class="g" cx="138.28" cy="241.40"/>
<circle class="g" cx="133.20" cy="239.70"/>
<circle class="g" cx="134.65" cy="239.70"/>
<circle class="g" cx="136.10" cy="239.70"/>
<circle class="g" cx="137.55" cy="239.70"/>
<circle class="g" cx="139.00" cy="239.70"/>
<circle class="g" cx="132.47" cy="238.00"/>
<circle class="g" cx="133.92" cy="238.00"/>
<circle class="g" cx="135.38" cy="238.00"/>
<circle class="g" cx="136.82" cy="238.00"/>
<circle class="g" cx="138.28" cy="238.00"/>
<circle class="g" cx="139.72" cy="238.00"/>
<circle class="g" cx="134.65" cy="236.30"/>
<circle class="g" cx="136.10" cy="236.30"/>
<circle class="g" cx="137.55" cy="236.30"/>
<circle class="g" cx="133.92" cy="234.60"/>
<circle class="g" cx="135.38" cy="234.60"/>
<circle class="g" cx="136.82" cy="234.60"/>
<circle class="g" cx="138.28" cy="234.60"/>
<circle class="g" cx="134.65" cy="232.90"/>
<circle class="g" cx="136.10" cy="232.90"/>
<circle class="g" cx="137.55" cy="232.90"/>
<circle class="g" cx="135.38" cy="231.20"/>
<circle class="g" cx="136.82" cy="231.20"/>
<circle class="g" cx="135.38" cy="229.50"/>
<circle class="g" cx="136.82" cy="229.50"/>
<circle class="g" cx="136.10" cy="227.80"/>
<circle class="g" cx="135.38" cy="224.40"/>
<circle class="g" cx="136.82" cy="224.40"/>
<circle class="g" cx="136.10" cy="222.70"/>
<circle class="g" cx="136.10" cy="219.30"/>
<circle class="g" cx="136.10" cy="217.60"/>
<circle class="g" cx="136.10" cy="215.90"/>
<circle class="g" cx="136.10" cy="246.50"/>
<circle class="g" cx="135.38" cy="248.20"/>
<circle class="g" cx="136.82" cy="248.20"/>
<circle class="g" cx="136.10" cy="249.90"/>
<line x1="127.8" x2="144.4" y1="237.50" y2="237.50" class="M"/>
<line x1="136.1" x2="136.1" y1="255.0" y2="256.3" class="A"/>
<text x="136.1" y="262.3" class="X" fill="#7cba6c" stroke="#7cba6c">Female</text>
<text x="136.1" y="267.2" class="X" fill="#7cba6c" stroke="#7cba6c">(n = 43)</text>
<line x1="103.6" x2="103.6" y1="206.3" y2="255.0" class="A"/>
<line x1="103.3" x2="144.6" y1="255.0" y2="255.0" class="A"/>
<line x1="101.8" x2="103.6" y1="255.00" y2="255.00" class="A"/>
<text transform="translate(100.00,256.45) scale(0.97,1)" class="K">0.1</text>
<line x1="101.8" x2="103.6" y1="243.40" y2="243.40" class="A"/>
<text transform="translate(100.00,244.85) scale(0.97,1)" class="K">1</text>
<line x1="101.8" x2="103.6" y1="231.80" y2="231.80" class="A"/>
<text transform="translate(100.00,233.25) scale(0.97,1)" class="K">10</text>
<line x1="101.8" x2="103.6" y1="220.20" y2="220.20" class="A"/>
<text transform="translate(100.00,221.65) scale(0.97,1)" class="K">100</text>
<line x1="101.8" x2="103.6" y1="208.60" y2="208.60" class="A"/>
<text transform="translate(100.00,210.05) scale(0.97,1)" class="K">1000</text>
<text transform="translate(153.6,201.10000000000002) scale(1.0,1)" class="L">I</text>
<text transform="translate(197.0,202.9) scale(0.9,1)" class="T">IPI risk</text>
<text x="197.5" y="208.8" class="P"><tspan font-style="italic">P</tspan> = .061</text>
<text transform="translate(159.4,231.0) rotate(-90) scale(0.75,1)" class="Y">CD8/MR</text>
<circle class="b" cx="184.70" cy="246.50"/>
<circle class="b" cx="186.15" cy="246.50"/>
<circle class="b" cx="187.60" cy="246.50"/>
<circle class="b" cx="189.05" cy="246.50"/>
<circle class="b" cx="190.50" cy="246.50"/>
<circle class="b" cx="185.42" cy="244.80"/>
<circle class="b" cx="186.88" cy="244.80"/>
<circle class="b" cx="188.32" cy="244.80"/>
<circle class="b" cx="189.78" cy="244.80"/>
<circle class="b" cx="186.15" cy="243.10"/>
<circle class="b" cx="187.60" cy="243.10"/>
<circle class="b" cx="189.05" cy="243.10"/>
<circle class="b" cx="184.70" cy="241.40"/>
<circle class="b" cx="186.15" cy="241.40"/>
<circle class="b" cx="187.60" cy="241.40"/>
<circle class="b" cx="189.05" cy="241.40"/>
<circle class="b" cx="190.50" cy="241.40"/>
<circle class="b" cx="182.53" cy="239.70"/>
<circle class="b" cx="183.97" cy="239.70"/>
<circle class="b" cx="185.42" cy="239.70"/>
<circle class="b" cx="186.88" cy="239.70"/>
<circle class="b" cx="188.32" cy="239.70"/>
<circle class="b" cx="189.78" cy="239.70"/>
<circle class="b" cx="191.22" cy="239.70"/>
<circle class="b" cx="192.67" cy="239.70"/>
<circle class="b" cx="179.62" cy="238.00"/>
<circle class="b" cx="181.07" cy="238.00"/>
<circle class="b" cx="182.53" cy="238.00"/>
<circle class="b" cx="183.97" cy="238.00"/>
<circle class="b" cx="185.42" cy="238.00"/>
<circle class="b" cx="186.88" cy="238.00"/>
<circle class="b" cx="188.32" cy="238.00"/>
<circle class="b" cx="189.78" cy="238.00"/>
<circle class="b" cx="191.22" cy="238.00"/>
<circle class="b" cx="192.67" cy="238.00"/>
<circle class="b" cx="194.12" cy="238.00"/>
<circle class="b" cx="195.57" cy="238.00"/>
<circle class="b" cx="180.35" cy="236.30"/>
<circle class="b" cx="181.80" cy="236.30"/>
<circle class="b" cx="183.25" cy="236.30"/>
<circle class="b" cx="184.70" cy="236.30"/>
<circle class="b" cx="186.15" cy="236.30"/>
<circle class="b" cx="187.60" cy="236.30"/>
<circle class="b" cx="189.05" cy="236.30"/>
<circle class="b" cx="190.50" cy="236.30"/>
<circle class="b" cx="191.95" cy="236.30"/>
<circle class="b" cx="193.40" cy="236.30"/>
<circle class="b" cx="194.85" cy="236.30"/>
<circle class="b" cx="182.53" cy="234.60"/>
<circle class="b" cx="183.97" cy="234.60"/>
<circle class="b" cx="185.42" cy="234.60"/>
<circle class="b" cx="186.88" cy="234.60"/>
<circle class="b" cx="188.32" cy="234.60"/>
<circle class="b" cx="189.78" cy="234.60"/>
<circle class="b" cx="191.22" cy="234.60"/>
<circle class="b" cx="192.67" cy="234.60"/>
<circle class="b" cx="182.53" cy="232.90"/>
<circle class="b" cx="183.97" cy="232.90"/>
<circle class="b" cx="185.42" cy="232.90"/>
<circle class="b" cx="186.88" cy="232.90"/>
<circle class="b" cx="188.32" cy="232.90"/>
<circle class="b" cx="189.78" cy="232.90"/>
<circle class="b" cx="191.22" cy="232.90"/>
<circle class="b" cx="192.67" cy="232.90"/>
<circle class="b" cx="183.97" cy="231.20"/>
<circle class="b" cx="185.42" cy="231.20"/>
<circle class="b" cx="186.88" cy="231.20"/>
<circle class="b" cx="188.32" cy="231.20"/>
<circle class="b" cx="189.78" cy="231.20"/>
<circle class="b" cx="191.22" cy="231.20"/>
<circle class="b" cx="184.70" cy="229.50"/>
<circle class="b" cx="186.15" cy="229.50"/>
<circle class="b" cx="187.60" cy="229.50"/>
<circle class="b" cx="189.05" cy="229.50"/>
<circle class="b" cx="190.50" cy="229.50"/>
<circle class="b" cx="185.42" cy="227.80"/>
<circle class="b" cx="186.88" cy="227.80"/>
<circle class="b" cx="188.32" cy="227.80"/>
<circle class="b" cx="189.78" cy="227.80"/>
<circle class="b" cx="186.88" cy="226.10"/>
<circle class="b" cx="188.32" cy="226.10"/>
<circle class="b" cx="186.88" cy="224.40"/>
<circle class="b" cx="188.32" cy="224.40"/>
<circle class="b" cx="186.88" cy="222.70"/>
<circle class="b" cx="188.32" cy="222.70"/>
<circle class="b" cx="186.15" cy="219.30"/>
<circle class="b" cx="187.60" cy="219.30"/>
<circle class="b" cx="189.05" cy="219.30"/>
<circle class="b" cx="187.60" cy="221.00"/>
<circle class="b" cx="187.60" cy="217.60"/>
<circle class="b" cx="186.88" cy="215.90"/>
<circle class="b" cx="188.32" cy="215.90"/>
<circle class="b" cx="186.88" cy="214.20"/>
<circle class="b" cx="188.32" cy="214.20"/>
<circle class="b" cx="186.88" cy="212.50"/>
<circle class="b" cx="188.32" cy="212.50"/>
<circle class="b" cx="185.42" cy="248.20"/>
<circle class="b" cx="186.88" cy="248.20"/>
<circle class="b" cx="188.32" cy="248.20"/>
<circle class="b" cx="189.78" cy="248.20"/>
<line x1="179.3" x2="195.9" y1="235.50" y2="235.50" class="M"/>
<line x1="187.6" x2="187.6" y1="255.0" y2="256.3" class="A"/>
<text x="187.6" y="262.3" class="X" fill="#4a78b0" stroke="#4a78b0">Low or Int</text>
<text x="187.6" y="267.2" class="X" fill="#4a78b0" stroke="#4a78b0">(n = 100)</text>
<circle class="g" cx="208.47" cy="246.50"/>
<circle class="g" cx="209.92" cy="246.50"/>
<circle class="g" cx="209.20" cy="244.80"/>
<circle class="g" cx="207.02" cy="243.10"/>
<circle class="g" cx="208.47" cy="243.10"/>
<circle class="g" cx="209.92" cy="243.10"/>
<circle class="g" cx="211.38" cy="243.10"/>
<circle class="g" cx="205.57" cy="241.40"/>
<circle class="g" cx="207.02" cy="241.40"/>
<circle class="g" cx="208.47" cy="241.40"/>
<circle class="g" cx="209.92" cy="241.40"/>
<circle class="g" cx="211.38" cy="241.40"/>
<circle class="g" cx="212.82" cy="241.40"/>
<circle class="g" cx="206.30" cy="239.70"/>
<circle class="g" cx="207.75" cy="239.70"/>
<circle class="g" cx="209.20" cy="239.70"/>
<circle class="g" cx="210.65" cy="239.70"/>
<circle class="g" cx="212.10" cy="239.70"/>
<circle class="g" cx="207.02" cy="238.00"/>
<circle class="g" cx="208.47" cy="238.00"/>
<circle class="g" cx="209.92" cy="238.00"/>
<circle class="g" cx="211.38" cy="238.00"/>
<circle class="g" cx="207.75" cy="236.30"/>
<circle class="g" cx="209.20" cy="236.30"/>
<circle class="g" cx="210.65" cy="236.30"/>
<circle class="g" cx="208.47" cy="234.60"/>
<circle class="g" cx="209.92" cy="234.60"/>
<circle class="g" cx="208.47" cy="232.90"/>
<circle class="g" cx="209.92" cy="232.90"/>
<circle class="g" cx="209.20" cy="231.20"/>
<circle class="g" cx="209.20" cy="227.80"/>
<circle class="g" cx="209.20" cy="226.10"/>
<circle class="g" cx="209.20" cy="222.70"/>
<circle class="g" cx="209.20" cy="219.30"/>
<circle class="g" cx="209.20" cy="215.90"/>
<circle class="g" cx="208.47" cy="248.20"/>
<circle class="g" cx="209.92" cy="248.20"/>
<circle class="g" cx="209.20" cy="249.90"/>
<line x1="200.9" x2="217.5" y1="239.50" y2="239.50" class="M"/>
<line x1="209.2" x2="209.2" y1="255.0" y2="256.3" class="A"/>
<text x="209.2" y="262.3" class="X" fill="#7cba6c" stroke="#7cba6c">High</text>
<text x="209.2" y="267.2" class="X" fill="#7cba6c" stroke="#7cba6c">(n = 38)</text>
<line x1="176.7" x2="176.7" y1="206.3" y2="255.0" class="A"/>
<line x1="176.39999999999998" x2="217.7" y1="255.0" y2="255.0" class="A"/>
<line x1="174.89999999999998" x2="176.7" y1="255.00" y2="255.00" class="A"/>
<text transform="translate(173.10,256.45) scale(0.97,1)" class="K">0.1</text>
<line x1="174.89999999999998" x2="176.7" y1="243.40" y2="243.40" class="A"/>
<text transform="translate(173.10,244.85) scale(0.97,1)" class="K">1</text>
<line x1="174.89999999999998" x2="176.7" y1="231.80" y2="231.80" class="A"/>
<text transform="translate(173.10,233.25) scale(0.97,1)" class="K">10</text>
<line x1="174.89999999999998" x2="176.7" y1="220.20" y2="220.20" class="A"/>
<text transform="translate(173.10,221.65) scale(0.97,1)" class="K">100</text>
<line x1="174.89999999999998" x2="176.7" y1="208.60" y2="208.60" class="A"/>
<text transform="translate(173.10,210.05) scale(0.97,1)" class="K">1000</text>
<text transform="translate(228.4,201.10000000000002) scale(1.0,1)" class="L">L</text>
<text transform="translate(270.3,202.9) scale(0.9,1)" class="T">BM</text>
<text x="270.8" y="208.8" class="P"><tspan font-style="italic">P</tspan> = .174</text>
<text transform="translate(232.7,231.0) rotate(-90) scale(0.75,1)" class="Y">CD8/MR</text>
<circle class="b" cx="258.00" cy="246.50"/>
<circle class="b" cx="259.45" cy="246.50"/>
<circle class="b" cx="260.90" cy="246.50"/>
<circle class="b" cx="262.35" cy="246.50"/>
<circle class="b" cx="263.80" cy="246.50"/>
<circle class="b" cx="259.45" cy="244.80"/>
<circle class="b" cx="260.90" cy="244.80"/>
<circle class="b" cx="262.35" cy="244.80"/>
<circle class="b" cx="258.72" cy="243.10"/>
<circle class="b" cx="260.17" cy="243.10"/>
<circle class="b" cx="261.62" cy="243.10"/>
<circle class="b" cx="263.07" cy="243.10"/>
<circle class="b" cx="255.82" cy="241.40"/>
<circle class="b" cx="257.27" cy="241.40"/>
<circle class="b" cx="258.72" cy="241.40"/>
<circle class="b" cx="260.17" cy="241.40"/>
<circle class="b" cx="261.62" cy="241.40"/>
<circle class="b" cx="263.07" cy="241.40"/>
<circle class="b" cx="264.52" cy="241.40"/>
<circle class="b" cx="265.97" cy="241.40"/>
<circle class="b" cx="252.65" cy="239.70"/>
<circle class="b" cx="254.02" cy="239.70"/>
<circle class="b" cx="255.40" cy="239.70"/>
<circle class="b" cx="256.77" cy="239.70"/>
<circle class="b" cx="258.15" cy="239.70"/>
<circle class="b" cx="259.52" cy="239.70"/>
<circle class="b" cx="260.90" cy="239.70"/>
<circle class="b" cx="262.27" cy="239.70"/>
<circle class="b" cx="263.65" cy="239.70"/>
<circle class="b" cx="265.02" cy="239.70"/>
<circle class="b" cx="266.40" cy="239.70"/>
<circle class="b" cx="267.77" cy="239.70"/>
<circle class="b" cx="269.15" cy="239.70"/>
<circle class="b" cx="252.65" cy="238.00"/>
<circle class="b" cx="253.75" cy="238.00"/>
<circle class="b" cx="254.85" cy="238.00"/>
<circle class="b" cx="255.95" cy="238.00"/>
<circle class="b" cx="257.05" cy="238.00"/>
<circle class="b" cx="258.15" cy="238.00"/>
<circle class="b" cx="259.25" cy="238.00"/>
<circle class="b" cx="260.35" cy="238.00"/>
<circle class="b" cx="261.45" cy="238.00"/>
<circle class="b" cx="262.55" cy="238.00"/>
<circle class="b" cx="263.65" cy="238.00"/>
<circle class="b" cx="264.75" cy="238.00"/>
<circle class="b" cx="265.85" cy="238.00"/>
<circle class="b" cx="266.95" cy="238.00"/>
<circle class="b" cx="268.05" cy="238.00"/>
<circle class="b" cx="269.15" cy="238.00"/>
<circle class="b" cx="254.37" cy="236.30"/>
<circle class="b" cx="255.82" cy="236.30"/>
<circle class="b" cx="257.27" cy="236.30"/>
<circle class="b" cx="258.72" cy="236.30"/>
<circle class="b" cx="260.17" cy="236.30"/>
<circle class="b" cx="261.62" cy="236.30"/>
<circle class="b" cx="263.07" cy="236.30"/>
<circle class="b" cx="264.52" cy="236.30"/>
<circle class="b" cx="265.97" cy="236.30"/>
<circle class="b" cx="267.42" cy="236.30"/>
<circle class="b" cx="255.10" cy="234.60"/>
<circle class="b" cx="256.55" cy="234.60"/>
<circle class="b" cx="258.00" cy="234.60"/>
<circle class="b" cx="259.45" cy="234.60"/>
<circle class="b" cx="260.90" cy="234.60"/>
<circle class="b" cx="262.35" cy="234.60"/>
<circle class="b" cx="263.80" cy="234.60"/>
<circle class="b" cx="265.25" cy="234.60"/>
<circle class="b" cx="266.70" cy="234.60"/>
<circle class="b" cx="256.55" cy="232.90"/>
<circle class="b" cx="258.00" cy="232.90"/>
<circle class="b" cx="259.45" cy="232.90"/>
<circle class="b" cx="260.90" cy="232.90"/>
<circle class="b" cx="262.35" cy="232.90"/>
<circle class="b" cx="263.80" cy="232.90"/>
<circle class="b" cx="265.25" cy="232.90"/>
<circle class="b" cx="257.27" cy="231.20"/>
<circle class="b" cx="258.72" cy="231.20"/>
<circle class="b" cx="260.17" cy="231.20"/>
<circle class="b" cx="261.62" cy="231.20"/>
<circle class="b" cx="263.07" cy="231.20"/>
<circle class="b" cx="264.52" cy="231.20"/>
<circle class="b" cx="258.00" cy="229.50"/>
<circle class="b" cx="259.45" cy="229.50"/>
<circle class="b" cx="260.90" cy="229.50"/>
<circle class="b" cx="262.35" cy="229.50"/>
<circle class="b" cx="263.80" cy="229.50"/>
<circle class="b" cx="258.72" cy="227.80"/>
<circle class="b" cx="260.17" cy="227.80"/>
<circle class="b" cx="261.62" cy="227.80"/>
<circle class="b" cx="263.07" cy="227.80"/>
<circle class="b" cx="259.45" cy="226.10"/>
<circle class="b" cx="260.90" cy="226.10"/>
<circle class="b" cx="262.35" cy="226.10"/>
<circle class="b" cx="260.17" cy="224.40"/>
<circle class="b" cx="261.62" cy="224.40"/>
<circle class="b" cx="260.90" cy="222.70"/>
<circle class="b" cx="259.45" cy="221.00"/>
<circle class="b" cx="260.90" cy="221.00"/>
<circle class="b" cx="262.35" cy="221.00"/>
<circle class="b" cx="260.17" cy="219.30"/>
<circle class="b" cx="261.62" cy="219.30"/>
<circle class="b" cx="260.17" cy="217.60"/>
<circle class="b" cx="261.62" cy="217.60"/>
<circle class="b" cx="260.17" cy="215.90"/>
<circle class="b" cx="261.62" cy="215.90"/>
<circle class="b" cx="260.17" cy="214.20"/>
<circle class="b" cx="261.62" cy="214.20"/>
<circle class="b" cx="260.17" cy="212.50"/>
<circle class="b" cx="261.62" cy="212.50"/>
<circle class="b" cx="260.17" cy="210.80"/>
<circle class="b" cx="261.62" cy="210.80"/>
<circle class="b" cx="258.72" cy="248.20"/>
<circle class="b" cx="260.17" cy="248.20"/>
<circle class="b" cx="261.62" cy="248.20"/>
<circle class="b" cx="263.07" cy="248.20"/>
<circle class="b" cx="259.45" cy="249.90"/>
<circle class="b" cx="260.90" cy="249.90"/>
<circle class="b" cx="262.35" cy="249.90"/>
<line x1="252.6" x2="269.2" y1="236.50" y2="236.50" class="M"/>
<line x1="260.9" x2="260.9" y1="255.0" y2="256.3" class="A"/>
<text x="260.9" y="262.3" class="X" fill="#4a78b0" stroke="#4a78b0">Neg</text>
<text x="260.9" y="267.2" class="X" fill="#4a78b0" stroke="#4a78b0">(n = 118)</text>
<circle class="g" cx="281.77" cy="246.50"/>
<circle class="g" cx="283.23" cy="246.50"/>
<circle class="g" cx="282.50" cy="244.80"/>
<circle class="g" cx="281.77" cy="243.10"/>
<circle class="g" cx="283.23" cy="243.10"/>
<circle class="g" cx="280.32" cy="241.40"/>
<circle class="g" cx="281.77" cy="241.40"/>
<circle class="g" cx="283.23" cy="241.40"/>
<circle class="g" cx="284.68" cy="241.40"/>
<circle class="g" cx="278.88" cy="239.70"/>
<circle class="g" cx="280.32" cy="239.70"/>
<circle class="g" cx="281.77" cy="239.70"/>
<circle class="g" cx="283.23" cy="239.70"/>
<circle class="g" cx="284.68" cy="239.70"/>
<circle class="g" cx="286.12" cy="239.70"/>
<circle class="g" cx="279.60" cy="238.00"/>
<circle class="g" cx="281.05" cy="238.00"/>
<circle class="g" cx="282.50" cy="238.00"/>
<circle class="g" cx="283.95" cy="238.00"/>
<circle class="g" cx="285.40" cy="238.00"/>
<circle class="g" cx="280.32" cy="236.30"/>
<circle class="g" cx="281.77" cy="236.30"/>
<circle class="g" cx="283.23" cy="236.30"/>
<circle class="g" cx="284.68" cy="236.30"/>
<circle class="g" cx="281.05" cy="234.60"/>
<circle class="g" cx="282.50" cy="234.60"/>
<circle class="g" cx="283.95" cy="234.60"/>
<circle class="g" cx="281.77" cy="232.90"/>
<circle class="g" cx="283.23" cy="232.90"/>
<circle class="g" cx="281.77" cy="231.20"/>
<circle class="g" cx="283.23" cy="231.20"/>
<circle class="g" cx="282.50" cy="229.50"/>
<circle class="g" cx="282.50" cy="227.80"/>
<circle class="g" cx="282.50" cy="226.10"/>
<circle class="g" cx="282.50" cy="224.40"/>
<circle class="g" cx="282.50" cy="222.70"/>
<circle class="g" cx="282.50" cy="219.30"/>
<circle class="g" cx="282.50" cy="217.60"/>
<circle class="g" cx="282.50" cy="215.90"/>
<circle class="g" cx="281.77" cy="248.20"/>
<circle class="g" cx="283.23" cy="248.20"/>
<circle class="g" cx="281.77" cy="249.90"/>
<circle class="g" cx="283.23" cy="249.90"/>
<line x1="274.2" x2="290.8" y1="238.50" y2="238.50" class="M"/>
<line x1="282.5" x2="282.5" y1="255.0" y2="256.3" class="A"/>
<text x="282.5" y="262.3" class="X" fill="#7cba6c" stroke="#7cba6c">Pos</text>
<text x="282.5" y="267.2" class="X" fill="#7cba6c" stroke="#7cba6c">(n = 43)</text>
<line x1="250.0" x2="250.0" y1="206.3" y2="255.0" class="A"/>
<line x1="249.7" x2="291.0" y1="255.0" y2="255.0" class="A"/>
<line x1="248.2" x2="250.0" y1="255.00" y2="255.00" class="A"/>
<text transform="translate(246.40,256.45) scale(0.97,1)" class="K">0.1</text>
<line x1="248.2" x2="250.0" y1="243.40" y2="243.40" class="A"/>
<text transform="translate(246.40,244.85) scale(0.97,1)" class="K">1</text>
<line x1="248.2" x2="250.0" y1="231.80" y2="231.80" class="A"/>
<text transform="translate(246.40,233.25) scale(0.97,1)" class="K">10</text>
<line x1="248.2" x2="250.0" y1="220.20" y2="220.20" class="A"/>
<text transform="translate(246.40,221.65) scale(0.97,1)" class="K">100</text>
<line x1="248.2" x2="250.0" y1="208.60" y2="208.60" class="A"/>
<text transform="translate(246.40,210.05) scale(0.97,1)" class="K">1000</text>
<text transform="translate(300.3,201.10000000000002) scale(1.0,1)" class="L">O</text>
<text transform="translate(344.9,202.9) scale(0.9,1)" class="T">COO</text>
<text x="345.4" y="208.8" class="P"><tspan font-style="italic">P</tspan> = .149</text>
<text transform="translate(307.3,231.0) rotate(-90) scale(0.75,1)" class="Y">CD8/MR</text>
<circle class="b" cx="334.77" cy="244.80"/>
<circle class="b" cx="336.23" cy="244.80"/>
<circle class="b" cx="335.50" cy="243.10"/>
<circle class="b" cx="334.77" cy="241.40"/>
<circle class="b" cx="336.23" cy="241.40"/>
<circle class="b" cx="333.32" cy="239.70"/>
<circle class="b" cx="334.77" cy="239.70"/>
<circle class="b" cx="336.23" cy="239.70"/>
<circle class="b" cx="337.68" cy="239.70"/>
<circle class="b" cx="332.60" cy="238.00"/>
<circle class="b" cx="334.05" cy="238.00"/>
<circle class="b" cx="335.50" cy="238.00"/>
<circle class="b" cx="336.95" cy="238.00"/>
<circle class="b" cx="338.40" cy="238.00"/>
<circle class="b" cx="332.60" cy="236.30"/>
<circle class="b" cx="334.05" cy="236.30"/>
<circle class="b" cx="335.50" cy="236.30"/>
<circle class="b" cx="336.95" cy="236.30"/>
<circle class="b" cx="338.40" cy="236.30"/>
<circle class="b" cx="331.88" cy="234.60"/>
<circle class="b" cx="333.32" cy="234.60"/>
<circle class="b" cx="334.77" cy="234.60"/>
<circle class="b" cx="336.23" cy="234.60"/>
<circle class="b" cx="337.68" cy="234.60"/>
<circle class="b" cx="339.12" cy="234.60"/>
<circle class="b" cx="333.32" cy="232.90"/>
<circle class="b" cx="334.77" cy="232.90"/>
<circle class="b" cx="336.23" cy="232.90"/>
<circle class="b" cx="337.68" cy="232.90"/>
<circle class="b" cx="334.05" cy="231.20"/>
<circle class="b" cx="335.50" cy="231.20"/>
<circle class="b" cx="336.95" cy="231.20"/>
<circle class="b" cx="334.77" cy="229.50"/>
<circle class="b" cx="336.23" cy="229.50"/>
<circle class="b" cx="334.77" cy="226.10"/>
<circle class="b" cx="336.23" cy="226.10"/>
<circle class="b" cx="335.50" cy="222.70"/>
<circle class="b" cx="335.50" cy="219.30"/>
<circle class="b" cx="335.50" cy="217.60"/>
<circle class="b" cx="335.50" cy="214.20"/>
<circle class="b" cx="335.50" cy="246.50"/>
<circle class="b" cx="334.77" cy="248.20"/>
<circle class="b" cx="336.23" cy="248.20"/>
<circle class="b" cx="335.50" cy="249.90"/>
<line x1="327.2" x2="343.8" y1="235.50" y2="235.50" class="M"/>
<line x1="335.5" x2="335.5" y1="255.0" y2="256.3" class="A"/>
<text x="335.5" y="262.3" class="X" fill="#4a78b0" stroke="#4a78b0">GCB</text>
<text x="335.5" y="267.2" class="X" fill="#4a78b0" stroke="#4a78b0">(n = 44)</text>
<circle class="g" cx="352.75" cy="246.50"/>
<circle class="g" cx="354.20" cy="246.50"/>
<circle class="g" cx="355.65" cy="246.50"/>
<circle class="g" cx="357.10" cy="246.50"/>
<circle class="g" cx="358.55" cy="246.50"/>
<circle class="g" cx="360.00" cy="246.50"/>
<circle class="g" cx="361.45" cy="246.50"/>
<circle class="g" cx="354.93" cy="244.80"/>
<circle class="g" cx="356.38" cy="244.80"/>
<circle class="g" cx="357.83" cy="244.80"/>
<circle class="g" cx="359.28" cy="244.80"/>
<circle class="g" cx="353.48" cy="243.10"/>
<circle class="g" cx="354.93" cy="243.10"/>
<circle class="g" cx="356.38" cy="243.10"/>
<circle class="g" cx="357.83" cy="243.10"/>
<circle class="g" cx="359.28" cy="243.10"/>
<circle class="g" cx="360.73" cy="243.10"/>
<circle class="g" cx="350.58" cy="241.40"/>
<circle class="g" cx="352.03" cy="241.40"/>
<circle class="g" cx="353.48" cy="241.40"/>
<circle class="g" cx="354.93" cy="241.40"/>
<circle class="g" cx="356.38" cy="241.40"/>
<circle class="g" cx="357.83" cy="241.40"/>
<circle class="g" cx="359.28" cy="241.40"/>
<circle class="g" cx="360.73" cy="241.40"/>
<circle class="g" cx="362.18" cy="241.40"/>
<circle class="g" cx="363.62" cy="241.40"/>
<circle class="g" cx="348.85" cy="239.70"/>
<circle class="g" cx="350.03" cy="239.70"/>
<circle class="g" cx="351.21" cy="239.70"/>
<circle class="g" cx="352.39" cy="239.70"/>
<circle class="g" cx="353.56" cy="239.70"/>
<circle class="g" cx="354.74" cy="239.70"/>
<circle class="g" cx="355.92" cy="239.70"/>
<circle class="g" cx="357.10" cy="239.70"/>
<circle class="g" cx="358.28" cy="239.70"/>
<circle class="g" cx="359.46" cy="239.70"/>
<circle class="g" cx="360.64" cy="239.70"/>
<circle class="g" cx="361.81" cy="239.70"/>
<circle class="g" cx="362.99" cy="239.70"/>
<circle class="g" cx="364.17" cy="239.70"/>
<circle class="g" cx="365.35" cy="239.70"/>
<circle class="g" cx="348.85" cy="238.00"/>
<circle class="g" cx="350.12" cy="238.00"/>
<circle class="g" cx="351.39" cy="238.00"/>
<circle class="g" cx="352.66" cy="238.00"/>
<circle class="g" cx="353.93" cy="238.00"/>
<circle class="g" cx="355.20" cy="238.00"/>
<circle class="g" cx="356.47" cy="238.00"/>
<circle class="g" cx="357.73" cy="238.00"/>
<circle class="g" cx="359.00" cy="238.00"/>
<circle class="g" cx="360.27" cy="238.00"/>
<circle class="g" cx="361.54" cy="238.00"/>
<circle class="g" cx="362.81" cy="238.00"/>
<circle class="g" cx="364.08" cy="238.00"/>
<circle class="g" cx="365.35" cy="238.00"/>
<circle class="g" cx="351.30" cy="236.30"/>
<circle class="g" cx="352.75" cy="236.30"/>
<circle class="g" cx="354.20" cy="236.30"/>
<circle class="g" cx="355.65" cy="236.30"/>
<circle class="g" cx="357.10" cy="236.30"/>
<circle class="g" cx="358.55" cy="236.30"/>
<circle class="g" cx="360.00" cy="236.30"/>
<circle class="g" cx="361.45" cy="236.30"/>
<circle class="g" cx="362.90" cy="236.30"/>
<circle class="g" cx="352.03" cy="234.60"/>
<circle class="g" cx="353.48" cy="234.60"/>
<circle class="g" cx="354.93" cy="234.60"/>
<circle class="g" cx="356.38" cy="234.60"/>
<circle class="g" cx="357.83" cy="234.60"/>
<circle class="g" cx="359.28" cy="234.60"/>
<circle class="g" cx="360.73" cy="234.60"/>
<circle class="g" cx="362.18" cy="234.60"/>
<circle class="g" cx="353.48" cy="232.90"/>
<circle class="g" cx="354.93" cy="232.90"/>
<circle class="g" cx="356.38" cy="232.90"/>
<circle class="g" cx="357.83" cy="232.90"/>
<circle class="g" cx="359.28" cy="232.90"/>
<circle class="g" cx="360.73" cy="232.90"/>
<circle class="g" cx="353.48" cy="231.20"/>
<circle class="g" cx="354.93" cy="231.20"/>
<circle class="g" cx="356.38" cy="231.20"/>
<circle class="g" cx="357.83" cy="231.20"/>
<circle class="g" cx="359.28" cy="231.20"/>
<circle class="g" cx="360.73" cy="231.20"/>
<circle class="g" cx="354.20" cy="229.50"/>
<circle class="g" cx="355.65" cy="229.50"/>
<circle class="g" cx="357.10" cy="229.50"/>
<circle class="g" cx="358.55" cy="229.50"/>
<circle class="g" cx="360.00" cy="229.50"/>
<circle class="g" cx="355.65" cy="227.80"/>
<circle class="g" cx="357.10" cy="227.80"/>
<circle class="g" cx="358.55" cy="227.80"/>
<circle class="g" cx="356.38" cy="226.10"/>
<circle class="g" cx="357.83" cy="226.10"/>
<circle class="g" cx="356.38" cy="224.40"/>
<circle class="g" cx="357.83" cy="224.40"/>
<circle class="g" cx="356.38" cy="222.70"/>
<circle class="g" cx="357.83" cy="222.70"/>
<circle class="g" cx="355.65" cy="219.30"/>
<circle class="g" cx="357.10" cy="219.30"/>
<circle class="g" cx="358.55" cy="219.30"/>
<circle class="g" cx="357.10" cy="221.00"/>
<circle class="g" cx="356.38" cy="217.60"/>
<circle class="g" cx="357.83" cy="217.60"/>
<circle class="g" cx="356.38" cy="215.90"/>
<circle class="g" cx="357.83" cy="215.90"/>
<circle class="g" cx="356.38" cy="214.20"/>
<circle class="g" cx="357.83" cy="214.20"/>
<circle class="g" cx="356.38" cy="212.50"/>
<circle class="g" cx="357.83" cy="212.50"/>
<circle class="g" cx="357.10" cy="210.80"/>
<circle class="g" cx="353.48" cy="248.20"/>
<circle class="g" cx="354.93" cy="248.20"/>
<circle class="g" cx="356.38" cy="248.20"/>
<circle class="g" cx="357.83" cy="248.20"/>
<circle class="g" cx="359.28" cy="248.20"/>
<circle class="g" cx="360.73" cy="248.20"/>
<line x1="348.8" x2="365.4" y1="237.50" y2="237.50" class="M"/>
<line x1="357.1" x2="357.1" y1="255.0" y2="256.3" class="A"/>
<text x="357.1" y="262.3" class="X" fill="#7cba6c" stroke="#7cba6c">Non-GCB</text>
<text x="357.1" y="267.2" class="X" fill="#7cba6c" stroke="#7cba6c">(n = 118)</text>
<line x1="324.6" x2="324.6" y1="206.3" y2="255.0" class="A"/>
<line x1="324.3" x2="365.6" y1="255.0" y2="255.0" class="A"/>
<line x1="322.8" x2="324.6" y1="255.00" y2="255.00" class="A"/>
<text transform="translate(321.00,256.45) scale(0.97,1)" class="K">0.1</text>
<line x1="322.8" x2="324.6" y1="243.40" y2="243.40" class="A"/>
<text transform="translate(321.00,244.85) scale(0.97,1)" class="K">1</text>
<line x1="322.8" x2="324.6" y1="231.80" y2="231.80" class="A"/>
<text transform="translate(321.00,233.25) scale(0.97,1)" class="K">10</text>
<line x1="322.8" x2="324.6" y1="220.20" y2="220.20" class="A"/>
<text transform="translate(321.00,221.65) scale(0.97,1)" class="K">100</text>
<line x1="322.8" x2="324.6" y1="208.60" y2="208.60" class="A"/>
<text transform="translate(321.00,210.05) scale(0.97,1)" class="K">1000</text>
<text transform="translate(375.8,201.10000000000002) scale(1.0,1)" class="L">R</text>
<text transform="translate(418.6,202.9) scale(0.9,1)" class="T">DEL</text>
<text x="419.1" y="208.8" class="P"><tspan font-style="italic">P</tspan> = .030</text>
<text transform="translate(381.0,231.0) rotate(-90) scale(0.75,1)" class="Y">CD8/MR</text>
<circle class="b" cx="407.02" cy="246.50"/>
<circle class="b" cx="408.47" cy="246.50"/>
<circle class="b" cx="409.93" cy="246.50"/>
<circle class="b" cx="411.38" cy="246.50"/>
<circle class="b" cx="408.47" cy="243.10"/>
<circle class="b" cx="409.93" cy="243.10"/>
<circle class="b" cx="407.02" cy="241.40"/>
<circle class="b" cx="408.47" cy="241.40"/>
<circle class="b" cx="409.93" cy="241.40"/>
<circle class="b" cx="411.38" cy="241.40"/>
<circle class="b" cx="405.57" cy="239.70"/>
<circle class="b" cx="407.02" cy="239.70"/>
<circle class="b" cx="408.47" cy="239.70"/>
<circle class="b" cx="409.93" cy="239.70"/>
<circle class="b" cx="411.38" cy="239.70"/>
<circle class="b" cx="412.82" cy="239.70"/>
<circle class="b" cx="404.12" cy="238.00"/>
<circle class="b" cx="405.57" cy="238.00"/>
<circle class="b" cx="407.02" cy="238.00"/>
<circle class="b" cx="408.47" cy="238.00"/>
<circle class="b" cx="409.93" cy="238.00"/>
<circle class="b" cx="411.38" cy="238.00"/>
<circle class="b" cx="412.82" cy="238.00"/>
<circle class="b" cx="414.27" cy="238.00"/>
<circle class="b" cx="401.95" cy="236.30"/>
<circle class="b" cx="403.40" cy="236.30"/>
<circle class="b" cx="404.85" cy="236.30"/>
<circle class="b" cx="406.30" cy="236.30"/>
<circle class="b" cx="407.75" cy="236.30"/>
<circle class="b" cx="409.20" cy="236.30"/>
<circle class="b" cx="410.65" cy="236.30"/>
<circle class="b" cx="412.10" cy="236.30"/>
<circle class="b" cx="413.55" cy="236.30"/>
<circle class="b" cx="415.00" cy="236.30"/>
<circle class="b" cx="416.45" cy="236.30"/>
<circle class="b" cx="403.40" cy="234.60"/>
<circle class="b" cx="404.85" cy="234.60"/>
<circle class="b" cx="406.30" cy="234.60"/>
<circle class="b" cx="407.75" cy="234.60"/>
<circle class="b" cx="409.20" cy="234.60"/>
<circle class="b" cx="410.65" cy="234.60"/>
<circle class="b" cx="412.10" cy="234.60"/>
<circle class="b" cx="413.55" cy="234.60"/>
<circle class="b" cx="415.00" cy="234.60"/>
<circle class="b" cx="404.85" cy="232.90"/>
<circle class="b" cx="406.30" cy="232.90"/>
<circle class="b" cx="407.75" cy="232.90"/>
<circle class="b" cx="409.20" cy="232.90"/>
<circle class="b" cx="410.65" cy="232.90"/>
<circle class="b" cx="412.10" cy="232.90"/>
<circle class="b" cx="413.55" cy="232.90"/>
<circle class="b" cx="404.85" cy="231.20"/>
<circle class="b" cx="406.30" cy="231.20"/>
<circle class="b" cx="407.75" cy="231.20"/>
<circle class="b" cx="409.20" cy="231.20"/>
<circle class="b" cx="410.65" cy="231.20"/>
<circle class="b" cx="412.10" cy="231.20"/>
<circle class="b" cx="413.55" cy="231.20"/>
<circle class="b" cx="405.57" cy="229.50"/>
<circle class="b" cx="407.02" cy="229.50"/>
<circle class="b" cx="408.47" cy="229.50"/>
<circle class="b" cx="409.93" cy="229.50"/>
<circle class="b" cx="411.38" cy="229.50"/>
<circle class="b" cx="412.82" cy="229.50"/>
<circle class="b" cx="407.02" cy="227.80"/>
<circle class="b" cx="408.47" cy="227.80"/>
<circle class="b" cx="409.93" cy="227.80"/>
<circle class="b" cx="411.38" cy="227.80"/>
<circle class="b" cx="407.75" cy="226.10"/>
<circle class="b" cx="409.20" cy="226.10"/>
<circle class="b" cx="410.65" cy="226.10"/>
<circle class="b" cx="408.47" cy="224.40"/>
<circle class="b" cx="409.93" cy="224.40"/>
<circle class="b" cx="409.20" cy="222.70"/>
<circle class="b" cx="408.47" cy="221.00"/>
<circle class="b" cx="409.93" cy="221.00"/>
<circle class="b" cx="408.47" cy="219.30"/>
<circle class="b" cx="409.93" cy="219.30"/>
<circle class="b" cx="408.47" cy="217.60"/>
<circle class="b" cx="409.93" cy="217.60"/>
<circle class="b" cx="408.47" cy="215.90"/>
<circle class="b" cx="409.93" cy="215.90"/>
<circle class="b" cx="409.20" cy="214.20"/>
<circle class="b" cx="408.47" cy="212.50"/>
<circle class="b" cx="409.93" cy="212.50"/>
<circle class="b" cx="409.20" cy="210.80"/>
<circle class="b" cx="408.47" cy="244.80"/>
<circle class="b" cx="409.93" cy="244.80"/>
<circle class="b" cx="407.75" cy="248.20"/>
<circle class="b" cx="409.20" cy="248.20"/>
<circle class="b" cx="410.65" cy="248.20"/>
<circle class="b" cx="408.47" cy="249.90"/>
<circle class="b" cx="409.93" cy="249.90"/>
<line x1="400.9" x2="417.5" y1="234.50" y2="234.50" class="M"/>
<line x1="409.2" x2="409.2" y1="255.0" y2="256.3" class="A"/>
<text x="409.2" y="262.3" class="X" fill="#4a78b0" stroke="#4a78b0">No</text>
<text x="409.2" y="267.2" class="X" fill="#4a78b0" stroke="#4a78b0">(n = 93)</text>
<circle class="g" cx="429.35" cy="244.80"/>
<circle class="g" cx="430.80" cy="244.80"/>
<circle class="g" cx="432.25" cy="244.80"/>
<circle class="g" cx="430.07" cy="243.10"/>
<circle class="g" cx="431.53" cy="243.10"/>
<circle class="g" cx="427.90" cy="241.40"/>
<circle class="g" cx="429.35" cy="241.40"/>
<circle class="g" cx="430.80" cy="241.40"/>
<circle class="g" cx="432.25" cy="241.40"/>
<circle class="g" cx="433.70" cy="241.40"/>
<circle class="g" cx="426.45" cy="239.70"/>
<circle class="g" cx="427.90" cy="239.70"/>
<circle class="g" cx="429.35" cy="239.70"/>
<circle class="g" cx="430.80" cy="239.70"/>
<circle class="g" cx="432.25" cy="239.70"/>
<circle class="g" cx="433.70" cy="239.70"/>
<circle class="g" cx="435.15" cy="239.70"/>
<circle class="g" cx="425.00" cy="238.00"/>
<circle class="g" cx="426.45" cy="238.00"/>
<circle class="g" cx="427.90" cy="238.00"/>
<circle class="g" cx="429.35" cy="238.00"/>
<circle class="g" cx="430.80" cy="238.00"/>
<circle class="g" cx="432.25" cy="238.00"/>
<circle class="g" cx="433.70" cy="238.00"/>
<circle class="g" cx="435.15" cy="238.00"/>
<circle class="g" cx="436.60" cy="238.00"/>
<circle class="g" cx="425.73" cy="236.30"/>
<circle class="g" cx="427.18" cy="236.30"/>
<circle class="g" cx="428.62" cy="236.30"/>
<circle class="g" cx="430.07" cy="236.30"/>
<circle class="g" cx="431.53" cy="236.30"/>
<circle class="g" cx="432.98" cy="236.30"/>
<circle class="g" cx="434.43" cy="236.30"/>
<circle class="g" cx="435.88" cy="236.30"/>
<circle class="g" cx="427.18" cy="234.60"/>
<circle class="g" cx="428.62" cy="234.60"/>
<circle class="g" cx="430.07" cy="234.60"/>
<circle class="g" cx="431.53" cy="234.60"/>
<circle class="g" cx="432.98" cy="234.60"/>
<circle class="g" cx="434.43" cy="234.60"/>
<circle class="g" cx="427.18" cy="232.90"/>
<circle class="g" cx="428.62" cy="232.90"/>
<circle class="g" cx="430.07" cy="232.90"/>
<circle class="g" cx="431.53" cy="232.90"/>
<circle class="g" cx="432.98" cy="232.90"/>
<circle class="g" cx="434.43" cy="232.90"/>
<circle class="g" cx="429.35" cy="231.20"/>
<circle class="g" cx="430.80" cy="231.20"/>
<circle class="g" cx="432.25" cy="231.20"/>
<circle class="g" cx="429.35" cy="229.50"/>
<circle class="g" cx="430.80" cy="229.50"/>
<circle class="g" cx="432.25" cy="229.50"/>
<circle class="g" cx="430.07" cy="227.80"/>
<circle class="g" cx="431.53" cy="227.80"/>
<circle class="g" cx="430.07" cy="224.40"/>
<circle class="g" cx="431.53" cy="224.40"/>
<circle class="g" cx="430.80" cy="226.10"/>
<circle class="g" cx="430.80" cy="222.70"/>
<circle class="g" cx="430.07" cy="221.00"/>
<circle class="g" cx="431.53" cy="221.00"/>
<circle class="g" cx="430.80" cy="219.30"/>
<circle class="g" cx="430.80" cy="217.60"/>
<circle class="g" cx="428.62" cy="246.50"/>
<circle class="g" cx="430.07" cy="246.50"/>
<circle class="g" cx="431.53" cy="246.50"/>
<circle class="g" cx="432.98" cy="246.50"/>
<circle class="g" cx="430.80" cy="248.20"/>
<line x1="422.5" x2="439.1" y1="236.50" y2="236.50" class="M"/>
<line x1="430.8" x2="430.8" y1="255.0" y2="256.3" class="A"/>
<text x="430.8" y="262.3" class="X" fill="#7cba6c" stroke="#7cba6c">Yes</text>
<text x="430.8" y="267.2" class="X" fill="#7cba6c" stroke="#7cba6c">(n = 67)</text>
<line x1="398.3" x2="398.3" y1="206.3" y2="255.0" class="A"/>
<line x1="398.0" x2="439.3" y1="255.0" y2="255.0" class="A"/>
<line x1="396.5" x2="398.3" y1="255.00" y2="255.00" class="A"/>
<text transform="translate(394.70,256.45) scale(0.97,1)" class="K">0.1</text>
<line x1="396.5" x2="398.3" y1="243.40" y2="243.40" class="A"/>
<text transform="translate(394.70,244.85) scale(0.97,1)" class="K">1</text>
<line x1="396.5" x2="398.3" y1="231.80" y2="231.80" class="A"/>
<text transform="translate(394.70,233.25) scale(0.97,1)" class="K">10</text>
<line x1="396.5" x2="398.3" y1="220.20" y2="220.20" class="A"/>
<text transform="translate(394.70,221.65) scale(0.97,1)" class="K">100</text>
<line x1="396.5" x2="398.3" y1="208.60" y2="208.60" class="A"/>
<text transform="translate(394.70,210.05) scale(0.97,1)" class="K">1000</text>
<text transform="translate(449.7,201.10000000000002) scale(1.0,1)" class="L">U</text>
<text transform="translate(492.7,202.9) scale(0.9,1)" class="T">EBV</text>
<text x="493.2" y="208.8" class="P"><tspan font-style="italic">P</tspan> = .042</text>
<text transform="translate(455.1,231.0) rotate(-90) scale(0.75,1)" class="Y">CD8/MR</text>
<circle class="b" cx="476.77" cy="248.20"/>
<circle class="b" cx="478.22" cy="248.20"/>
<circle class="b" cx="479.67" cy="248.20"/>
<circle class="b" cx="481.12" cy="248.20"/>
<circle class="b" cx="482.57" cy="248.20"/>
<circle class="b" cx="484.02" cy="248.20"/>
<circle class="b" cx="485.47" cy="248.20"/>
<circle class="b" cx="486.92" cy="248.20"/>
<circle class="b" cx="488.37" cy="248.20"/>
<circle class="b" cx="489.82" cy="248.20"/>
<circle class="b" cx="478.22" cy="246.50"/>
<circle class="b" cx="479.67" cy="246.50"/>
<circle class="b" cx="481.12" cy="246.50"/>
<circle class="b" cx="482.57" cy="246.50"/>
<circle class="b" cx="484.02" cy="246.50"/>
<circle class="b" cx="485.47" cy="246.50"/>
<circle class="b" cx="486.92" cy="246.50"/>
<circle class="b" cx="488.37" cy="246.50"/>
<circle class="b" cx="481.85" cy="244.80"/>
<circle class="b" cx="483.30" cy="244.80"/>
<circle class="b" cx="484.75" cy="244.80"/>
<circle class="b" cx="480.40" cy="243.10"/>
<circle class="b" cx="481.85" cy="243.10"/>
<circle class="b" cx="483.30" cy="243.10"/>
<circle class="b" cx="484.75" cy="243.10"/>
<circle class="b" cx="486.20" cy="243.10"/>
<circle class="b" cx="478.22" cy="241.40"/>
<circle class="b" cx="479.67" cy="241.40"/>
<circle class="b" cx="481.12" cy="241.40"/>
<circle class="b" cx="482.57" cy="241.40"/>
<circle class="b" cx="484.02" cy="241.40"/>
<circle class="b" cx="485.47" cy="241.40"/>
<circle class="b" cx="486.92" cy="241.40"/>
<circle class="b" cx="488.37" cy="241.40"/>
<circle class="b" cx="475.32" cy="239.70"/>
<circle class="b" cx="476.77" cy="239.70"/>
<circle class="b" cx="478.22" cy="239.70"/>
<circle class="b" cx="479.67" cy="239.70"/>
<circle class="b" cx="481.12" cy="239.70"/>
<circle class="b" cx="482.57" cy="239.70"/>
<circle class="b" cx="484.02" cy="239.70"/>
<circle class="b" cx="485.47" cy="239.70"/>
<circle class="b" cx="486.92" cy="239.70"/>
<circle class="b" cx="488.37" cy="239.70"/>
<circle class="b" cx="489.82" cy="239.70"/>
<circle class="b" cx="491.27" cy="239.70"/>
<circle class="b" cx="475.05" cy="238.00"/>
<circle class="b" cx="476.32" cy="238.00"/>
<circle class="b" cx="477.59" cy="238.00"/>
<circle class="b" cx="478.86" cy="238.00"/>
<circle class="b" cx="480.13" cy="238.00"/>
<circle class="b" cx="481.40" cy="238.00"/>
<circle class="b" cx="482.67" cy="238.00"/>
<circle class="b" cx="483.93" cy="238.00"/>
<circle class="b" cx="485.20" cy="238.00"/>
<circle class="b" cx="486.47" cy="238.00"/>
<circle class="b" cx="487.74" cy="238.00"/>
<circle class="b" cx="489.01" cy="238.00"/>
<circle class="b" cx="490.28" cy="238.00"/>
<circle class="b" cx="491.55" cy="238.00"/>
<circle class="b" cx="475.05" cy="236.30"/>
<circle class="b" cx="476.23" cy="236.30"/>
<circle class="b" cx="477.41" cy="236.30"/>
<circle class="b" cx="478.59" cy="236.30"/>
<circle class="b" cx="479.76" cy="236.30"/>
<circle class="b" cx="480.94" cy="236.30"/>
<circle class="b" cx="482.12" cy="236.30"/>
<circle class="b" cx="483.30" cy="236.30"/>
<circle class="b" cx="484.48" cy="236.30"/>
<circle class="b" cx="485.66" cy="236.30"/>
<circle class="b" cx="486.84" cy="236.30"/>
<circle class="b" cx="488.01" cy="236.30"/>
<circle class="b" cx="489.19" cy="236.30"/>
<circle class="b" cx="490.37" cy="236.30"/>
<circle class="b" cx="491.55" cy="236.30"/>
<circle class="b" cx="475.05" cy="234.60"/>
<circle class="b" cx="476.23" cy="234.60"/>
<circle class="b" cx="477.41" cy="234.60"/>
<circle class="b" cx="478.59" cy="234.60"/>
<circle class="b" cx="479.76" cy="234.60"/>
<circle class="b" cx="480.94" cy="234.60"/>
<circle class="b" cx="482.12" cy="234.60"/>
<circle class="b" cx="483.30" cy="234.60"/>
<circle class="b" cx="484.48" cy="234.60"/>
<circle class="b" cx="485.66" cy="234.60"/>
<circle class="b" cx="486.84" cy="234.60"/>
<circle class="b" cx="488.01" cy="234.60"/>
<circle class="b" cx="489.19" cy="234.60"/>
<circle class="b" cx="490.37" cy="234.60"/>
<circle class="b" cx="491.55" cy="234.60"/>
<circle class="b" cx="475.32" cy="232.90"/>
<circle class="b" cx="476.77" cy="232.90"/>
<circle class="b" cx="478.22" cy="232.90"/>
<circle class="b" cx="479.67" cy="232.90"/>
<circle class="b" cx="481.12" cy="232.90"/>
<circle class="b" cx="482.57" cy="232.90"/>
<circle class="b" cx="484.02" cy="232.90"/>
<circle class="b" cx="485.47" cy="232.90"/>
<circle class="b" cx="486.92" cy="232.90"/>
<circle class="b" cx="488.37" cy="232.90"/>
<circle class="b" cx="489.82" cy="232.90"/>
<circle class="b" cx="491.27" cy="232.90"/>
<circle class="b" cx="476.05" cy="231.20"/>
<circle class="b" cx="477.50" cy="231.20"/>
<circle class="b" cx="478.95" cy="231.20"/>
<circle class="b" cx="480.40" cy="231.20"/>
<circle class="b" cx="481.85" cy="231.20"/>
<circle class="b" cx="483.30" cy="231.20"/>
<circle class="b" cx="484.75" cy="231.20"/>
<circle class="b" cx="486.20" cy="231.20"/>
<circle class="b" cx="487.65" cy="231.20"/>
<circle class="b" cx="489.10" cy="231.20"/>
<circle class="b" cx="490.55" cy="231.20"/>
<circle class="b" cx="478.22" cy="229.50"/>
<circle class="b" cx="479.67" cy="229.50"/>
<circle class="b" cx="481.12" cy="229.50"/>
<circle class="b" cx="482.57" cy="229.50"/>
<circle class="b" cx="484.02" cy="229.50"/>
<circle class="b" cx="485.47" cy="229.50"/>
<circle class="b" cx="486.92" cy="229.50"/>
<circle class="b" cx="488.37" cy="229.50"/>
<circle class="b" cx="480.40" cy="227.80"/>
<circle class="b" cx="481.85" cy="227.80"/>
<circle class="b" cx="483.30" cy="227.80"/>
<circle class="b" cx="484.75" cy="227.80"/>
<circle class="b" cx="486.20" cy="227.80"/>
<circle class="b" cx="481.85" cy="226.10"/>
<circle class="b" cx="483.30" cy="226.10"/>
<circle class="b" cx="484.75" cy="226.10"/>
<circle class="b" cx="481.85" cy="224.40"/>
<circle class="b" cx="483.30" cy="224.40"/>
<circle class="b" cx="484.75" cy="224.40"/>
<circle class="b" cx="481.85" cy="221.00"/>
<circle class="b" cx="483.30" cy="221.00"/>
<circle class="b" cx="484.75" cy="221.00"/>
<circle class="b" cx="483.30" cy="222.70"/>
<circle class="b" cx="482.57" cy="219.30"/>
<circle class="b" cx="484.02" cy="219.30"/>
<circle class="b" cx="482.57" cy="217.60"/>
<circle class="b" cx="484.02" cy="217.60"/>
<circle class="b" cx="482.57" cy="215.90"/>
<circle class="b" cx="484.02" cy="215.90"/>
<circle class="b" cx="482.57" cy="214.20"/>
<circle class="b" cx="484.02" cy="214.20"/>
<circle class="b" cx="481.85" cy="212.50"/>
<circle class="b" cx="483.30" cy="212.50"/>
<circle class="b" cx="484.75" cy="212.50"/>
<circle class="b" cx="483.30" cy="210.80"/>
<line x1="475.0" x2="491.6" y1="235.50" y2="235.50" class="M"/>
<line x1="483.3" x2="483.3" y1="255.0" y2="256.3" class="A"/>
<text x="483.3" y="262.3" class="X" fill="#4a78b0" stroke="#4a78b0">Absent</text>
<text x="483.3" y="267.2" class="X" fill="#4a78b0" stroke="#4a78b0">(n = 148)</text>
<circle class="g" cx="504.90" cy="244.80"/>
<circle class="g" cx="504.90" cy="243.10"/>
<circle class="g" cx="504.17" cy="241.40"/>
<circle class="g" cx="505.62" cy="241.40"/>
<circle class="g" cx="504.90" cy="239.70"/>
<circle class="g" cx="504.17" cy="238.00"/>
<circle class="g" cx="505.62" cy="238.00"/>
<circle class="g" cx="504.90" cy="236.30"/>
<circle class="g" cx="504.90" cy="234.60"/>
<circle class="g" cx="504.90" cy="231.20"/>
<circle class="g" cx="504.90" cy="221.00"/>
<circle class="g" cx="504.90" cy="248.20"/>
<line x1="496.6" x2="513.2" y1="239.50" y2="239.50" class="M"/>
<line x1="504.9" x2="504.9" y1="255.0" y2="256.3" class="A"/>
<text x="504.9" y="262.3" class="X" fill="#7cba6c" stroke="#7cba6c">Present</text>
<text x="504.9" y="267.2" class="X" fill="#7cba6c" stroke="#7cba6c">(n = 12)</text>
<line x1="472.4" x2="472.4" y1="206.3" y2="255.0" class="A"/>
<line x1="472.09999999999997" x2="513.4" y1="255.0" y2="255.0" class="A"/>
<line x1="470.59999999999997" x2="472.4" y1="255.00" y2="255.00" class="A"/>
<text transform="translate(468.80,256.45) scale(0.97,1)" class="K">0.1</text>
<line x1="470.59999999999997" x2="472.4" y1="243.40" y2="243.40" class="A"/>
<text transform="translate(468.80,244.85) scale(0.97,1)" class="K">1</text>
<line x1="470.59999999999997" x2="472.4" y1="231.80" y2="231.80" class="A"/>
<text transform="translate(468.80,233.25) scale(0.97,1)" class="K">10</text>
<line x1="470.59999999999997" x2="472.4" y1="220.20" y2="220.20" class="A"/>
<text transform="translate(468.80,221.65) scale(0.97,1)" class="K">100</text>
<line x1="470.59999999999997" x2="472.4" y1="208.60" y2="208.60" class="A"/>
<text transform="translate(468.80,210.05) scale(0.97,1)" class="K">1000</text>
<rect x="0" y="0" width="520" height="1" fill="#555"/>
<rect x="0" y="0" width="1" height="276" fill="#3a3a3a"/>
<rect x="519" y="0" width="1" height="276" fill="#3a3a3a"/>
<rect x="0" y="275" width="520" height="1" fill="#3a3a3a"/>
</svg>
</body></html>
